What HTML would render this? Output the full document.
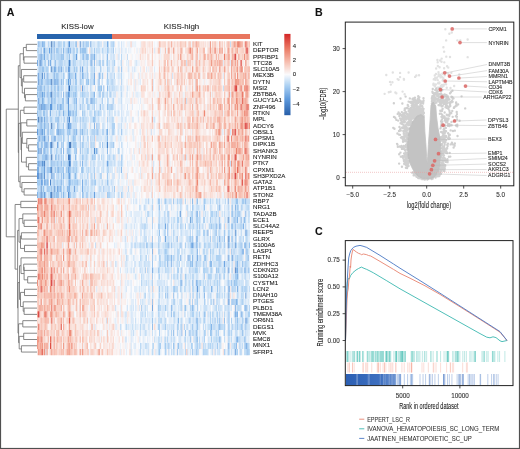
<!DOCTYPE html><html><head><meta charset="utf-8"><style>html,body{margin:0;padding:0;background:#fff;}svg{display:block;font-family:"Liberation Sans",sans-serif;filter:blur(0.35px);}text{stroke:#2a2a2a;stroke-width:0.09px;}</style></head><body>
<svg width="520" height="449" viewBox="0 0 520 449">
<rect x="0" y="0" width="520" height="449" fill="#fff"/>
<text x="6.8" y="15.6" font-size="10.6" font-weight="bold" fill="#111">A</text>
<text x="315" y="16" font-size="10.6" font-weight="bold" fill="#111">B</text>
<text x="314.9" y="235.3" font-size="10.6" font-weight="bold" fill="#111">C</text>
<text x="77.4" y="28.8" font-size="7.9" text-anchor="middle" fill="#222">KISS-low</text>
<text x="181.5" y="28.8" font-size="7.9" text-anchor="middle" fill="#222">KISS-high</text>
<rect x="37" y="34" width="75" height="5" fill="#2764ad"/>
<rect x="112" y="34" width="138" height="5" fill="#e8765f"/>
<g transform="translate(37,41.2) scale(1.18333,6.28)">
<path fill="#285ea8" d="M12 0h1v1h-1zM12 13h1v1h-1zM1 12h1v1h-1zM12 18h1v1h-1zM12 24h1v1h-1z"/>
<path fill="#2d63ad" d="M12 16h1v1h-1zM28 16h1v1h-1z"/>
<path fill="#336ab3" d="M12 8h1v1h-1zM12 20h1v1h-1zM27 7h1v1h-1z"/>
<path fill="#3970b9" d="M12 6h1v1h-1zM167 36h1v1h-1z"/>
<path fill="#3e77be" d="M2 3h1v1h-1zM6 19h1v1h-1zM12 4h1v1h-1zM26 18h1v1h-1zM161 28h1v1h-1zM161 31h1v1h-1z"/>
<path fill="#447ec4" d="M3 10h1v1h-1zM3 17h1v1h-1zM3 21h1v1h-1zM3 23h1v1h-1zM27 19h1v1h-1z"/>
<path fill="#4a84ca" d="M1 6h1v1h-1zM1 21h1v1h-1zM3 12h1v1h-1zM3 24h1v1h-1zM4 5h1v1h-1zM6 21h1v1h-1zM11 22h1v1h-1zM14 23h1v1h-1zM27 3h1v1h-1zM27 12h1v1h-1zM27 16h1v1h-1zM27 18h1v1h-1zM36 0h1v1h-1zM59 16h1v1h-1zM161 32h1v1h-1zM167 30h1v1h-1z"/>
<path fill="#508bd0" d="M4 19h1v1h-1zM26 9h1v1h-1zM26 24h1v1h-1zM48 17h1v1h-1zM121 27h1v1h-1zM129 28h1v1h-1zM161 36h1v1h-1zM167 32h1v1h-1zM176 40h1v1h-1zM176 44h1v1h-1z"/>
<path fill="#5691d6" d="M1 5h1v1h-1zM1 9h1v1h-1zM1 17h1v1h-1zM3 2h1v1h-1zM6 15h1v1h-1zM6 20h1v1h-1zM6 24h1v1h-1zM7 18h1v1h-1zM12 1h1v1h-1zM12 21h1v1h-1zM14 0h1v1h-1zM18 14h1v1h-1zM26 13h1v1h-1zM27 0h1v1h-1zM28 19h1v1h-1zM31 23h1v1h-1zM135 39h1v1h-1zM144 30h1v1h-1zM161 25h1v1h-1zM161 34h1v1h-1zM161 41h1v1h-1zM165 34h1v1h-1zM167 49h1v1h-1zM176 30h1v1h-1z"/>
<path fill="#5c98dc" d="M0 21h1v1h-1zM1 19h1v1h-1zM3 3h1v1h-1zM4 8h1v1h-1zM4 14h1v1h-1zM6 1h1v1h-1zM8 16h1v1h-1zM11 10h1v1h-1zM12 9h1v2h-1zM17 16h1v1h-1zM17 23h1v1h-1zM18 4h1v1h-1zM26 6h1v1h-1zM26 8h1v1h-1zM26 10h1v2h-1zM30 11h1v1h-1zM33 2h1v1h-1zM45 0h1v1h-1zM52 5h1v1h-1zM154 29h1v1h-1zM154 31h1v1h-1zM167 26h1v1h-1zM167 43h1v1h-1z"/>
<path fill="#669fdf" d="M0 14h1v1h-1zM3 7h1v1h-1zM3 13h1v1h-1zM6 2h1v1h-1zM6 12h1v1h-1zM6 22h1v1h-1zM8 5h1v1h-1zM8 18h1v1h-1zM14 5h1v2h-1zM14 15h1v1h-1zM20 4h1v1h-1zM26 4h1v1h-1zM27 21h1v1h-1zM28 18h1v1h-1zM36 4h1v1h-1zM46 9h1v1h-1zM48 24h1v1h-1zM50 17h1v1h-1zM134 38h1v1h-1zM161 48h1v1h-1zM167 42h1v1h-1zM172 43h1v1h-1zM176 25h1v1h-1z"/>
<path fill="#70a6e2" d="M2 8h1v1h-1zM2 19h1v1h-1zM3 14h1v1h-1zM3 22h1v1h-1zM4 9h1v1h-1zM4 22h1v1h-1zM6 5h1v1h-1zM6 10h1v1h-1zM6 14h1v1h-1zM7 16h1v1h-1zM8 11h1v2h-1zM9 3h1v1h-1zM9 15h1v1h-1zM10 1h1v1h-1zM11 16h1v1h-1zM11 20h1v1h-1zM11 24h1v1h-1zM14 1h1v1h-1zM14 24h1v1h-1zM18 18h1v1h-1zM25 12h1v1h-1zM26 20h1v1h-1zM27 4h1v1h-1zM28 6h1v1h-1zM28 13h1v1h-1zM38 4h1v1h-1zM38 7h1v1h-1zM45 9h1v1h-1zM46 3h1v1h-1zM52 6h1v1h-1zM59 19h1v1h-1zM97 42h1v1h-1zM108 29h1v1h-1zM108 31h1v1h-1zM111 32h1v1h-1zM122 38h1v1h-1zM122 46h1v1h-1zM131 32h1v1h-1zM134 46h1v1h-1zM135 34h1v1h-1zM149 41h1v1h-1zM154 26h1v1h-1zM154 45h1v1h-1zM154 47h1v1h-1zM158 35h1v1h-1zM161 40h1v1h-1zM172 28h1v1h-1zM176 27h1v1h-1zM176 32h1v1h-1zM176 42h1v1h-1zM177 33h1v1h-1z"/>
<path fill="#7baee5" d="M0 3h1v1h-1zM0 20h1v1h-1zM1 0h1v1h-1zM1 20h1v1h-1zM2 7h1v1h-1zM2 14h1v1h-1zM3 1h1v1h-1zM4 0h1v1h-1zM6 8h1v1h-1zM6 13h1v1h-1zM7 10h1v1h-1zM7 22h1v1h-1zM8 8h1v1h-1zM11 3h1v1h-1zM11 11h1v1h-1zM12 2h1v1h-1zM12 7h1v1h-1zM12 19h1v1h-1zM14 4h1v1h-1zM15 4h1v1h-1zM17 14h1v1h-1zM18 12h1v1h-1zM20 6h1v1h-1zM20 17h1v1h-1zM20 19h1v1h-1zM20 22h1v1h-1zM22 11h1v1h-1zM24 4h1v1h-1zM24 8h1v1h-1zM26 1h1v1h-1zM26 7h1v1h-1zM27 5h1v1h-1zM27 8h1v1h-1zM27 13h1v1h-1zM28 1h1v1h-1zM32 5h1v1h-1zM36 1h1v1h-1zM36 15h1v1h-1zM36 17h1v1h-1zM38 22h1v2h-1zM45 3h1v1h-1zM46 2h1v1h-1zM48 2h1v1h-1zM48 5h1v1h-1zM51 14h1v1h-1zM56 7h1v1h-1zM59 0h1v1h-1zM59 14h1v1h-1zM97 36h1v1h-1zM110 35h1v1h-1zM113 34h1v1h-1zM121 34h1v1h-1zM128 34h1v1h-1zM134 31h1v2h-1zM134 35h1v1h-1zM154 28h1v1h-1zM154 44h1v1h-1zM162 39h1v1h-1zM165 27h1v1h-1zM169 36h1v1h-1zM177 44h1v1h-1zM178 34h1v1h-1z"/>
<path fill="#85b5e8" d="M0 24h1v1h-1zM1 15h1v2h-1zM2 2h1v1h-1zM2 4h1v1h-1zM2 15h1v1h-1zM2 17h1v1h-1zM2 21h1v1h-1zM2 24h1v1h-1zM3 19h1v1h-1zM4 10h1v1h-1zM5 10h1v1h-1zM5 19h1v1h-1zM6 16h1v2h-1zM8 6h1v1h-1zM8 20h1v1h-1zM8 23h1v1h-1zM9 13h1v2h-1zM11 8h1v1h-1zM12 15h1v1h-1zM12 17h1v1h-1zM12 23h1v1h-1zM14 21h1v2h-1zM15 6h1v1h-1zM15 15h1v1h-1zM17 6h1v1h-1zM17 10h1v1h-1zM17 13h1v1h-1zM18 0h1v1h-1zM18 23h1v1h-1zM19 10h1v1h-1zM20 10h1v1h-1zM20 21h1v1h-1zM22 1h1v1h-1zM22 17h1v1h-1zM22 21h1v1h-1zM22 24h1v1h-1zM25 17h1v1h-1zM27 22h1v2h-1zM28 11h1v1h-1zM30 3h1v1h-1zM30 20h1v1h-1zM33 9h1v1h-1zM33 14h1v1h-1zM34 22h1v1h-1zM36 10h1v1h-1zM36 14h1v1h-1zM36 19h1v1h-1zM38 5h1v1h-1zM38 19h1v1h-1zM39 2h1v1h-1zM41 0h1v1h-1zM41 2h1v1h-1zM41 22h1v1h-1zM46 22h1v1h-1zM48 6h1v1h-1zM48 8h1v1h-1zM48 13h1v1h-1zM56 23h1v1h-1zM97 33h1v1h-1zM110 34h1v1h-1zM111 48h1v1h-1zM113 35h1v1h-1zM113 42h1v1h-1zM118 31h1v1h-1zM118 49h1v1h-1zM121 38h1v1h-1zM122 36h1v1h-1zM127 34h1v1h-1zM129 35h1v1h-1zM130 32h1v1h-1zM134 44h1v1h-1zM134 49h1v1h-1zM135 27h1v1h-1zM135 33h1v1h-1zM147 39h1v1h-1zM147 45h1v1h-1zM150 44h1v1h-1zM151 29h1v1h-1zM154 37h1v1h-1zM161 38h1v2h-1zM161 49h1v1h-1zM162 31h1v1h-1zM165 26h1v1h-1zM166 28h1v1h-1zM167 29h1v1h-1zM168 41h1v1h-1zM169 28h1v1h-1zM169 35h1v1h-1zM169 37h1v1h-1zM169 39h1v1h-1zM169 43h1v1h-1zM169 47h1v1h-1zM172 32h1v1h-1zM173 33h1v1h-1zM174 29h1v1h-1zM175 28h1v1h-1zM176 36h1v1h-1zM176 45h1v1h-1zM176 48h1v1h-1zM177 30h1v1h-1zM177 48h1v2h-1z"/>
<path fill="#8fbcea" d="M0 16h1v1h-1zM1 7h1v1h-1zM1 10h1v1h-1zM2 10h1v2h-1zM2 13h1v1h-1zM3 6h1v1h-1zM3 8h1v1h-1zM4 6h1v1h-1zM4 12h1v1h-1zM4 15h1v1h-1zM4 21h1v1h-1zM4 24h1v1h-1zM6 7h1v1h-1zM7 24h1v1h-1zM8 2h1v1h-1zM8 10h1v1h-1zM8 21h1v2h-1zM9 6h1v1h-1zM9 20h1v1h-1zM9 22h1v1h-1zM13 16h1v1h-1zM13 21h1v1h-1zM14 2h1v1h-1zM14 19h1v1h-1zM15 3h1v1h-1zM15 18h1v1h-1zM17 20h1v1h-1zM18 6h1v1h-1zM18 8h1v1h-1zM18 20h1v1h-1zM19 23h1v1h-1zM20 2h1v1h-1zM20 23h1v2h-1zM22 8h1v1h-1zM25 8h1v2h-1zM25 13h1v1h-1zM25 23h1v1h-1zM26 0h1v1h-1zM26 5h1v1h-1zM26 12h1v1h-1zM26 19h1v1h-1zM26 21h1v1h-1zM26 23h1v1h-1zM27 11h1v1h-1zM27 20h1v1h-1zM27 24h1v1h-1zM28 3h1v1h-1zM28 22h1v1h-1zM29 7h1v1h-1zM31 4h1v1h-1zM31 9h1v1h-1zM31 14h1v1h-1zM32 18h1v1h-1zM32 21h1v1h-1zM36 6h1v1h-1zM36 12h1v1h-1zM36 16h1v1h-1zM38 14h1v1h-1zM39 0h1v1h-1zM40 11h1v1h-1zM42 2h1v1h-1zM45 2h1v1h-1zM45 15h1v1h-1zM48 3h1v1h-1zM50 13h1v1h-1zM53 10h1v1h-1zM59 2h1v1h-1zM59 7h1v1h-1zM59 15h1v1h-1zM59 17h1v1h-1zM62 8h1v1h-1zM63 10h1v1h-1zM71 20h1v1h-1zM97 32h1v1h-1zM97 45h1v1h-1zM110 29h1v2h-1zM110 40h1v1h-1zM111 28h1v1h-1zM113 43h1v1h-1zM115 46h1v1h-1zM115 48h1v1h-1zM119 44h1v1h-1zM122 45h1v1h-1zM128 44h1v1h-1zM128 46h1v1h-1zM129 31h1v1h-1zM129 47h1v1h-1zM131 25h1v1h-1zM131 34h1v2h-1zM131 42h1v1h-1zM132 32h1v1h-1zM134 27h1v1h-1zM135 25h1v1h-1zM135 31h1v1h-1zM135 44h1v2h-1zM135 47h1v1h-1zM141 40h1v1h-1zM144 38h1v1h-1zM146 35h1v1h-1zM147 35h1v1h-1zM151 30h1v1h-1zM151 36h1v1h-1zM154 33h1v1h-1zM161 37h1v1h-1zM161 45h1v1h-1zM162 41h1v1h-1zM165 31h1v1h-1zM165 41h1v1h-1zM166 33h1v1h-1zM167 27h1v1h-1zM167 31h1v1h-1zM168 36h1v1h-1zM168 48h1v1h-1zM171 27h1v1h-1zM171 48h1v1h-1zM173 35h1v1h-1zM173 46h1v1h-1zM174 33h1v1h-1zM175 32h1v1h-1zM175 36h1v1h-1zM176 35h1v1h-1zM177 42h1v1h-1zM178 36h1v1h-1z"/>
<path fill="#9ac4ed" d="M0 8h1v1h-1zM0 11h1v1h-1zM0 19h1v1h-1zM1 2h1v1h-1zM1 14h1v1h-1zM1 18h1v1h-1zM2 0h1v1h-1zM2 6h1v1h-1zM2 9h1v1h-1zM2 12h1v1h-1zM3 5h1v1h-1zM3 11h1v1h-1zM3 15h1v2h-1zM4 4h1v1h-1zM4 16h1v1h-1zM5 0h1v1h-1zM5 4h1v1h-1zM5 9h1v1h-1zM5 11h1v1h-1zM5 15h1v1h-1zM5 23h1v1h-1zM6 0h1v1h-1zM6 11h1v1h-1zM7 6h1v1h-1zM7 13h1v1h-1zM7 15h1v1h-1zM7 17h1v1h-1zM8 14h1v1h-1zM9 7h1v4h-1zM9 23h1v1h-1zM11 6h1v1h-1zM13 9h1v1h-1zM13 14h1v1h-1zM13 19h1v1h-1zM13 24h1v1h-1zM14 8h1v1h-1zM15 20h1v1h-1zM16 6h1v1h-1zM16 24h1v1h-1zM17 5h1v1h-1zM17 7h1v1h-1zM17 12h1v1h-1zM17 19h1v1h-1zM17 24h1v1h-1zM18 1h1v2h-1zM18 7h1v1h-1zM18 10h1v1h-1zM18 13h1v1h-1zM18 15h1v1h-1zM18 21h1v1h-1zM18 24h1v1h-1zM19 3h1v1h-1zM19 14h1v1h-1zM19 20h1v1h-1zM20 1h1v1h-1zM20 8h1v1h-1zM20 14h1v1h-1zM20 16h1v1h-1zM20 18h1v1h-1zM22 2h1v1h-1zM22 9h1v1h-1zM22 20h1v1h-1zM23 12h1v1h-1zM24 18h1v1h-1zM25 1h1v1h-1zM26 3h1v1h-1zM26 17h1v1h-1zM27 2h1v1h-1zM27 14h1v1h-1zM28 20h1v2h-1zM28 24h1v1h-1zM29 5h1v1h-1zM30 1h1v2h-1zM30 6h1v1h-1zM30 12h1v1h-1zM30 14h1v2h-1zM31 15h1v1h-1zM32 8h1v1h-1zM33 0h1v1h-1zM33 10h1v2h-1zM33 17h1v1h-1zM36 5h1v1h-1zM36 13h1v1h-1zM38 1h1v1h-1zM38 20h1v1h-1zM38 24h1v1h-1zM39 1h1v1h-1zM39 5h1v1h-1zM39 15h1v1h-1zM40 1h1v1h-1zM40 13h1v1h-1zM41 1h1v1h-1zM41 9h1v1h-1zM41 18h1v2h-1zM41 24h1v1h-1zM43 6h1v1h-1zM45 6h1v2h-1zM45 16h1v1h-1zM45 24h1v1h-1zM46 4h1v1h-1zM46 14h1v1h-1zM47 9h1v1h-1zM47 12h1v1h-1zM48 12h1v1h-1zM52 3h1v1h-1zM52 8h1v1h-1zM52 13h1v1h-1zM52 18h1v1h-1zM54 7h1v1h-1zM55 5h1v1h-1zM55 16h1v1h-1zM56 3h1v1h-1zM56 8h1v1h-1zM58 14h1v1h-1zM59 10h1v1h-1zM59 22h1v1h-1zM62 10h1v1h-1zM62 16h1v1h-1zM63 6h1v1h-1zM63 14h1v1h-1zM64 1h1v1h-1zM64 16h1v1h-1zM68 17h1v1h-1zM88 42h1v1h-1zM90 32h1v1h-1zM91 36h1v1h-1zM94 25h1v1h-1zM97 35h1v1h-1zM97 41h1v1h-1zM97 44h1v1h-1zM102 36h1v1h-1zM102 42h1v1h-1zM103 26h1v1h-1zM103 30h1v1h-1zM111 27h1v1h-1zM111 34h1v1h-1zM111 49h1v1h-1zM113 32h1v1h-1zM115 25h1v1h-1zM115 40h1v1h-1zM116 41h1v1h-1zM116 43h1v1h-1zM118 25h1v1h-1zM118 37h1v1h-1zM118 45h1v2h-1zM119 48h1v1h-1zM121 29h1v1h-1zM121 32h1v1h-1zM121 39h1v1h-1zM122 33h1v1h-1zM122 40h1v1h-1zM122 42h1v1h-1zM122 44h1v1h-1zM125 42h1v1h-1zM125 46h1v1h-1zM128 38h1v1h-1zM134 28h1v1h-1zM134 47h1v1h-1zM135 38h1v1h-1zM137 29h1v1h-1zM138 34h1v1h-1zM141 26h1v1h-1zM141 43h1v1h-1zM142 34h1v1h-1zM144 41h1v1h-1zM146 46h1v1h-1zM150 49h1v1h-1zM151 27h1v1h-1zM152 32h1v1h-1zM154 25h1v1h-1zM154 34h1v2h-1zM154 38h1v1h-1zM154 43h1v1h-1zM155 32h1v1h-1zM158 31h1v1h-1zM158 44h1v1h-1zM161 26h1v1h-1zM161 43h1v2h-1zM161 46h1v1h-1zM162 32h1v1h-1zM164 29h1v1h-1zM164 38h1v1h-1zM165 29h1v1h-1zM165 32h1v1h-1zM165 39h1v1h-1zM165 45h1v1h-1zM166 38h1v1h-1zM166 41h1v1h-1zM167 28h1v1h-1zM167 38h1v1h-1zM167 44h1v1h-1zM168 25h1v1h-1zM168 43h1v1h-1zM168 47h1v1h-1zM169 25h1v1h-1zM169 44h1v1h-1zM170 27h1v1h-1zM171 31h1v1h-1zM172 26h1v1h-1zM172 29h1v2h-1zM172 36h1v1h-1zM172 49h1v1h-1zM175 47h1v1h-1zM176 29h1v1h-1zM176 39h1v1h-1zM177 31h1v1h-1zM178 43h1v1h-1zM178 49h1v1h-1zM179 32h1v1h-1z"/>
<path fill="#a4cbf0" d="M0 7h1v1h-1zM0 22h1v1h-1zM1 1h1v1h-1zM1 8h1v1h-1zM1 22h1v3h-1zM2 5h1v1h-1zM2 22h1v1h-1zM3 4h1v1h-1zM3 20h1v1h-1zM4 2h1v1h-1zM4 18h1v1h-1zM4 20h1v1h-1zM5 1h1v1h-1zM5 8h1v1h-1zM5 17h1v2h-1zM5 20h1v1h-1zM6 18h1v1h-1zM8 1h1v1h-1zM8 7h1v1h-1zM8 13h1v1h-1zM8 19h1v1h-1zM9 0h1v1h-1zM9 5h1v1h-1zM9 16h1v1h-1zM9 18h1v1h-1zM10 20h1v1h-1zM11 17h1v1h-1zM12 14h1v1h-1zM13 10h1v1h-1zM13 15h1v1h-1zM13 22h1v1h-1zM14 7h1v1h-1zM14 9h1v1h-1zM14 13h1v1h-1zM15 7h1v3h-1zM15 23h1v1h-1zM16 1h1v1h-1zM16 5h1v1h-1zM17 1h1v1h-1zM17 8h1v1h-1zM17 22h1v1h-1zM18 3h1v1h-1zM18 5h1v1h-1zM18 9h1v1h-1zM18 11h1v1h-1zM18 16h1v1h-1zM18 19h1v1h-1zM19 0h1v1h-1zM19 2h1v1h-1zM19 4h1v1h-1zM19 11h1v1h-1zM19 22h1v1h-1zM20 3h1v1h-1zM20 7h1v1h-1zM20 15h1v1h-1zM20 20h1v1h-1zM21 2h1v1h-1zM21 9h1v1h-1zM22 5h1v2h-1zM22 10h1v1h-1zM22 13h1v4h-1zM23 19h1v1h-1zM24 1h1v1h-1zM24 9h1v1h-1zM24 20h1v1h-1zM25 2h1v1h-1zM25 14h1v1h-1zM25 19h1v2h-1zM26 14h1v3h-1zM26 22h1v1h-1zM27 17h1v1h-1zM28 5h1v1h-1zM29 13h1v1h-1zM30 0h1v1h-1zM30 5h1v1h-1zM30 8h1v1h-1zM30 16h1v1h-1zM30 24h1v1h-1zM31 1h1v1h-1zM31 8h1v1h-1zM31 10h1v1h-1zM31 16h1v1h-1zM31 22h1v1h-1zM32 6h1v1h-1zM32 16h1v1h-1zM33 4h1v1h-1zM33 6h1v1h-1zM33 20h1v1h-1zM36 7h1v1h-1zM37 20h1v1h-1zM38 8h1v1h-1zM38 11h1v1h-1zM38 16h1v1h-1zM38 18h1v1h-1zM39 9h1v1h-1zM39 12h1v1h-1zM39 24h1v1h-1zM40 8h1v1h-1zM40 14h1v1h-1zM41 6h1v1h-1zM41 12h1v1h-1zM42 4h1v3h-1zM42 9h1v1h-1zM42 14h1v1h-1zM42 17h1v1h-1zM42 24h1v1h-1zM45 8h1v1h-1zM45 19h1v1h-1zM46 1h1v1h-1zM46 5h1v1h-1zM46 16h1v1h-1zM46 18h1v1h-1zM46 21h1v1h-1zM47 2h1v1h-1zM47 6h1v1h-1zM47 8h1v1h-1zM47 14h1v1h-1zM47 18h1v1h-1zM48 1h1v1h-1zM48 4h1v1h-1zM48 9h1v1h-1zM48 11h1v1h-1zM48 21h1v1h-1zM49 22h1v1h-1zM50 14h1v1h-1zM51 0h1v1h-1zM51 7h1v1h-1zM52 1h1v1h-1zM52 7h1v1h-1zM53 3h1v2h-1zM53 7h1v2h-1zM55 8h1v2h-1zM56 14h1v1h-1zM59 1h1v1h-1zM59 3h1v1h-1zM59 5h1v1h-1zM59 21h1v1h-1zM59 24h1v1h-1zM61 18h1v1h-1zM62 0h1v1h-1zM62 5h1v1h-1zM63 7h1v1h-1zM63 12h1v1h-1zM63 23h1v1h-1zM64 0h1v1h-1zM64 14h1v1h-1zM65 23h1v1h-1zM71 4h1v1h-1zM71 14h1v1h-1zM79 33h1v1h-1zM88 38h1v1h-1zM90 26h1v1h-1zM90 29h1v2h-1zM90 45h1v1h-1zM91 40h1v1h-1zM92 32h1v1h-1zM97 31h1v1h-1zM97 34h1v1h-1zM97 37h1v1h-1zM102 25h1v1h-1zM102 29h1v1h-1zM102 32h1v1h-1zM103 25h1v1h-1zM103 39h1v1h-1zM103 49h1v1h-1zM104 48h1v1h-1zM108 25h1v1h-1zM108 33h1v1h-1zM108 40h1v1h-1zM108 42h1v1h-1zM108 45h1v1h-1zM108 48h1v1h-1zM110 27h1v1h-1zM110 32h1v1h-1zM110 39h1v1h-1zM110 47h1v1h-1zM113 46h1v1h-1zM115 39h1v1h-1zM115 43h1v1h-1zM116 39h1v1h-1zM118 29h1v1h-1zM118 36h1v1h-1zM118 39h1v1h-1zM121 37h1v1h-1zM122 25h1v1h-1zM122 28h1v1h-1zM122 32h1v1h-1zM122 48h1v1h-1zM125 37h1v1h-1zM128 29h1v1h-1zM128 31h1v1h-1zM129 30h1v1h-1zM129 32h1v1h-1zM129 34h1v1h-1zM129 42h1v1h-1zM129 46h1v1h-1zM131 26h1v1h-1zM131 28h1v1h-1zM131 31h1v1h-1zM131 38h1v1h-1zM131 45h1v1h-1zM131 49h1v1h-1zM132 29h1v1h-1zM132 42h1v1h-1zM133 41h1v1h-1zM135 28h1v2h-1zM135 32h1v1h-1zM135 40h1v3h-1zM135 48h1v1h-1zM137 27h1v1h-1zM137 32h1v1h-1zM137 40h1v1h-1zM137 43h1v1h-1zM140 28h1v1h-1zM140 35h1v1h-1zM140 49h1v1h-1zM141 25h1v1h-1zM141 34h1v1h-1zM141 39h1v1h-1zM144 36h1v1h-1zM144 40h1v1h-1zM144 43h1v1h-1zM144 49h1v1h-1zM146 28h1v1h-1zM146 31h1v1h-1zM146 33h1v1h-1zM147 29h1v1h-1zM147 46h1v1h-1zM148 43h1v1h-1zM149 45h1v1h-1zM150 30h1v3h-1zM151 42h1v1h-1zM151 46h1v1h-1zM152 39h1v1h-1zM152 48h1v1h-1zM153 36h1v1h-1zM154 32h1v1h-1zM154 39h1v2h-1zM155 29h1v1h-1zM155 34h1v2h-1zM155 45h1v1h-1zM158 30h1v1h-1zM158 36h1v1h-1zM161 42h1v1h-1zM161 47h1v1h-1zM162 40h1v1h-1zM162 46h1v1h-1zM164 33h1v1h-1zM164 44h1v1h-1zM165 36h1v1h-1zM167 35h1v1h-1zM167 37h1v1h-1zM167 39h1v1h-1zM167 41h1v1h-1zM167 45h1v1h-1zM168 37h1v2h-1zM169 26h1v1h-1zM169 41h1v1h-1zM169 45h1v1h-1zM171 29h1v1h-1zM171 32h1v1h-1zM171 42h1v1h-1zM171 47h1v1h-1zM172 33h1v2h-1zM172 45h1v1h-1zM173 25h1v1h-1zM173 39h1v1h-1zM173 41h1v1h-1zM173 43h1v3h-1zM174 25h1v1h-1zM175 42h1v1h-1zM176 33h1v1h-1zM176 37h1v2h-1zM176 43h1v1h-1zM176 46h1v2h-1zM177 34h1v1h-1zM177 39h1v1h-1zM178 26h1v1h-1zM178 48h1v1h-1z"/>
<path fill="#aed2f3" d="M0 12h1v1h-1zM0 17h1v2h-1zM1 4h1v1h-1zM1 11h1v1h-1zM1 13h1v1h-1zM2 18h1v1h-1zM2 23h1v1h-1zM3 0h1v1h-1zM3 9h1v1h-1zM4 3h1v1h-1zM4 13h1v1h-1zM5 2h1v1h-1zM5 14h1v1h-1zM5 21h1v1h-1zM5 24h1v1h-1zM6 3h1v1h-1zM7 1h1v1h-1zM7 3h1v2h-1zM7 12h1v1h-1zM8 4h1v1h-1zM8 17h1v1h-1zM9 2h1v1h-1zM9 4h1v1h-1zM9 17h1v1h-1zM9 19h1v1h-1zM9 21h1v1h-1zM10 6h1v1h-1zM10 23h1v1h-1zM11 12h1v1h-1zM11 14h1v1h-1zM12 12h1v1h-1zM13 0h1v1h-1zM13 4h1v3h-1zM13 8h1v1h-1zM13 11h1v1h-1zM13 13h1v1h-1zM14 3h1v1h-1zM14 20h1v1h-1zM15 12h1v1h-1zM15 24h1v1h-1zM16 12h1v1h-1zM16 14h1v1h-1zM16 17h1v2h-1zM17 2h1v1h-1zM18 22h1v1h-1zM19 15h1v1h-1zM19 17h1v1h-1zM19 19h1v1h-1zM20 0h1v1h-1zM21 10h1v1h-1zM21 14h1v1h-1zM21 20h1v1h-1zM22 0h1v1h-1zM22 18h1v2h-1zM22 22h1v2h-1zM23 0h1v1h-1zM23 3h1v1h-1zM24 7h1v1h-1zM24 11h1v1h-1zM24 19h1v1h-1zM24 21h1v1h-1zM24 24h1v1h-1zM25 16h1v1h-1zM27 1h1v1h-1zM27 6h1v1h-1zM28 14h1v1h-1zM28 17h1v1h-1zM29 11h1v1h-1zM29 15h1v2h-1zM29 22h1v1h-1zM30 7h1v1h-1zM30 9h1v1h-1zM30 19h1v1h-1zM30 22h1v1h-1zM31 2h1v1h-1zM31 17h1v1h-1zM31 20h1v2h-1zM31 24h1v1h-1zM32 0h1v1h-1zM32 7h1v1h-1zM32 9h1v1h-1zM32 11h1v2h-1zM32 14h1v2h-1zM32 17h1v1h-1zM32 22h1v1h-1zM33 1h1v1h-1zM33 7h1v2h-1zM33 19h1v1h-1zM33 22h1v1h-1zM34 1h1v1h-1zM34 23h1v1h-1zM36 3h1v1h-1zM36 8h1v1h-1zM36 22h1v1h-1zM36 24h1v1h-1zM37 1h1v1h-1zM38 2h1v1h-1zM39 3h1v1h-1zM39 8h1v1h-1zM39 16h1v1h-1zM39 18h1v1h-1zM39 20h1v1h-1zM40 17h1v1h-1zM40 22h1v1h-1zM41 13h1v1h-1zM41 16h1v1h-1zM42 0h1v1h-1zM42 3h1v1h-1zM42 10h1v1h-1zM42 15h1v1h-1zM42 21h1v1h-1zM43 0h1v1h-1zM43 2h1v1h-1zM43 10h1v1h-1zM45 5h1v1h-1zM45 11h1v3h-1zM45 20h1v2h-1zM46 8h1v1h-1zM46 23h1v1h-1zM48 10h1v1h-1zM48 14h1v2h-1zM48 18h1v1h-1zM48 20h1v1h-1zM48 22h1v1h-1zM50 1h1v1h-1zM51 6h1v1h-1zM51 11h1v1h-1zM51 13h1v1h-1zM51 17h1v1h-1zM52 0h1v1h-1zM52 11h1v1h-1zM52 23h1v2h-1zM53 5h1v1h-1zM53 16h1v1h-1zM53 21h1v1h-1zM55 1h1v1h-1zM55 3h1v1h-1zM55 14h1v1h-1zM56 18h1v3h-1zM59 4h1v1h-1zM59 6h1v1h-1zM59 12h1v1h-1zM60 19h1v1h-1zM60 24h1v1h-1zM61 7h1v2h-1zM61 10h1v2h-1zM61 24h1v1h-1zM62 2h1v1h-1zM62 6h1v1h-1zM62 17h1v1h-1zM63 0h1v1h-1zM63 13h1v1h-1zM63 16h1v1h-1zM64 9h1v1h-1zM64 13h1v1h-1zM64 18h1v1h-1zM65 3h1v1h-1zM65 13h1v1h-1zM68 14h1v1h-1zM68 19h1v1h-1zM71 18h1v2h-1zM71 24h1v1h-1zM74 31h1v1h-1zM79 27h1v1h-1zM79 32h1v1h-1zM79 36h1v1h-1zM83 32h1v1h-1zM83 44h1v1h-1zM88 37h1v1h-1zM89 41h1v1h-1zM91 29h1v1h-1zM91 43h1v1h-1zM93 32h1v1h-1zM94 39h1v1h-1zM96 32h1v1h-1zM97 26h1v1h-1zM97 28h1v2h-1zM97 38h1v1h-1zM100 34h1v1h-1zM102 31h1v1h-1zM102 43h1v1h-1zM102 45h1v1h-1zM103 29h1v1h-1zM103 34h1v1h-1zM103 37h1v1h-1zM103 40h1v1h-1zM103 45h1v2h-1zM103 48h1v1h-1zM104 35h1v1h-1zM106 32h1v1h-1zM107 27h1v1h-1zM107 33h1v1h-1zM108 34h1v1h-1zM108 49h1v1h-1zM109 33h1v1h-1zM111 31h1v1h-1zM111 36h1v1h-1zM113 29h1v1h-1zM115 30h1v1h-1zM115 34h1v1h-1zM115 41h1v1h-1zM116 28h1v1h-1zM116 33h1v1h-1zM116 37h1v1h-1zM116 44h1v1h-1zM117 39h1v1h-1zM118 27h1v2h-1zM118 35h1v1h-1zM118 40h1v1h-1zM119 28h1v1h-1zM119 36h1v1h-1zM121 25h1v2h-1zM121 45h1v1h-1zM122 29h1v1h-1zM124 45h1v1h-1zM125 29h1v1h-1zM125 32h1v1h-1zM127 26h1v2h-1zM127 45h1v1h-1zM129 29h1v1h-1zM129 40h1v1h-1zM129 44h1v1h-1zM130 35h1v1h-1zM130 48h1v1h-1zM131 27h1v1h-1zM131 41h1v1h-1zM131 43h1v1h-1zM132 37h1v1h-1zM132 40h1v1h-1zM132 43h1v1h-1zM133 36h1v1h-1zM134 36h1v1h-1zM134 40h1v1h-1zM134 43h1v1h-1zM134 45h1v1h-1zM134 48h1v1h-1zM135 30h1v1h-1zM135 36h1v1h-1zM137 28h1v1h-1zM137 30h1v1h-1zM137 38h1v1h-1zM137 47h1v2h-1zM138 38h1v1h-1zM138 44h1v1h-1zM140 30h1v1h-1zM140 33h1v1h-1zM140 36h1v1h-1zM140 38h1v2h-1zM140 45h1v1h-1zM140 48h1v1h-1zM141 28h1v1h-1zM141 30h1v1h-1zM141 32h1v1h-1zM141 36h1v2h-1zM141 41h1v1h-1zM141 44h1v1h-1zM141 46h1v2h-1zM143 33h1v1h-1zM143 35h1v2h-1zM144 31h1v1h-1zM144 37h1v1h-1zM144 39h1v1h-1zM144 45h1v2h-1zM145 37h1v1h-1zM146 25h1v1h-1zM146 34h1v1h-1zM146 37h1v1h-1zM146 43h1v3h-1zM146 48h1v1h-1zM147 27h1v1h-1zM147 36h1v1h-1zM147 47h1v1h-1zM148 27h1v1h-1zM148 39h1v1h-1zM148 44h1v1h-1zM148 48h1v1h-1zM149 31h1v1h-1zM149 35h1v1h-1zM149 47h1v1h-1zM150 28h1v2h-1zM150 45h1v1h-1zM151 25h1v1h-1zM151 34h1v1h-1zM151 47h1v1h-1zM152 34h1v1h-1zM152 38h1v1h-1zM152 40h1v1h-1zM152 43h1v2h-1zM153 34h1v1h-1zM153 45h1v2h-1zM154 30h1v1h-1zM154 48h1v1h-1zM155 42h1v1h-1zM155 47h1v1h-1zM156 31h1v1h-1zM156 40h1v1h-1zM156 45h1v1h-1zM158 32h1v1h-1zM158 37h1v1h-1zM158 39h1v1h-1zM158 45h1v2h-1zM158 49h1v1h-1zM159 25h1v1h-1zM161 30h1v1h-1zM161 33h1v1h-1zM161 35h1v1h-1zM162 28h1v1h-1zM162 30h1v1h-1zM162 34h1v1h-1zM162 36h1v1h-1zM162 43h1v3h-1zM162 48h1v1h-1zM164 27h1v1h-1zM164 31h1v1h-1zM164 34h1v1h-1zM164 41h1v1h-1zM164 46h1v1h-1zM165 25h1v1h-1zM165 30h1v1h-1zM165 35h1v1h-1zM166 39h1v1h-1zM166 48h1v1h-1zM167 25h1v1h-1zM167 34h1v1h-1zM167 48h1v1h-1zM168 32h1v1h-1zM168 35h1v1h-1zM169 27h1v1h-1zM169 34h1v1h-1zM169 49h1v1h-1zM170 26h1v1h-1zM170 47h1v1h-1zM171 33h1v3h-1zM171 45h1v1h-1zM171 49h1v1h-1zM172 39h1v1h-1zM172 41h1v1h-1zM175 39h1v1h-1zM175 48h1v1h-1zM176 28h1v1h-1zM176 31h1v1h-1zM176 34h1v1h-1zM176 49h1v1h-1zM177 26h1v1h-1zM177 32h1v1h-1zM177 35h1v1h-1zM179 43h1v1h-1z"/>
<path fill="#bbd9f4" d="M0 1h1v1h-1zM0 10h1v1h-1zM0 13h1v1h-1zM2 1h1v1h-1zM2 20h1v1h-1zM3 18h1v1h-1zM4 7h1v1h-1zM4 23h1v1h-1zM5 7h1v1h-1zM5 13h1v1h-1zM6 4h1v1h-1zM6 6h1v1h-1zM6 9h1v1h-1zM7 7h1v1h-1zM7 11h1v1h-1zM7 19h1v1h-1zM8 9h1v1h-1zM8 15h1v1h-1zM9 24h1v1h-1zM10 8h1v3h-1zM11 1h1v2h-1zM11 18h1v2h-1zM11 23h1v1h-1zM13 1h1v2h-1zM13 7h1v1h-1zM13 12h1v1h-1zM13 18h1v1h-1zM13 20h1v1h-1zM13 23h1v1h-1zM14 10h1v1h-1zM14 14h1v1h-1zM14 17h1v1h-1zM15 5h1v1h-1zM15 10h1v1h-1zM15 19h1v1h-1zM16 2h1v1h-1zM16 4h1v1h-1zM16 11h1v1h-1zM16 19h1v1h-1zM16 22h1v1h-1zM17 15h1v1h-1zM17 17h1v1h-1zM17 21h1v1h-1zM19 1h1v1h-1zM19 7h1v1h-1zM19 9h1v1h-1zM19 13h1v1h-1zM20 5h1v1h-1zM20 12h1v1h-1zM21 3h1v1h-1zM21 16h1v1h-1zM22 4h1v1h-1zM23 5h1v1h-1zM23 11h1v1h-1zM23 14h1v2h-1zM23 23h1v2h-1zM24 2h1v2h-1zM24 6h1v1h-1zM24 10h1v1h-1zM24 22h1v1h-1zM25 6h1v1h-1zM25 21h1v1h-1zM28 4h1v1h-1zM28 7h1v2h-1zM29 8h1v1h-1zM29 10h1v1h-1zM29 20h1v1h-1zM29 23h1v1h-1zM30 4h1v1h-1zM31 3h1v1h-1zM31 7h1v1h-1zM31 11h1v2h-1zM31 19h1v1h-1zM32 2h1v2h-1zM32 19h1v2h-1zM33 5h1v1h-1zM33 16h1v1h-1zM33 21h1v1h-1zM34 4h1v1h-1zM35 22h1v1h-1zM36 2h1v1h-1zM36 18h1v1h-1zM36 21h1v1h-1zM37 6h1v1h-1zM37 14h1v1h-1zM38 9h1v2h-1zM38 12h1v1h-1zM38 17h1v1h-1zM39 11h1v1h-1zM39 14h1v1h-1zM40 0h1v1h-1zM40 2h1v2h-1zM40 10h1v1h-1zM40 12h1v1h-1zM40 19h1v1h-1zM40 21h1v1h-1zM41 8h1v1h-1zM41 17h1v1h-1zM42 18h1v1h-1zM42 23h1v1h-1zM43 17h1v1h-1zM43 20h1v1h-1zM44 10h1v1h-1zM45 1h1v1h-1zM45 4h1v1h-1zM45 14h1v1h-1zM45 22h1v2h-1zM46 6h1v1h-1zM46 11h1v2h-1zM46 24h1v1h-1zM47 5h1v1h-1zM47 16h1v1h-1zM47 22h1v1h-1zM48 16h1v1h-1zM49 11h1v2h-1zM49 17h1v2h-1zM50 3h1v1h-1zM50 9h1v1h-1zM51 1h1v1h-1zM51 15h1v1h-1zM51 19h1v2h-1zM52 16h1v1h-1zM52 22h1v1h-1zM53 11h1v1h-1zM53 23h1v1h-1zM54 18h1v1h-1zM54 21h1v1h-1zM55 22h1v1h-1zM56 10h1v2h-1zM56 13h1v1h-1zM57 0h1v1h-1zM57 15h1v1h-1zM58 3h1v1h-1zM58 16h1v1h-1zM59 8h1v2h-1zM59 18h1v1h-1zM59 20h1v1h-1zM60 0h1v2h-1zM60 6h1v1h-1zM60 10h1v1h-1zM60 20h1v1h-1zM61 3h1v1h-1zM61 12h1v1h-1zM61 23h1v1h-1zM62 15h1v1h-1zM62 24h1v1h-1zM63 3h1v1h-1zM63 11h1v1h-1zM63 20h1v1h-1zM64 12h1v1h-1zM65 5h1v1h-1zM68 11h1v1h-1zM68 22h1v1h-1zM69 17h1v1h-1zM71 2h1v2h-1zM71 5h1v2h-1zM71 8h1v1h-1zM72 18h1v1h-1zM72 24h1v1h-1zM75 34h1v1h-1zM75 45h1v1h-1zM77 23h1v1h-1zM79 29h1v1h-1zM79 42h1v1h-1zM79 46h1v1h-1zM79 48h1v2h-1zM80 45h1v1h-1zM83 37h1v1h-1zM83 45h1v1h-1zM87 32h1v1h-1zM87 34h1v1h-1zM87 45h1v1h-1zM87 48h1v2h-1zM88 44h1v1h-1zM89 32h1v1h-1zM90 40h1v1h-1zM91 42h1v1h-1zM91 46h1v1h-1zM91 48h1v1h-1zM92 34h1v1h-1zM93 27h1v1h-1zM93 36h1v1h-1zM94 27h1v1h-1zM94 34h1v2h-1zM94 38h1v1h-1zM94 45h1v1h-1zM94 49h1v1h-1zM95 32h1v1h-1zM96 14h1v1h-1zM97 25h1v1h-1zM97 27h1v1h-1zM97 39h1v1h-1zM97 43h1v1h-1zM97 49h1v1h-1zM98 48h1v1h-1zM99 47h1v1h-1zM100 44h1v1h-1zM102 33h1v1h-1zM102 41h1v1h-1zM102 44h1v1h-1zM102 47h1v3h-1zM103 27h1v2h-1zM103 33h1v1h-1zM103 35h1v2h-1zM103 42h1v1h-1zM104 34h1v1h-1zM104 42h1v1h-1zM104 44h1v1h-1zM105 25h1v1h-1zM105 44h1v1h-1zM105 47h1v1h-1zM106 42h1v1h-1zM106 45h1v1h-1zM107 25h1v1h-1zM107 30h1v1h-1zM107 34h1v2h-1zM107 38h1v1h-1zM108 30h1v1h-1zM108 32h1v1h-1zM108 35h1v2h-1zM108 44h1v1h-1zM108 47h1v1h-1zM109 32h1v1h-1zM109 34h1v1h-1zM110 33h1v1h-1zM110 36h1v1h-1zM110 43h1v1h-1zM110 48h1v1h-1zM111 37h1v1h-1zM112 34h1v1h-1zM113 37h1v1h-1zM113 47h1v1h-1zM113 49h1v1h-1zM115 31h1v1h-1zM115 37h1v1h-1zM115 45h1v1h-1zM115 49h1v1h-1zM116 32h1v1h-1zM116 34h1v1h-1zM116 48h1v1h-1zM117 31h1v1h-1zM118 32h1v3h-1zM118 48h1v1h-1zM119 33h1v2h-1zM119 45h1v1h-1zM120 35h1v1h-1zM121 28h1v1h-1zM121 41h1v2h-1zM122 31h1v1h-1zM122 35h1v1h-1zM122 37h1v1h-1zM122 39h1v1h-1zM122 41h1v1h-1zM122 49h1v1h-1zM124 39h1v1h-1zM124 42h1v1h-1zM125 25h1v1h-1zM125 38h1v1h-1zM125 47h1v1h-1zM125 49h1v1h-1zM127 43h1v1h-1zM127 47h1v1h-1zM127 49h1v1h-1zM128 36h1v1h-1zM128 41h1v1h-1zM129 25h1v1h-1zM129 36h1v2h-1zM129 41h1v1h-1zM129 43h1v1h-1zM129 49h1v1h-1zM130 27h1v2h-1zM130 33h1v1h-1zM131 33h1v1h-1zM131 37h1v1h-1zM131 39h1v1h-1zM131 46h1v1h-1zM131 48h1v1h-1zM132 26h1v1h-1zM132 38h1v2h-1zM132 44h1v1h-1zM132 46h1v1h-1zM133 47h1v2h-1zM134 25h1v2h-1zM134 29h1v2h-1zM134 33h1v2h-1zM134 37h1v1h-1zM134 39h1v1h-1zM134 41h1v1h-1zM135 35h1v1h-1zM135 46h1v1h-1zM135 49h1v1h-1zM137 34h1v1h-1zM137 39h1v1h-1zM138 32h1v1h-1zM138 42h1v1h-1zM140 44h1v1h-1zM141 33h1v1h-1zM141 49h1v1h-1zM142 25h1v1h-1zM142 32h1v1h-1zM142 36h1v1h-1zM142 43h1v1h-1zM142 46h1v1h-1zM142 49h1v1h-1zM143 30h1v1h-1zM143 34h1v1h-1zM143 42h1v1h-1zM143 49h1v1h-1zM144 27h1v1h-1zM144 32h1v2h-1zM144 44h1v1h-1zM144 48h1v1h-1zM145 29h1v1h-1zM145 32h1v1h-1zM145 35h1v1h-1zM145 45h1v1h-1zM145 48h1v1h-1zM146 29h1v1h-1zM146 32h1v1h-1zM146 36h1v1h-1zM146 38h1v1h-1zM146 40h1v1h-1zM147 37h1v1h-1zM147 41h1v1h-1zM148 29h1v1h-1zM148 31h1v1h-1zM148 33h1v2h-1zM148 49h1v1h-1zM149 29h1v2h-1zM149 32h1v2h-1zM149 38h1v1h-1zM149 43h1v1h-1zM150 35h1v1h-1zM150 37h1v2h-1zM150 42h1v1h-1zM150 47h1v1h-1zM151 37h1v1h-1zM151 40h1v1h-1zM151 43h1v1h-1zM152 31h1v1h-1zM152 36h1v1h-1zM153 35h1v1h-1zM153 42h1v1h-1zM154 36h1v1h-1zM154 49h1v1h-1zM155 37h1v1h-1zM155 48h1v1h-1zM156 27h1v1h-1zM156 36h1v1h-1zM156 43h1v1h-1zM158 29h1v1h-1zM158 40h1v1h-1zM158 43h1v1h-1zM159 42h1v1h-1zM161 29h1v1h-1zM162 29h1v1h-1zM162 35h1v1h-1zM162 38h1v1h-1zM162 47h1v1h-1zM162 49h1v1h-1zM164 26h1v1h-1zM164 47h1v1h-1zM165 28h1v1h-1zM165 48h1v1h-1zM166 43h1v1h-1zM168 28h1v1h-1zM168 30h1v1h-1zM168 49h1v1h-1zM169 38h1v1h-1zM169 40h1v1h-1zM169 42h1v1h-1zM170 32h1v1h-1zM170 34h1v1h-1zM170 37h1v1h-1zM170 42h1v1h-1zM171 36h1v1h-1zM171 44h1v1h-1zM171 46h1v1h-1zM172 31h1v1h-1zM172 38h1v1h-1zM172 40h1v1h-1zM172 42h1v1h-1zM173 26h1v1h-1zM173 29h1v1h-1zM173 32h1v1h-1zM173 36h1v1h-1zM173 40h1v1h-1zM173 48h1v1h-1zM174 31h1v1h-1zM175 25h1v1h-1zM175 49h1v1h-1zM176 26h1v1h-1zM176 41h1v1h-1zM177 38h1v1h-1zM177 45h1v1h-1zM178 27h1v2h-1zM178 33h1v1h-1zM178 35h1v1h-1zM178 44h1v1h-1zM179 42h1v1h-1zM179 49h1v1h-1z"/>
<path fill="#c7dff6" d="M0 5h1v1h-1zM0 9h1v1h-1zM0 15h1v1h-1zM0 23h1v1h-1zM1 3h1v1h-1zM2 16h1v1h-1zM5 6h1v1h-1zM5 12h1v1h-1zM6 23h1v1h-1zM7 2h1v1h-1zM7 8h1v1h-1zM7 20h1v1h-1zM9 1h1v1h-1zM9 12h1v1h-1zM10 3h1v1h-1zM10 24h1v1h-1zM11 0h1v1h-1zM11 4h1v1h-1zM11 7h1v1h-1zM11 9h1v1h-1zM11 13h1v1h-1zM12 3h1v1h-1zM12 5h1v1h-1zM12 22h1v1h-1zM14 16h1v1h-1zM15 2h1v1h-1zM15 22h1v1h-1zM16 8h1v1h-1zM16 20h1v2h-1zM16 23h1v1h-1zM17 0h1v1h-1zM17 4h1v1h-1zM17 9h1v1h-1zM17 18h1v1h-1zM18 17h1v1h-1zM19 5h1v2h-1zM19 8h1v1h-1zM19 18h1v1h-1zM20 9h1v1h-1zM20 11h1v1h-1zM21 4h1v1h-1zM21 6h1v2h-1zM21 22h1v1h-1zM22 7h1v1h-1zM22 12h1v1h-1zM23 1h1v1h-1zM23 21h1v1h-1zM24 13h1v1h-1zM25 0h1v1h-1zM25 3h1v2h-1zM25 10h1v2h-1zM25 15h1v1h-1zM25 22h1v1h-1zM26 2h1v1h-1zM27 10h1v1h-1zM28 0h1v1h-1zM28 10h1v1h-1zM28 23h1v1h-1zM29 0h1v2h-1zM29 4h1v1h-1zM29 9h1v1h-1zM29 14h1v1h-1zM29 24h1v1h-1zM30 10h1v1h-1zM30 13h1v1h-1zM30 23h1v1h-1zM31 5h1v1h-1zM31 13h1v1h-1zM32 4h1v1h-1zM32 10h1v1h-1zM32 13h1v1h-1zM32 23h1v2h-1zM33 12h1v2h-1zM33 18h1v1h-1zM33 23h1v1h-1zM34 12h1v1h-1zM34 14h1v1h-1zM34 19h1v2h-1zM35 3h1v1h-1zM36 23h1v1h-1zM37 8h1v1h-1zM38 0h1v1h-1zM38 6h1v1h-1zM38 13h1v1h-1zM38 21h1v1h-1zM39 4h1v1h-1zM39 6h1v2h-1zM39 10h1v1h-1zM39 13h1v1h-1zM39 23h1v1h-1zM40 5h1v1h-1zM40 7h1v1h-1zM40 18h1v1h-1zM40 23h1v1h-1zM41 3h1v3h-1zM41 14h1v1h-1zM41 20h1v1h-1zM41 23h1v1h-1zM42 7h1v2h-1zM42 20h1v1h-1zM43 8h1v1h-1zM43 15h1v2h-1zM43 22h1v2h-1zM44 11h1v1h-1zM45 17h1v2h-1zM46 0h1v1h-1zM46 10h1v1h-1zM46 15h1v1h-1zM46 17h1v1h-1zM47 4h1v1h-1zM47 10h1v1h-1zM47 15h1v1h-1zM47 19h1v2h-1zM47 24h1v1h-1zM48 19h1v1h-1zM48 23h1v1h-1zM49 14h1v1h-1zM49 32h1v1h-1zM50 2h1v1h-1zM50 10h1v2h-1zM50 15h1v1h-1zM51 3h1v1h-1zM51 8h1v1h-1zM51 12h1v1h-1zM51 18h1v1h-1zM51 24h1v1h-1zM52 2h1v1h-1zM52 10h1v1h-1zM52 12h1v1h-1zM52 14h1v2h-1zM52 19h1v3h-1zM55 6h1v1h-1zM55 10h1v1h-1zM55 13h1v1h-1zM56 0h1v3h-1zM56 12h1v1h-1zM56 17h1v1h-1zM56 24h1v1h-1zM57 9h1v1h-1zM57 11h1v1h-1zM58 8h1v1h-1zM58 15h1v1h-1zM58 19h1v1h-1zM58 44h1v1h-1zM59 13h1v1h-1zM60 4h1v1h-1zM60 9h1v1h-1zM60 18h1v1h-1zM60 22h1v2h-1zM61 4h1v1h-1zM61 14h1v1h-1zM61 16h1v1h-1zM61 19h1v1h-1zM62 1h1v1h-1zM62 7h1v1h-1zM62 12h1v2h-1zM62 18h1v2h-1zM62 22h1v1h-1zM63 1h1v1h-1zM63 4h1v2h-1zM63 9h1v1h-1zM63 15h1v1h-1zM63 19h1v1h-1zM63 21h1v2h-1zM63 24h1v1h-1zM64 2h1v3h-1zM64 6h1v2h-1zM64 10h1v1h-1zM65 7h1v1h-1zM65 14h1v1h-1zM65 18h1v2h-1zM65 24h1v1h-1zM66 35h1v1h-1zM66 42h1v1h-1zM68 2h1v1h-1zM68 4h1v1h-1zM68 7h1v1h-1zM68 13h1v1h-1zM68 23h1v2h-1zM69 4h1v1h-1zM69 20h1v2h-1zM69 24h1v1h-1zM70 45h1v1h-1zM71 7h1v1h-1zM71 9h1v1h-1zM71 13h1v1h-1zM71 16h1v1h-1zM72 17h1v1h-1zM72 19h1v1h-1zM72 23h1v1h-1zM74 12h1v1h-1zM74 32h1v1h-1zM74 35h1v1h-1zM75 29h1v1h-1zM76 2h1v1h-1zM79 25h1v1h-1zM79 38h1v3h-1zM79 43h1v2h-1zM79 47h1v1h-1zM80 32h1v1h-1zM81 46h1v1h-1zM82 32h1v1h-1zM83 28h1v1h-1zM83 41h1v2h-1zM84 29h1v1h-1zM85 11h1v1h-1zM86 26h1v1h-1zM86 32h1v1h-1zM86 35h1v1h-1zM87 33h1v1h-1zM87 36h1v1h-1zM87 46h1v1h-1zM88 28h1v2h-1zM88 32h1v1h-1zM88 34h1v1h-1zM88 43h1v1h-1zM89 29h1v1h-1zM89 43h1v1h-1zM89 45h1v1h-1zM90 31h1v1h-1zM90 33h1v1h-1zM90 35h1v1h-1zM90 38h1v1h-1zM91 26h1v1h-1zM91 31h1v1h-1zM91 34h1v2h-1zM92 28h1v1h-1zM92 31h1v1h-1zM92 38h1v1h-1zM92 48h1v1h-1zM93 33h1v1h-1zM94 31h1v1h-1zM94 36h1v2h-1zM94 41h1v1h-1zM95 30h1v1h-1zM95 35h1v1h-1zM97 40h1v1h-1zM97 46h1v1h-1zM97 48h1v1h-1zM99 12h1v1h-1zM100 46h1v1h-1zM100 49h1v1h-1zM101 30h1v1h-1zM102 26h1v1h-1zM102 28h1v1h-1zM102 37h1v1h-1zM103 31h1v2h-1zM103 41h1v1h-1zM103 43h1v2h-1zM103 47h1v1h-1zM104 31h1v1h-1zM105 26h1v1h-1zM105 33h1v1h-1zM105 35h1v1h-1zM105 37h1v3h-1zM106 35h1v1h-1zM106 39h1v1h-1zM107 28h1v2h-1zM107 32h1v1h-1zM107 43h1v3h-1zM107 47h1v2h-1zM108 28h1v1h-1zM108 39h1v1h-1zM109 25h1v1h-1zM109 36h1v1h-1zM110 26h1v1h-1zM110 28h1v1h-1zM110 31h1v1h-1zM110 37h1v1h-1zM110 41h1v2h-1zM110 45h1v2h-1zM111 25h1v1h-1zM111 29h1v1h-1zM111 33h1v1h-1zM111 35h1v1h-1zM111 46h1v1h-1zM112 25h1v1h-1zM113 25h1v2h-1zM113 28h1v1h-1zM113 31h1v1h-1zM113 36h1v1h-1zM113 38h1v1h-1zM113 45h1v1h-1zM113 48h1v1h-1zM114 42h1v1h-1zM115 28h1v2h-1zM115 35h1v1h-1zM115 47h1v1h-1zM116 30h1v1h-1zM116 38h1v1h-1zM116 42h1v1h-1zM116 47h1v1h-1zM116 49h1v1h-1zM117 35h1v1h-1zM118 26h1v1h-1zM118 44h1v1h-1zM119 43h1v1h-1zM120 25h1v1h-1zM120 27h1v1h-1zM120 32h1v2h-1zM121 30h1v1h-1zM121 36h1v1h-1zM121 44h1v1h-1zM122 26h1v1h-1zM122 30h1v1h-1zM122 34h1v1h-1zM122 43h1v1h-1zM123 29h1v1h-1zM124 33h1v1h-1zM124 43h1v1h-1zM124 47h1v1h-1zM125 39h1v1h-1zM125 48h1v1h-1zM126 3h1v1h-1zM126 9h1v1h-1zM126 26h1v1h-1zM126 31h1v1h-1zM126 35h1v1h-1zM126 37h1v2h-1zM126 45h1v1h-1zM127 30h1v3h-1zM127 35h1v1h-1zM127 48h1v1h-1zM128 32h1v1h-1zM128 35h1v1h-1zM128 39h1v1h-1zM129 26h1v2h-1zM129 33h1v1h-1zM129 39h1v1h-1zM130 31h1v1h-1zM130 42h1v2h-1zM131 29h1v2h-1zM131 36h1v1h-1zM131 40h1v1h-1zM132 33h1v2h-1zM132 36h1v1h-1zM132 45h1v1h-1zM132 47h1v1h-1zM133 32h1v1h-1zM133 35h1v1h-1zM133 46h1v1h-1zM135 26h1v1h-1zM135 37h1v1h-1zM135 43h1v1h-1zM136 26h1v1h-1zM136 28h1v1h-1zM136 30h1v1h-1zM136 35h1v1h-1zM136 38h1v2h-1zM136 49h1v1h-1zM137 33h1v1h-1zM137 35h1v2h-1zM137 44h1v1h-1zM138 28h1v1h-1zM138 35h1v1h-1zM138 48h1v1h-1zM139 29h1v1h-1zM140 25h1v3h-1zM140 29h1v1h-1zM140 37h1v1h-1zM140 43h1v1h-1zM141 31h1v1h-1zM141 35h1v1h-1zM141 42h1v1h-1zM142 27h1v1h-1zM142 38h1v1h-1zM142 42h1v1h-1zM142 45h1v1h-1zM142 48h1v1h-1zM143 32h1v1h-1zM144 25h1v1h-1zM145 39h1v2h-1zM146 26h1v2h-1zM146 41h1v1h-1zM148 25h1v1h-1zM148 28h1v1h-1zM148 36h1v1h-1zM148 45h1v1h-1zM149 27h1v1h-1zM149 34h1v1h-1zM149 42h1v1h-1zM149 44h1v1h-1zM149 48h1v1h-1zM150 27h1v1h-1zM150 46h1v1h-1zM151 28h1v1h-1zM151 32h1v1h-1zM151 35h1v1h-1zM151 38h1v1h-1zM151 41h1v1h-1zM152 25h1v2h-1zM152 29h1v1h-1zM152 37h1v1h-1zM152 41h1v1h-1zM152 47h1v1h-1zM153 26h1v2h-1zM153 30h1v1h-1zM153 40h1v1h-1zM153 47h1v1h-1zM154 41h1v2h-1zM155 31h1v1h-1zM155 39h1v1h-1zM156 33h1v1h-1zM157 7h1v1h-1zM157 35h1v3h-1zM157 45h1v1h-1zM158 27h1v1h-1zM158 33h1v1h-1zM158 47h1v1h-1zM159 28h1v1h-1zM159 35h1v2h-1zM160 35h1v1h-1zM160 38h1v1h-1zM160 42h1v1h-1zM160 44h1v1h-1zM161 27h1v1h-1zM162 27h1v1h-1zM162 42h1v1h-1zM163 0h1v1h-1zM163 19h1v1h-1zM164 32h1v1h-1zM164 36h1v1h-1zM164 39h1v1h-1zM164 45h1v1h-1zM164 49h1v1h-1zM165 33h1v1h-1zM165 37h1v2h-1zM165 40h1v1h-1zM166 25h1v1h-1zM166 29h1v1h-1zM166 37h1v1h-1zM167 33h1v1h-1zM167 46h1v2h-1zM168 26h1v2h-1zM168 31h1v1h-1zM168 34h1v1h-1zM168 44h1v3h-1zM169 29h1v1h-1zM170 29h1v1h-1zM170 33h1v1h-1zM170 35h1v2h-1zM170 38h1v3h-1zM170 44h1v2h-1zM171 28h1v1h-1zM171 38h1v1h-1zM171 41h1v1h-1zM172 25h1v1h-1zM172 27h1v1h-1zM172 46h1v2h-1zM173 34h1v1h-1zM173 37h1v2h-1zM174 28h1v1h-1zM174 35h1v1h-1zM174 39h1v3h-1zM174 44h1v1h-1zM174 46h1v1h-1zM175 35h1v1h-1zM175 37h1v1h-1zM175 45h1v1h-1zM177 25h1v1h-1zM177 36h1v1h-1zM177 40h1v1h-1zM177 43h1v1h-1zM178 25h1v1h-1zM178 32h1v1h-1zM178 38h1v1h-1zM178 41h1v1h-1zM178 45h1v1h-1zM179 25h1v1h-1zM179 27h1v1h-1zM179 36h1v1h-1zM179 39h1v1h-1z"/>
<path fill="#d4e6f8" d="M0 0h1v1h-1zM0 2h1v1h-1zM0 6h1v1h-1zM4 11h1v1h-1zM5 3h1v1h-1zM5 5h1v1h-1zM5 16h1v1h-1zM5 22h1v1h-1zM7 0h1v1h-1zM7 5h1v1h-1zM7 9h1v1h-1zM7 23h1v1h-1zM7 49h1v1h-1zM8 24h1v1h-1zM10 0h1v1h-1zM10 5h1v1h-1zM10 7h1v1h-1zM10 11h1v2h-1zM10 14h1v1h-1zM10 16h1v1h-1zM10 18h1v1h-1zM11 5h1v1h-1zM11 21h1v1h-1zM12 11h1v1h-1zM14 11h1v2h-1zM15 0h1v2h-1zM15 11h1v1h-1zM15 17h1v1h-1zM16 0h1v1h-1zM16 3h1v1h-1zM16 7h1v1h-1zM16 9h1v2h-1zM16 15h1v1h-1zM17 3h1v1h-1zM17 11h1v1h-1zM19 12h1v1h-1zM19 21h1v1h-1zM19 24h1v1h-1zM20 13h1v1h-1zM21 5h1v1h-1zM21 11h1v1h-1zM21 13h1v1h-1zM21 18h1v2h-1zM21 21h1v1h-1zM21 24h1v1h-1zM22 3h1v1h-1zM23 2h1v1h-1zM23 10h1v1h-1zM24 0h1v1h-1zM24 14h1v1h-1zM24 17h1v1h-1zM24 23h1v1h-1zM25 5h1v1h-1zM28 15h1v1h-1zM29 3h1v1h-1zM29 12h1v1h-1zM29 17h1v1h-1zM30 18h1v1h-1zM30 21h1v1h-1zM31 0h1v1h-1zM31 6h1v1h-1zM33 3h1v1h-1zM34 2h1v2h-1zM34 7h1v2h-1zM34 15h1v1h-1zM35 5h1v3h-1zM35 9h1v2h-1zM35 12h1v1h-1zM35 14h1v2h-1zM35 18h1v1h-1zM35 20h1v1h-1zM35 24h1v1h-1zM36 9h1v1h-1zM37 0h1v1h-1zM37 2h1v4h-1zM37 10h1v1h-1zM37 12h1v1h-1zM37 16h1v1h-1zM37 18h1v1h-1zM37 21h1v1h-1zM38 15h1v1h-1zM39 17h1v1h-1zM39 19h1v1h-1zM39 22h1v1h-1zM40 4h1v1h-1zM40 16h1v1h-1zM40 24h1v1h-1zM41 7h1v1h-1zM42 1h1v1h-1zM42 11h1v2h-1zM42 16h1v1h-1zM42 19h1v1h-1zM42 22h1v1h-1zM43 5h1v1h-1zM43 9h1v1h-1zM43 12h1v1h-1zM43 21h1v1h-1zM43 24h1v1h-1zM44 20h1v1h-1zM45 10h1v1h-1zM46 7h1v1h-1zM46 19h1v2h-1zM47 0h1v1h-1zM47 17h1v1h-1zM47 23h1v1h-1zM48 0h1v1h-1zM49 2h1v1h-1zM49 7h1v1h-1zM49 9h1v1h-1zM49 24h1v1h-1zM49 28h1v1h-1zM50 12h1v1h-1zM50 20h1v1h-1zM50 24h1v1h-1zM50 39h1v1h-1zM51 5h1v1h-1zM51 21h1v3h-1zM52 9h1v1h-1zM53 0h1v1h-1zM53 2h1v1h-1zM53 14h1v2h-1zM53 19h1v1h-1zM54 0h1v1h-1zM54 4h1v1h-1zM54 9h1v1h-1zM54 11h1v1h-1zM54 15h1v1h-1zM54 20h1v1h-1zM54 22h1v3h-1zM55 2h1v1h-1zM55 17h1v4h-1zM55 24h1v1h-1zM56 4h1v1h-1zM56 16h1v1h-1zM57 1h1v1h-1zM57 8h1v1h-1zM57 12h1v2h-1zM57 16h1v1h-1zM57 22h1v3h-1zM58 0h1v3h-1zM58 6h1v1h-1zM58 20h1v1h-1zM58 22h1v2h-1zM58 35h1v1h-1zM59 11h1v1h-1zM59 23h1v1h-1zM60 3h1v1h-1zM60 7h1v1h-1zM61 1h1v1h-1zM61 5h1v2h-1zM61 13h1v1h-1zM61 17h1v1h-1zM61 20h1v1h-1zM62 11h1v1h-1zM62 20h1v1h-1zM62 35h1v1h-1zM63 2h1v1h-1zM63 18h1v1h-1zM64 5h1v1h-1zM64 8h1v1h-1zM64 19h1v1h-1zM64 21h1v2h-1zM64 24h1v1h-1zM65 0h1v1h-1zM65 2h1v1h-1zM65 6h1v1h-1zM65 8h1v1h-1zM65 11h1v1h-1zM65 21h1v1h-1zM66 1h1v1h-1zM66 7h1v2h-1zM66 11h1v1h-1zM66 18h1v2h-1zM67 7h1v1h-1zM67 20h1v1h-1zM67 35h1v1h-1zM67 43h1v1h-1zM67 45h1v1h-1zM68 3h1v1h-1zM68 5h1v2h-1zM68 10h1v1h-1zM68 20h1v1h-1zM69 1h1v2h-1zM69 5h1v1h-1zM69 11h1v1h-1zM69 13h1v1h-1zM69 16h1v1h-1zM69 18h1v2h-1zM70 7h1v1h-1zM70 15h1v1h-1zM70 19h1v1h-1zM70 36h1v1h-1zM71 0h1v2h-1zM71 10h1v3h-1zM72 12h1v1h-1zM72 14h1v1h-1zM72 16h1v1h-1zM72 21h1v1h-1zM73 0h1v1h-1zM74 26h1v1h-1zM74 29h1v1h-1zM74 33h1v1h-1zM74 38h1v1h-1zM74 43h1v3h-1zM74 47h1v1h-1zM75 27h1v1h-1zM75 33h1v1h-1zM75 35h1v1h-1zM75 39h1v1h-1zM75 43h1v1h-1zM75 47h1v1h-1zM76 7h1v1h-1zM76 10h1v1h-1zM76 21h1v1h-1zM76 24h1v1h-1zM76 34h1v1h-1zM76 36h1v1h-1zM76 42h1v1h-1zM77 3h1v2h-1zM77 45h1v1h-1zM78 17h1v1h-1zM79 30h1v1h-1zM80 4h1v1h-1zM80 10h1v1h-1zM80 12h1v1h-1zM80 31h1v1h-1zM80 43h1v2h-1zM81 25h1v1h-1zM81 34h1v1h-1zM81 36h1v1h-1zM81 42h1v1h-1zM82 4h1v1h-1zM82 29h1v1h-1zM82 35h1v2h-1zM83 3h1v1h-1zM83 6h1v2h-1zM83 25h1v1h-1zM83 30h1v2h-1zM83 33h1v1h-1zM83 35h1v1h-1zM83 43h1v1h-1zM83 48h1v1h-1zM84 1h1v1h-1zM84 3h1v1h-1zM84 25h1v1h-1zM84 31h1v2h-1zM84 36h1v1h-1zM85 5h1v1h-1zM85 12h1v1h-1zM85 32h1v1h-1zM86 39h1v1h-1zM86 42h1v1h-1zM87 26h1v1h-1zM87 29h1v2h-1zM87 35h1v1h-1zM87 41h1v1h-1zM87 43h1v2h-1zM88 27h1v1h-1zM88 30h1v1h-1zM88 33h1v1h-1zM88 35h1v2h-1zM88 39h1v1h-1zM88 48h1v1h-1zM89 31h1v1h-1zM89 34h1v1h-1zM89 36h1v3h-1zM89 49h1v1h-1zM90 37h1v1h-1zM90 42h1v2h-1zM90 46h1v1h-1zM90 49h1v1h-1zM91 25h1v1h-1zM91 27h1v1h-1zM91 30h1v1h-1zM91 38h1v2h-1zM91 44h1v1h-1zM92 25h1v1h-1zM92 29h1v1h-1zM92 35h1v1h-1zM92 44h1v1h-1zM92 46h1v1h-1zM93 29h1v1h-1zM93 35h1v1h-1zM93 42h1v2h-1zM93 48h1v1h-1zM94 32h1v1h-1zM94 40h1v1h-1zM94 44h1v1h-1zM94 48h1v1h-1zM95 27h1v1h-1zM95 36h1v1h-1zM95 39h1v3h-1zM95 44h1v2h-1zM96 18h1v1h-1zM96 22h1v1h-1zM96 24h1v1h-1zM96 26h1v1h-1zM96 38h1v1h-1zM96 43h1v1h-1zM97 30h1v1h-1zM98 19h1v2h-1zM98 36h1v1h-1zM99 1h1v1h-1zM99 4h1v1h-1zM101 25h1v1h-1zM101 38h1v1h-1zM102 27h1v1h-1zM102 30h1v1h-1zM102 35h1v1h-1zM102 38h1v3h-1zM103 38h1v1h-1zM104 29h1v1h-1zM104 33h1v1h-1zM104 38h1v1h-1zM105 20h1v1h-1zM105 28h1v2h-1zM105 36h1v1h-1zM105 40h1v4h-1zM105 45h1v1h-1zM106 28h1v3h-1zM106 33h1v1h-1zM106 36h1v1h-1zM106 38h1v1h-1zM106 40h1v1h-1zM106 43h1v1h-1zM107 31h1v1h-1zM107 42h1v1h-1zM108 26h1v2h-1zM109 26h1v1h-1zM109 31h1v1h-1zM109 39h1v2h-1zM109 42h1v1h-1zM109 48h1v2h-1zM110 25h1v1h-1zM111 30h1v1h-1zM111 39h1v3h-1zM111 43h1v1h-1zM111 45h1v1h-1zM112 31h1v1h-1zM112 35h1v2h-1zM112 45h1v1h-1zM112 47h1v2h-1zM113 30h1v1h-1zM113 33h1v1h-1zM113 39h1v1h-1zM113 41h1v1h-1zM114 5h1v1h-1zM114 32h1v1h-1zM114 34h1v1h-1zM114 41h1v1h-1zM114 45h1v1h-1zM115 32h1v1h-1zM115 36h1v1h-1zM115 44h1v1h-1zM116 36h1v1h-1zM116 45h1v1h-1zM117 32h1v1h-1zM117 37h1v2h-1zM117 42h1v1h-1zM118 30h1v1h-1zM118 41h1v1h-1zM119 25h1v1h-1zM119 29h1v1h-1zM119 35h1v1h-1zM119 37h1v2h-1zM119 42h1v1h-1zM120 41h1v1h-1zM120 46h1v4h-1zM121 31h1v1h-1zM121 46h1v4h-1zM123 18h1v1h-1zM123 30h1v1h-1zM123 49h1v1h-1zM124 34h1v2h-1zM125 30h1v1h-1zM125 43h1v1h-1zM126 18h1v1h-1zM126 28h1v1h-1zM126 30h1v1h-1zM126 42h1v1h-1zM127 25h1v1h-1zM127 28h1v2h-1zM127 37h1v1h-1zM127 39h1v1h-1zM128 27h1v1h-1zM128 33h1v1h-1zM128 37h1v1h-1zM128 40h1v1h-1zM128 48h1v1h-1zM129 38h1v1h-1zM129 45h1v1h-1zM130 29h1v1h-1zM130 36h1v1h-1zM130 45h1v2h-1zM131 44h1v1h-1zM132 31h1v1h-1zM132 35h1v1h-1zM132 49h1v1h-1zM133 27h1v1h-1zM133 29h1v1h-1zM133 33h1v2h-1zM133 39h1v1h-1zM133 42h1v1h-1zM133 44h1v2h-1zM133 49h1v1h-1zM136 34h1v1h-1zM136 44h1v2h-1zM136 48h1v1h-1zM137 26h1v1h-1zM137 31h1v1h-1zM137 45h1v2h-1zM138 25h1v1h-1zM138 27h1v1h-1zM138 29h1v2h-1zM139 38h1v1h-1zM139 47h1v1h-1zM140 31h1v1h-1zM140 40h1v1h-1zM140 42h1v1h-1zM140 46h1v2h-1zM141 48h1v1h-1zM142 29h1v1h-1zM142 35h1v1h-1zM142 39h1v1h-1zM142 41h1v1h-1zM142 44h1v1h-1zM143 25h1v1h-1zM143 28h1v1h-1zM143 31h1v1h-1zM143 37h1v1h-1zM143 39h1v1h-1zM144 28h1v1h-1zM144 34h1v1h-1zM144 42h1v1h-1zM144 47h1v1h-1zM145 38h1v1h-1zM145 43h1v1h-1zM145 47h1v1h-1zM146 30h1v1h-1zM147 26h1v1h-1zM147 28h1v1h-1zM147 33h1v1h-1zM147 40h1v1h-1zM147 48h1v1h-1zM148 30h1v1h-1zM148 32h1v1h-1zM148 38h1v1h-1zM148 46h1v1h-1zM149 25h1v1h-1zM149 28h1v1h-1zM150 26h1v1h-1zM150 34h1v1h-1zM150 39h1v1h-1zM150 48h1v1h-1zM151 33h1v1h-1zM151 45h1v1h-1zM151 48h1v1h-1zM152 27h1v1h-1zM152 35h1v1h-1zM152 45h1v2h-1zM152 49h1v1h-1zM153 25h1v1h-1zM153 28h1v2h-1zM153 31h1v2h-1zM153 38h1v1h-1zM153 41h1v1h-1zM153 44h1v1h-1zM153 49h1v1h-1zM155 26h1v1h-1zM155 30h1v1h-1zM155 36h1v1h-1zM155 40h1v1h-1zM155 44h1v1h-1zM156 14h1v1h-1zM156 25h1v1h-1zM156 35h1v1h-1zM156 39h1v1h-1zM156 42h1v1h-1zM156 44h1v1h-1zM157 31h1v3h-1zM157 41h1v1h-1zM157 46h1v1h-1zM158 26h1v1h-1zM158 28h1v1h-1zM158 41h1v2h-1zM159 30h1v1h-1zM159 32h1v1h-1zM159 39h1v1h-1zM159 49h1v1h-1zM160 27h1v1h-1zM160 29h1v1h-1zM160 43h1v1h-1zM162 26h1v1h-1zM162 33h1v1h-1zM163 14h1v1h-1zM163 32h1v1h-1zM163 38h1v1h-1zM163 46h1v1h-1zM164 25h1v1h-1zM164 28h1v1h-1zM164 30h1v1h-1zM164 35h1v1h-1zM164 37h1v1h-1zM164 42h1v1h-1zM164 48h1v1h-1zM166 27h1v1h-1zM166 32h1v1h-1zM166 34h1v1h-1zM166 45h1v1h-1zM166 47h1v1h-1zM166 49h1v1h-1zM168 29h1v1h-1zM168 33h1v1h-1zM168 42h1v1h-1zM169 46h1v1h-1zM170 25h1v1h-1zM170 30h1v1h-1zM171 25h1v1h-1zM171 43h1v1h-1zM172 37h1v1h-1zM172 44h1v1h-1zM172 48h1v1h-1zM173 31h1v1h-1zM173 47h1v1h-1zM174 38h1v1h-1zM174 47h1v1h-1zM177 46h1v1h-1zM178 30h1v2h-1zM178 46h1v2h-1zM179 26h1v1h-1zM179 28h1v1h-1zM179 30h1v1h-1zM179 37h1v1h-1zM179 45h1v1h-1zM179 48h1v1h-1z"/>
<path fill="#e1edf9" d="M0 4h1v1h-1zM4 1h1v1h-1zM4 17h1v1h-1zM7 14h1v1h-1zM7 21h1v1h-1zM8 0h1v1h-1zM10 2h1v1h-1zM10 13h1v1h-1zM10 19h1v1h-1zM10 21h1v1h-1zM13 3h1v1h-1zM13 17h1v1h-1zM14 18h1v1h-1zM15 13h1v1h-1zM15 16h1v1h-1zM15 28h1v1h-1zM16 16h1v1h-1zM21 0h1v2h-1zM21 12h1v1h-1zM21 15h1v1h-1zM21 23h1v1h-1zM21 32h1v1h-1zM23 4h1v1h-1zM23 8h1v2h-1zM24 12h1v1h-1zM24 15h1v2h-1zM25 7h1v1h-1zM25 18h1v1h-1zM25 24h1v1h-1zM27 9h1v1h-1zM28 2h1v1h-1zM28 9h1v1h-1zM29 2h1v1h-1zM29 6h1v1h-1zM29 21h1v1h-1zM30 17h1v1h-1zM31 18h1v1h-1zM32 1h1v1h-1zM33 15h1v1h-1zM33 24h1v1h-1zM34 5h1v2h-1zM34 10h1v2h-1zM34 16h1v1h-1zM34 21h1v1h-1zM35 0h1v1h-1zM35 11h1v1h-1zM35 16h1v1h-1zM35 19h1v1h-1zM37 9h1v1h-1zM37 13h1v1h-1zM37 17h1v1h-1zM37 23h1v1h-1zM38 3h1v1h-1zM39 21h1v1h-1zM40 15h1v1h-1zM40 20h1v1h-1zM41 11h1v1h-1zM41 15h1v1h-1zM41 21h1v1h-1zM42 13h1v1h-1zM43 3h1v1h-1zM43 18h1v2h-1zM44 3h1v1h-1zM44 6h1v1h-1zM44 9h1v1h-1zM44 14h1v1h-1zM44 23h1v2h-1zM44 29h1v1h-1zM44 32h1v1h-1zM44 38h1v1h-1zM47 1h1v1h-1zM47 3h1v1h-1zM47 21h1v1h-1zM47 45h1v1h-1zM49 0h1v2h-1zM49 19h1v1h-1zM49 26h1v1h-1zM49 45h1v1h-1zM50 0h1v1h-1zM50 4h1v1h-1zM50 8h1v1h-1zM50 21h1v2h-1zM50 29h1v1h-1zM51 2h1v1h-1zM51 9h1v2h-1zM53 1h1v1h-1zM53 9h1v1h-1zM53 22h1v1h-1zM53 24h1v1h-1zM54 1h1v1h-1zM54 5h1v2h-1zM54 10h1v1h-1zM54 12h1v1h-1zM54 14h1v1h-1zM54 17h1v1h-1zM54 19h1v1h-1zM55 12h1v1h-1zM55 15h1v1h-1zM55 23h1v1h-1zM56 5h1v1h-1zM56 15h1v1h-1zM56 21h1v2h-1zM57 10h1v1h-1zM57 14h1v1h-1zM57 18h1v2h-1zM60 5h1v1h-1zM60 11h1v2h-1zM60 16h1v1h-1zM60 21h1v1h-1zM61 15h1v1h-1zM61 21h1v2h-1zM62 3h1v2h-1zM62 14h1v1h-1zM63 8h1v1h-1zM64 17h1v1h-1zM64 23h1v1h-1zM65 4h1v1h-1zM65 10h1v1h-1zM65 16h1v1h-1zM65 20h1v1h-1zM65 32h1v1h-1zM66 6h1v1h-1zM66 10h1v1h-1zM66 15h1v1h-1zM66 17h1v1h-1zM66 28h1v1h-1zM66 39h1v1h-1zM66 44h1v2h-1zM67 5h1v1h-1zM67 24h1v1h-1zM67 26h1v1h-1zM67 30h1v1h-1zM67 32h1v1h-1zM67 40h1v1h-1zM68 0h1v2h-1zM68 8h1v2h-1zM68 15h1v1h-1zM68 18h1v1h-1zM68 21h1v1h-1zM69 0h1v1h-1zM69 6h1v1h-1zM69 9h1v1h-1zM69 14h1v2h-1zM69 22h1v2h-1zM70 3h1v1h-1zM70 5h1v1h-1zM70 8h1v2h-1zM70 13h1v1h-1zM70 20h1v1h-1zM70 23h1v1h-1zM70 38h1v1h-1zM70 42h1v2h-1zM70 46h1v1h-1zM70 49h1v1h-1zM71 15h1v1h-1zM71 21h1v1h-1zM71 23h1v1h-1zM71 45h1v1h-1zM72 1h1v1h-1zM72 4h1v1h-1zM72 6h1v3h-1zM72 10h1v2h-1zM72 31h1v1h-1zM72 35h1v1h-1zM73 5h1v1h-1zM73 7h1v1h-1zM73 11h1v1h-1zM73 13h1v1h-1zM73 21h1v2h-1zM73 24h1v1h-1zM73 29h1v1h-1zM73 43h1v1h-1zM74 1h1v1h-1zM74 14h1v1h-1zM74 23h1v1h-1zM74 25h1v1h-1zM74 30h1v1h-1zM74 36h1v1h-1zM74 39h1v2h-1zM74 48h1v1h-1zM75 1h1v1h-1zM75 3h1v1h-1zM75 8h1v1h-1zM75 11h1v2h-1zM75 14h1v1h-1zM75 22h1v1h-1zM75 32h1v1h-1zM75 36h1v2h-1zM75 44h1v1h-1zM75 49h1v1h-1zM76 8h1v1h-1zM76 11h1v1h-1zM76 13h1v1h-1zM76 16h1v1h-1zM76 19h1v1h-1zM76 35h1v1h-1zM76 38h1v1h-1zM76 45h1v1h-1zM77 1h1v1h-1zM77 5h1v1h-1zM77 11h1v1h-1zM77 24h1v1h-1zM77 28h1v1h-1zM77 34h1v1h-1zM77 38h1v1h-1zM78 0h1v1h-1zM78 8h1v1h-1zM78 12h1v1h-1zM78 14h1v1h-1zM78 22h1v1h-1zM78 24h1v1h-1zM78 33h1v1h-1zM78 42h1v1h-1zM78 45h1v1h-1zM79 19h1v1h-1zM79 31h1v1h-1zM79 34h1v2h-1zM79 41h1v1h-1zM79 45h1v1h-1zM80 0h1v1h-1zM80 5h1v1h-1zM80 9h1v1h-1zM80 14h1v1h-1zM80 18h1v1h-1zM80 22h1v1h-1zM80 28h1v1h-1zM80 35h1v1h-1zM80 41h1v2h-1zM80 46h1v2h-1zM81 8h1v1h-1zM81 12h1v1h-1zM81 14h1v2h-1zM81 17h1v1h-1zM81 22h1v3h-1zM81 30h1v1h-1zM81 41h1v1h-1zM81 44h1v2h-1zM82 18h1v1h-1zM82 24h1v1h-1zM82 27h1v2h-1zM82 34h1v1h-1zM82 39h1v1h-1zM82 48h1v1h-1zM83 0h1v1h-1zM83 4h1v1h-1zM83 8h1v1h-1zM83 27h1v1h-1zM83 39h1v2h-1zM83 47h1v1h-1zM84 8h1v1h-1zM84 20h1v1h-1zM84 24h1v1h-1zM84 27h1v1h-1zM84 30h1v1h-1zM84 34h1v1h-1zM84 37h1v3h-1zM84 42h1v1h-1zM84 45h1v1h-1zM85 8h1v2h-1zM85 16h1v2h-1zM85 27h1v2h-1zM85 35h1v1h-1zM85 44h1v2h-1zM86 25h1v1h-1zM86 27h1v1h-1zM86 36h1v1h-1zM86 40h1v1h-1zM86 47h1v1h-1zM86 49h1v1h-1zM87 4h1v1h-1zM87 6h1v1h-1zM87 9h1v1h-1zM87 14h1v1h-1zM87 16h1v1h-1zM87 20h1v2h-1zM87 28h1v1h-1zM87 31h1v1h-1zM88 41h1v1h-1zM88 45h1v1h-1zM89 25h1v1h-1zM89 33h1v1h-1zM89 35h1v1h-1zM89 39h1v1h-1zM89 42h1v1h-1zM89 44h1v1h-1zM89 46h1v3h-1zM90 21h1v1h-1zM90 34h1v1h-1zM90 36h1v1h-1zM90 39h1v1h-1zM90 41h1v1h-1zM90 44h1v1h-1zM90 47h1v2h-1zM91 32h1v2h-1zM91 41h1v1h-1zM91 45h1v1h-1zM92 4h1v1h-1zM92 18h1v1h-1zM92 26h1v1h-1zM92 30h1v1h-1zM92 37h1v1h-1zM92 42h1v1h-1zM92 49h1v1h-1zM93 25h1v1h-1zM93 28h1v1h-1zM93 37h1v2h-1zM93 44h1v1h-1zM93 47h1v1h-1zM93 49h1v1h-1zM94 4h1v1h-1zM94 30h1v1h-1zM94 33h1v1h-1zM94 43h1v1h-1zM94 46h1v1h-1zM95 26h1v1h-1zM95 29h1v1h-1zM95 31h1v1h-1zM95 33h1v1h-1zM95 37h1v2h-1zM95 43h1v1h-1zM95 46h1v2h-1zM96 19h1v1h-1zM96 23h1v1h-1zM96 27h1v1h-1zM96 44h1v1h-1zM96 49h1v1h-1zM97 47h1v1h-1zM98 6h1v2h-1zM98 12h1v1h-1zM98 32h1v1h-1zM98 40h1v1h-1zM98 43h1v1h-1zM98 49h1v1h-1zM99 5h1v1h-1zM99 13h1v2h-1zM99 21h1v1h-1zM99 24h1v1h-1zM99 29h1v1h-1zM99 32h1v1h-1zM99 36h1v2h-1zM99 44h1v1h-1zM99 46h1v1h-1zM100 27h1v1h-1zM100 31h1v2h-1zM100 36h1v1h-1zM100 39h1v1h-1zM100 41h1v1h-1zM100 43h1v1h-1zM100 47h1v1h-1zM101 32h1v1h-1zM101 36h1v1h-1zM101 45h1v1h-1zM101 47h1v3h-1zM104 1h1v1h-1zM104 19h1v1h-1zM104 27h1v2h-1zM104 32h1v1h-1zM104 36h1v1h-1zM104 39h1v2h-1zM104 43h1v1h-1zM104 47h1v1h-1zM104 49h1v1h-1zM105 32h1v1h-1zM105 34h1v1h-1zM105 46h1v1h-1zM106 26h1v1h-1zM106 34h1v1h-1zM106 41h1v1h-1zM106 44h1v1h-1zM107 36h1v2h-1zM107 39h1v1h-1zM107 41h1v1h-1zM107 49h1v1h-1zM108 46h1v1h-1zM109 28h1v2h-1zM109 35h1v1h-1zM109 38h1v1h-1zM109 41h1v1h-1zM109 44h1v2h-1zM109 47h1v1h-1zM110 38h1v1h-1zM111 42h1v1h-1zM111 44h1v1h-1zM111 47h1v1h-1zM112 6h1v1h-1zM112 19h1v1h-1zM112 32h1v1h-1zM112 38h1v3h-1zM112 43h1v2h-1zM113 44h1v1h-1zM114 28h1v2h-1zM114 35h1v1h-1zM114 39h1v1h-1zM114 47h1v1h-1zM114 49h1v1h-1zM115 26h1v1h-1zM115 42h1v1h-1zM116 25h1v1h-1zM116 29h1v1h-1zM116 31h1v1h-1zM116 35h1v1h-1zM116 40h1v1h-1zM116 46h1v1h-1zM117 20h1v2h-1zM117 25h1v1h-1zM117 29h1v2h-1zM117 33h1v2h-1zM117 43h1v2h-1zM117 47h1v1h-1zM118 38h1v1h-1zM118 43h1v1h-1zM119 26h1v1h-1zM119 30h1v1h-1zM119 32h1v1h-1zM119 40h1v1h-1zM119 46h1v2h-1zM120 28h1v1h-1zM120 31h1v1h-1zM120 34h1v1h-1zM120 38h1v1h-1zM120 42h1v1h-1zM122 47h1v1h-1zM123 8h1v2h-1zM123 12h1v1h-1zM123 14h1v1h-1zM123 31h1v1h-1zM123 33h1v1h-1zM123 35h1v1h-1zM124 30h1v1h-1zM124 37h1v2h-1zM125 33h1v2h-1zM125 36h1v1h-1zM125 44h1v1h-1zM126 7h1v1h-1zM126 32h1v1h-1zM126 36h1v1h-1zM126 39h1v2h-1zM126 44h1v1h-1zM127 33h1v1h-1zM127 38h1v1h-1zM127 42h1v1h-1zM127 44h1v1h-1zM128 30h1v1h-1zM128 43h1v1h-1zM128 47h1v1h-1zM129 48h1v1h-1zM130 37h1v1h-1zM130 44h1v1h-1zM130 47h1v1h-1zM132 25h1v1h-1zM132 27h1v2h-1zM133 3h1v1h-1zM133 6h1v2h-1zM133 9h1v1h-1zM133 11h1v1h-1zM133 17h1v1h-1zM133 26h1v1h-1zM133 28h1v1h-1zM133 30h1v1h-1zM133 37h1v1h-1zM133 43h1v1h-1zM136 29h1v1h-1zM136 31h1v2h-1zM136 36h1v2h-1zM136 40h1v1h-1zM136 43h1v1h-1zM137 25h1v1h-1zM138 26h1v1h-1zM138 46h1v1h-1zM139 17h1v2h-1zM139 26h1v1h-1zM139 31h1v1h-1zM139 33h1v1h-1zM139 35h1v1h-1zM139 37h1v1h-1zM139 40h1v2h-1zM139 43h1v1h-1zM139 49h1v1h-1zM140 32h1v1h-1zM140 34h1v1h-1zM141 27h1v1h-1zM141 38h1v1h-1zM142 30h1v2h-1zM142 33h1v1h-1zM143 27h1v1h-1zM143 38h1v1h-1zM143 45h1v1h-1zM143 48h1v1h-1zM144 29h1v1h-1zM145 25h1v1h-1zM145 31h1v1h-1zM145 36h1v1h-1zM145 42h1v1h-1zM145 44h1v1h-1zM146 39h1v1h-1zM146 42h1v1h-1zM146 47h1v1h-1zM147 25h1v1h-1zM147 32h1v1h-1zM147 34h1v1h-1zM147 38h1v1h-1zM147 44h1v1h-1zM147 49h1v1h-1zM148 26h1v1h-1zM148 35h1v1h-1zM148 37h1v1h-1zM148 41h1v2h-1zM148 47h1v1h-1zM149 37h1v1h-1zM149 39h1v2h-1zM149 46h1v1h-1zM150 33h1v1h-1zM150 43h1v1h-1zM151 31h1v1h-1zM151 39h1v1h-1zM151 44h1v1h-1zM152 28h1v1h-1zM153 33h1v1h-1zM153 37h1v1h-1zM153 39h1v1h-1zM153 43h1v1h-1zM153 48h1v1h-1zM155 27h1v1h-1zM155 33h1v1h-1zM155 38h1v1h-1zM155 43h1v1h-1zM156 32h1v1h-1zM157 3h1v1h-1zM157 5h1v1h-1zM157 25h1v1h-1zM157 30h1v1h-1zM158 25h1v1h-1zM158 34h1v1h-1zM158 38h1v1h-1zM159 26h1v2h-1zM159 33h1v2h-1zM159 38h1v1h-1zM159 40h1v1h-1zM159 43h1v1h-1zM159 45h1v1h-1zM160 26h1v1h-1zM160 28h1v1h-1zM160 37h1v1h-1zM160 40h1v1h-1zM160 46h1v1h-1zM160 49h1v1h-1zM162 25h1v1h-1zM163 3h1v1h-1zM163 8h1v1h-1zM163 30h1v1h-1zM163 42h1v1h-1zM163 47h1v1h-1zM165 46h1v1h-1zM165 49h1v1h-1zM168 39h1v2h-1zM169 32h1v2h-1zM170 28h1v1h-1zM170 31h1v1h-1zM170 41h1v1h-1zM170 48h1v1h-1zM171 39h1v2h-1zM172 35h1v1h-1zM173 28h1v1h-1zM174 26h1v1h-1zM174 34h1v1h-1zM174 36h1v2h-1zM174 43h1v1h-1zM174 45h1v1h-1zM175 26h1v2h-1zM175 29h1v2h-1zM175 41h1v1h-1zM175 44h1v1h-1zM175 46h1v1h-1zM177 27h1v1h-1zM177 37h1v1h-1zM177 41h1v1h-1zM177 47h1v1h-1zM178 29h1v1h-1zM178 37h1v1h-1zM178 39h1v2h-1zM178 42h1v1h-1zM179 29h1v1h-1zM179 31h1v1h-1zM179 33h1v1h-1zM179 35h1v1h-1zM179 40h1v1h-1zM179 44h1v1h-1zM179 46h1v1h-1z"/>
<path fill="#edf3fa" d="M7 32h1v1h-1zM8 3h1v1h-1zM9 11h1v1h-1zM9 39h1v1h-1zM10 15h1v1h-1zM10 17h1v1h-1zM10 48h1v1h-1zM11 15h1v1h-1zM15 21h1v1h-1zM16 13h1v1h-1zM19 16h1v1h-1zM23 7h1v1h-1zM23 13h1v1h-1zM23 17h1v1h-1zM23 20h1v1h-1zM23 22h1v1h-1zM24 29h1v1h-1zM24 43h1v1h-1zM27 15h1v1h-1zM28 12h1v1h-1zM28 31h1v1h-1zM29 18h1v2h-1zM29 33h1v1h-1zM29 42h1v1h-1zM31 43h1v1h-1zM32 28h1v1h-1zM32 32h1v1h-1zM34 9h1v1h-1zM34 13h1v1h-1zM34 24h1v1h-1zM35 1h1v1h-1zM35 4h1v1h-1zM35 8h1v1h-1zM35 13h1v1h-1zM35 23h1v1h-1zM35 42h1v1h-1zM36 11h1v1h-1zM37 19h1v1h-1zM37 22h1v1h-1zM37 34h1v1h-1zM39 48h1v1h-1zM41 10h1v1h-1zM41 31h1v1h-1zM42 26h1v1h-1zM43 4h1v1h-1zM43 7h1v1h-1zM43 11h1v1h-1zM43 13h1v2h-1zM43 35h1v1h-1zM43 44h1v1h-1zM44 0h1v1h-1zM44 2h1v1h-1zM44 4h1v1h-1zM44 7h1v2h-1zM44 12h1v1h-1zM44 17h1v2h-1zM44 22h1v1h-1zM44 26h1v1h-1zM44 28h1v1h-1zM44 30h1v1h-1zM44 34h1v3h-1zM44 42h1v1h-1zM44 45h1v1h-1zM44 49h1v1h-1zM46 13h1v1h-1zM47 7h1v1h-1zM47 11h1v1h-1zM47 13h1v1h-1zM47 34h1v1h-1zM47 36h1v1h-1zM49 4h1v1h-1zM49 6h1v1h-1zM49 20h1v1h-1zM49 35h1v1h-1zM50 6h1v1h-1zM50 19h1v1h-1zM51 4h1v1h-1zM52 4h1v1h-1zM52 17h1v1h-1zM52 32h1v1h-1zM53 12h1v1h-1zM53 17h1v1h-1zM53 33h1v1h-1zM53 46h1v2h-1zM54 3h1v1h-1zM54 8h1v1h-1zM54 39h1v1h-1zM55 4h1v1h-1zM55 7h1v1h-1zM55 46h1v1h-1zM56 32h1v1h-1zM57 2h1v1h-1zM57 4h1v1h-1zM57 7h1v1h-1zM57 17h1v1h-1zM57 20h1v1h-1zM57 29h1v1h-1zM57 45h1v1h-1zM58 4h1v2h-1zM58 10h1v1h-1zM58 17h1v1h-1zM58 21h1v1h-1zM58 29h1v1h-1zM58 46h1v2h-1zM60 2h1v1h-1zM60 8h1v1h-1zM60 13h1v3h-1zM60 27h1v1h-1zM60 44h1v2h-1zM61 0h1v1h-1zM61 2h1v1h-1zM61 9h1v1h-1zM61 46h1v1h-1zM62 9h1v1h-1zM62 23h1v1h-1zM62 25h1v1h-1zM62 29h1v1h-1zM63 17h1v1h-1zM64 15h1v1h-1zM64 28h1v1h-1zM64 31h1v1h-1zM65 9h1v1h-1zM65 12h1v1h-1zM65 15h1v1h-1zM65 22h1v1h-1zM65 36h1v1h-1zM65 44h1v1h-1zM66 2h1v2h-1zM66 14h1v1h-1zM66 22h1v1h-1zM66 26h1v1h-1zM66 30h1v1h-1zM66 32h1v1h-1zM66 34h1v1h-1zM66 37h1v1h-1zM66 40h1v1h-1zM66 48h1v1h-1zM67 1h1v1h-1zM67 11h1v1h-1zM67 19h1v1h-1zM67 27h1v1h-1zM67 29h1v1h-1zM67 31h1v1h-1zM67 36h1v1h-1zM67 38h1v2h-1zM67 42h1v1h-1zM67 44h1v1h-1zM67 47h1v1h-1zM68 12h1v1h-1zM68 16h1v1h-1zM69 3h1v1h-1zM69 7h1v2h-1zM69 10h1v1h-1zM69 12h1v1h-1zM69 29h1v1h-1zM70 10h1v1h-1zM70 12h1v1h-1zM70 14h1v1h-1zM70 25h1v1h-1zM70 27h1v2h-1zM70 32h1v1h-1zM70 34h1v1h-1zM70 37h1v1h-1zM70 39h1v3h-1zM70 44h1v1h-1zM70 48h1v1h-1zM71 17h1v1h-1zM71 22h1v1h-1zM72 0h1v1h-1zM72 2h1v1h-1zM72 5h1v1h-1zM72 9h1v1h-1zM72 13h1v1h-1zM72 15h1v1h-1zM72 20h1v1h-1zM72 22h1v1h-1zM72 33h1v2h-1zM72 40h1v1h-1zM72 46h1v1h-1zM73 1h1v3h-1zM73 6h1v1h-1zM73 8h1v1h-1zM73 10h1v1h-1zM73 12h1v1h-1zM73 14h1v2h-1zM73 17h1v1h-1zM73 19h1v1h-1zM73 28h1v1h-1zM73 30h1v2h-1zM73 33h1v1h-1zM73 36h1v1h-1zM73 39h1v2h-1zM73 44h1v1h-1zM74 2h1v1h-1zM74 4h1v1h-1zM74 9h1v2h-1zM74 18h1v1h-1zM74 20h1v1h-1zM74 27h1v2h-1zM74 34h1v1h-1zM75 6h1v2h-1zM75 9h1v1h-1zM75 13h1v1h-1zM75 17h1v1h-1zM75 24h1v1h-1zM75 26h1v1h-1zM75 28h1v1h-1zM75 31h1v1h-1zM75 38h1v1h-1zM75 42h1v1h-1zM75 46h1v1h-1zM75 48h1v1h-1zM76 0h1v1h-1zM76 3h1v2h-1zM76 6h1v1h-1zM76 9h1v1h-1zM76 14h1v2h-1zM76 18h1v1h-1zM76 20h1v1h-1zM76 22h1v2h-1zM76 29h1v2h-1zM76 32h1v1h-1zM76 41h1v1h-1zM77 0h1v1h-1zM77 7h1v1h-1zM77 9h1v1h-1zM77 12h1v1h-1zM77 19h1v2h-1zM77 26h1v2h-1zM77 29h1v2h-1zM77 32h1v1h-1zM77 35h1v2h-1zM77 44h1v1h-1zM77 47h1v1h-1zM78 1h1v1h-1zM78 4h1v2h-1zM78 7h1v1h-1zM78 9h1v3h-1zM78 16h1v1h-1zM78 18h1v2h-1zM78 27h1v1h-1zM78 29h1v1h-1zM78 35h1v2h-1zM78 38h1v1h-1zM78 40h1v1h-1zM78 43h1v1h-1zM79 1h1v1h-1zM79 28h1v1h-1zM79 37h1v1h-1zM80 2h1v1h-1zM80 15h1v1h-1zM80 24h1v1h-1zM80 29h1v1h-1zM80 33h1v2h-1zM80 36h1v1h-1zM80 49h1v1h-1zM81 0h1v1h-1zM81 4h1v4h-1zM81 18h1v1h-1zM81 20h1v1h-1zM81 26h1v4h-1zM81 32h1v1h-1zM81 37h1v1h-1zM81 40h1v1h-1zM81 43h1v1h-1zM81 47h1v2h-1zM82 0h1v1h-1zM82 3h1v1h-1zM82 15h1v1h-1zM82 19h1v1h-1zM82 25h1v2h-1zM82 31h1v1h-1zM82 37h1v1h-1zM82 43h1v1h-1zM82 45h1v2h-1zM82 49h1v1h-1zM83 2h1v1h-1zM83 11h1v1h-1zM83 20h1v1h-1zM83 23h1v1h-1zM83 29h1v1h-1zM83 34h1v1h-1zM83 46h1v1h-1zM83 49h1v1h-1zM84 4h1v1h-1zM84 10h1v1h-1zM84 16h1v1h-1zM84 19h1v1h-1zM84 23h1v1h-1zM84 26h1v1h-1zM84 28h1v1h-1zM84 35h1v1h-1zM85 2h1v2h-1zM85 6h1v2h-1zM85 15h1v1h-1zM85 19h1v1h-1zM85 21h1v1h-1zM85 23h1v1h-1zM85 30h1v1h-1zM85 34h1v1h-1zM85 39h1v1h-1zM85 43h1v1h-1zM85 48h1v2h-1zM86 1h1v1h-1zM86 3h1v1h-1zM86 6h1v1h-1zM86 8h1v1h-1zM86 10h1v1h-1zM86 14h1v1h-1zM86 24h1v1h-1zM86 28h1v2h-1zM86 33h1v1h-1zM86 38h1v1h-1zM86 45h1v2h-1zM87 0h1v1h-1zM87 5h1v1h-1zM87 8h1v1h-1zM87 13h1v1h-1zM87 15h1v1h-1zM87 17h1v1h-1zM87 23h1v1h-1zM87 27h1v1h-1zM87 39h1v1h-1zM87 47h1v1h-1zM88 25h1v2h-1zM88 31h1v1h-1zM88 40h1v1h-1zM88 46h1v1h-1zM88 49h1v1h-1zM89 9h1v2h-1zM89 27h1v2h-1zM90 5h1v1h-1zM90 10h1v1h-1zM90 25h1v1h-1zM90 28h1v1h-1zM91 3h1v1h-1zM91 28h1v1h-1zM91 37h1v1h-1zM91 47h1v1h-1zM91 49h1v1h-1zM92 14h1v2h-1zM92 27h1v1h-1zM92 33h1v1h-1zM92 45h1v1h-1zM93 26h1v1h-1zM93 30h1v1h-1zM93 40h1v2h-1zM93 45h1v2h-1zM94 29h1v1h-1zM94 47h1v1h-1zM95 11h1v1h-1zM95 25h1v1h-1zM95 28h1v1h-1zM95 42h1v1h-1zM95 48h1v1h-1zM96 5h1v1h-1zM96 9h1v2h-1zM96 12h1v1h-1zM96 25h1v1h-1zM96 36h1v1h-1zM98 8h1v1h-1zM98 11h1v1h-1zM98 14h1v1h-1zM98 18h1v1h-1zM98 25h1v1h-1zM98 34h1v1h-1zM98 44h1v1h-1zM99 0h1v1h-1zM99 3h1v1h-1zM99 17h1v1h-1zM99 19h1v1h-1zM99 22h1v2h-1zM99 30h1v1h-1zM99 34h1v1h-1zM99 38h1v1h-1zM99 40h1v1h-1zM100 10h1v1h-1zM100 12h1v1h-1zM100 18h1v1h-1zM100 25h1v2h-1zM100 28h1v3h-1zM100 37h1v2h-1zM100 45h1v1h-1zM100 48h1v1h-1zM101 0h1v1h-1zM101 4h1v1h-1zM101 8h1v1h-1zM101 11h1v1h-1zM101 26h1v2h-1zM101 35h1v1h-1zM101 41h1v3h-1zM102 8h1v1h-1zM102 14h1v1h-1zM102 19h1v2h-1zM102 34h1v1h-1zM103 24h1v1h-1zM104 2h1v1h-1zM104 7h1v1h-1zM104 13h1v1h-1zM104 15h1v1h-1zM104 25h1v1h-1zM104 37h1v1h-1zM104 41h1v1h-1zM104 45h1v2h-1zM105 27h1v1h-1zM105 30h1v1h-1zM105 48h1v2h-1zM106 7h1v1h-1zM106 27h1v1h-1zM106 37h1v1h-1zM106 48h1v1h-1zM107 46h1v1h-1zM108 37h1v2h-1zM108 41h1v1h-1zM108 43h1v1h-1zM109 1h1v1h-1zM109 6h1v1h-1zM109 27h1v1h-1zM109 37h1v1h-1zM112 2h1v1h-1zM112 11h1v1h-1zM112 18h1v1h-1zM112 28h1v1h-1zM112 33h1v1h-1zM112 42h1v1h-1zM112 46h1v1h-1zM113 27h1v1h-1zM113 40h1v1h-1zM114 9h1v1h-1zM114 26h1v2h-1zM114 30h1v2h-1zM114 33h1v1h-1zM114 37h1v1h-1zM114 43h1v2h-1zM114 46h1v1h-1zM115 8h1v1h-1zM115 27h1v1h-1zM115 33h1v1h-1zM116 26h1v2h-1zM117 6h1v2h-1zM117 14h1v1h-1zM117 27h1v2h-1zM117 41h1v1h-1zM117 45h1v1h-1zM118 42h1v1h-1zM119 27h1v1h-1zM119 39h1v1h-1zM119 41h1v1h-1zM119 49h1v1h-1zM120 26h1v1h-1zM120 29h1v1h-1zM120 36h1v2h-1zM120 39h1v1h-1zM120 43h1v3h-1zM121 40h1v1h-1zM121 43h1v1h-1zM122 27h1v1h-1zM123 4h1v1h-1zM123 10h1v2h-1zM123 13h1v1h-1zM123 15h1v2h-1zM123 20h1v2h-1zM123 23h1v2h-1zM123 34h1v1h-1zM123 38h1v2h-1zM123 44h1v1h-1zM123 47h1v1h-1zM124 8h1v1h-1zM124 25h1v1h-1zM124 28h1v2h-1zM124 32h1v1h-1zM124 36h1v1h-1zM124 40h1v2h-1zM124 46h1v1h-1zM124 49h1v1h-1zM125 26h1v3h-1zM125 31h1v1h-1zM125 40h1v2h-1zM125 45h1v1h-1zM126 15h1v1h-1zM126 19h1v1h-1zM126 33h1v1h-1zM126 46h1v2h-1zM127 36h1v1h-1zM127 46h1v1h-1zM128 42h1v1h-1zM128 45h1v1h-1zM128 49h1v1h-1zM130 0h1v1h-1zM130 14h1v1h-1zM130 34h1v1h-1zM130 38h1v1h-1zM130 49h1v1h-1zM132 10h1v1h-1zM132 30h1v1h-1zM133 15h1v1h-1zM133 38h1v1h-1zM134 42h1v1h-1zM136 2h1v1h-1zM136 25h1v1h-1zM136 27h1v1h-1zM136 41h1v2h-1zM136 46h1v2h-1zM137 37h1v1h-1zM137 41h1v1h-1zM138 5h1v1h-1zM138 31h1v1h-1zM138 36h1v2h-1zM138 39h1v3h-1zM138 43h1v1h-1zM138 45h1v1h-1zM138 47h1v1h-1zM139 7h1v1h-1zM139 12h1v1h-1zM139 32h1v1h-1zM139 34h1v1h-1zM139 39h1v1h-1zM139 42h1v1h-1zM139 44h1v1h-1zM139 46h1v1h-1zM140 6h1v1h-1zM140 41h1v1h-1zM141 29h1v1h-1zM141 45h1v1h-1zM142 26h1v1h-1zM142 28h1v1h-1zM143 6h1v1h-1zM143 10h1v1h-1zM143 26h1v1h-1zM143 40h1v1h-1zM143 44h1v1h-1zM145 0h1v1h-1zM145 20h1v2h-1zM145 26h1v1h-1zM145 28h1v1h-1zM146 49h1v1h-1zM147 8h1v1h-1zM147 43h1v1h-1zM148 40h1v1h-1zM149 8h1v1h-1zM149 26h1v1h-1zM149 36h1v1h-1zM150 25h1v1h-1zM151 24h1v1h-1zM151 49h1v1h-1zM152 30h1v1h-1zM152 33h1v1h-1zM152 42h1v1h-1zM154 46h1v1h-1zM155 15h1v1h-1zM155 25h1v1h-1zM155 28h1v1h-1zM155 46h1v1h-1zM156 6h1v1h-1zM156 24h1v1h-1zM156 26h1v1h-1zM156 28h1v1h-1zM156 30h1v1h-1zM156 34h1v1h-1zM156 37h1v1h-1zM156 41h1v1h-1zM157 11h1v1h-1zM157 14h1v1h-1zM157 22h1v1h-1zM157 24h1v1h-1zM157 27h1v1h-1zM157 29h1v1h-1zM157 39h1v2h-1zM159 14h1v1h-1zM159 37h1v1h-1zM159 41h1v1h-1zM159 46h1v3h-1zM160 8h1v1h-1zM160 30h1v1h-1zM160 32h1v1h-1zM160 34h1v1h-1zM160 36h1v1h-1zM162 37h1v1h-1zM163 20h1v1h-1zM163 29h1v1h-1zM163 34h1v2h-1zM163 45h1v1h-1zM163 49h1v1h-1zM164 40h1v1h-1zM164 43h1v1h-1zM165 44h1v1h-1zM165 47h1v1h-1zM166 30h1v2h-1zM166 44h1v1h-1zM166 46h1v1h-1zM167 40h1v1h-1zM169 30h1v1h-1zM170 46h1v1h-1zM171 26h1v1h-1zM171 30h1v1h-1zM171 37h1v1h-1zM173 27h1v1h-1zM173 30h1v1h-1zM173 49h1v1h-1zM174 30h1v1h-1zM174 32h1v1h-1zM174 48h1v1h-1zM175 40h1v1h-1zM175 43h1v1h-1zM177 28h1v2h-1zM179 34h1v1h-1zM179 38h1v1h-1zM179 41h1v1h-1zM179 47h1v1h-1z"/>
<path fill="#fafafc" d="M10 4h1v1h-1zM10 22h1v1h-1zM10 35h1v1h-1zM15 14h1v1h-1zM15 31h1v1h-1zM18 36h1v1h-1zM21 8h1v1h-1zM21 17h1v1h-1zM21 34h1v1h-1zM21 45h1v1h-1zM23 6h1v1h-1zM23 16h1v1h-1zM23 18h1v1h-1zM23 32h1v1h-1zM23 34h1v1h-1zM23 44h1v1h-1zM24 5h1v1h-1zM24 27h1v1h-1zM24 42h1v1h-1zM27 36h1v1h-1zM31 38h1v1h-1zM32 43h1v1h-1zM33 38h1v1h-1zM34 18h1v1h-1zM34 32h1v1h-1zM34 48h1v1h-1zM35 2h1v1h-1zM35 17h1v1h-1zM35 38h1v1h-1zM35 40h1v2h-1zM36 20h1v1h-1zM36 37h1v1h-1zM37 11h1v1h-1zM37 15h1v1h-1zM37 24h1v2h-1zM37 36h1v1h-1zM37 42h1v1h-1zM37 47h1v1h-1zM40 6h1v1h-1zM40 9h1v1h-1zM43 1h1v1h-1zM43 36h1v1h-1zM43 45h1v1h-1zM43 47h1v2h-1zM44 5h1v1h-1zM44 15h1v1h-1zM44 27h1v1h-1zM44 31h1v1h-1zM44 48h1v1h-1zM46 35h1v1h-1zM47 25h1v1h-1zM47 35h1v1h-1zM48 32h1v1h-1zM49 8h1v1h-1zM49 10h1v1h-1zM49 25h1v1h-1zM49 34h1v1h-1zM49 36h1v1h-1zM49 41h1v2h-1zM49 44h1v1h-1zM50 7h1v1h-1zM50 16h1v1h-1zM50 18h1v1h-1zM50 23h1v1h-1zM50 31h1v1h-1zM50 33h1v2h-1zM51 16h1v1h-1zM51 45h1v1h-1zM51 48h1v1h-1zM53 6h1v1h-1zM53 18h1v1h-1zM53 20h1v1h-1zM53 25h1v1h-1zM53 29h1v1h-1zM53 43h1v1h-1zM53 45h1v1h-1zM54 2h1v1h-1zM54 13h1v1h-1zM54 16h1v1h-1zM54 45h1v1h-1zM55 11h1v1h-1zM55 32h1v1h-1zM55 42h1v1h-1zM55 48h1v1h-1zM56 6h1v1h-1zM56 9h1v1h-1zM57 3h1v1h-1zM57 6h1v1h-1zM57 27h1v1h-1zM57 31h1v2h-1zM57 34h1v1h-1zM57 39h1v1h-1zM57 46h1v1h-1zM58 7h1v1h-1zM58 9h1v1h-1zM58 11h1v1h-1zM58 13h1v1h-1zM58 18h1v1h-1zM58 26h1v1h-1zM58 32h1v1h-1zM58 40h1v1h-1zM58 42h1v1h-1zM60 17h1v1h-1zM60 28h1v1h-1zM60 32h1v1h-1zM60 34h1v2h-1zM60 41h1v1h-1zM61 27h1v1h-1zM61 32h1v1h-1zM61 39h1v1h-1zM61 47h1v1h-1zM62 31h1v2h-1zM62 39h1v1h-1zM63 32h1v3h-1zM63 43h1v2h-1zM64 11h1v1h-1zM64 20h1v1h-1zM64 25h1v1h-1zM64 32h1v1h-1zM64 41h1v1h-1zM65 1h1v1h-1zM65 17h1v1h-1zM65 25h1v5h-1zM65 31h1v1h-1zM65 35h1v1h-1zM65 43h1v1h-1zM65 47h1v1h-1zM66 5h1v1h-1zM66 13h1v1h-1zM66 16h1v1h-1zM66 24h1v2h-1zM66 29h1v1h-1zM66 36h1v1h-1zM66 38h1v1h-1zM66 41h1v1h-1zM66 46h1v1h-1zM67 0h1v1h-1zM67 3h1v1h-1zM67 6h1v1h-1zM67 10h1v1h-1zM67 14h1v1h-1zM67 17h1v1h-1zM67 22h1v1h-1zM67 33h1v1h-1zM67 37h1v1h-1zM67 41h1v1h-1zM68 38h1v1h-1zM68 49h1v1h-1zM69 31h1v1h-1zM69 34h1v3h-1zM69 38h1v1h-1zM69 42h1v3h-1zM69 46h1v1h-1zM70 0h1v1h-1zM70 2h1v1h-1zM70 11h1v1h-1zM70 16h1v2h-1zM70 21h1v1h-1zM70 26h1v1h-1zM70 29h1v1h-1zM70 33h1v1h-1zM70 35h1v1h-1zM70 47h1v1h-1zM71 32h1v1h-1zM71 36h1v1h-1zM71 47h1v2h-1zM72 25h1v2h-1zM72 30h1v1h-1zM72 32h1v1h-1zM72 42h1v1h-1zM72 45h1v1h-1zM72 49h1v1h-1zM73 9h1v1h-1zM73 16h1v1h-1zM73 18h1v1h-1zM73 26h1v2h-1zM73 32h1v1h-1zM73 42h1v1h-1zM73 45h1v1h-1zM74 0h1v1h-1zM74 3h1v1h-1zM74 5h1v2h-1zM74 11h1v1h-1zM74 16h1v2h-1zM74 22h1v1h-1zM74 42h1v1h-1zM74 46h1v1h-1zM74 49h1v1h-1zM75 5h1v1h-1zM75 10h1v1h-1zM75 16h1v1h-1zM75 19h1v1h-1zM75 25h1v1h-1zM75 41h1v1h-1zM76 1h1v1h-1zM76 5h1v1h-1zM76 12h1v1h-1zM76 17h1v1h-1zM76 25h1v1h-1zM76 27h1v1h-1zM76 39h1v2h-1zM76 46h1v2h-1zM76 49h1v1h-1zM77 2h1v1h-1zM77 8h1v1h-1zM77 10h1v1h-1zM77 13h1v6h-1zM77 21h1v1h-1zM77 31h1v1h-1zM77 33h1v1h-1zM77 39h1v4h-1zM77 48h1v2h-1zM78 2h1v1h-1zM78 6h1v1h-1zM78 20h1v2h-1zM78 32h1v1h-1zM78 34h1v1h-1zM78 39h1v1h-1zM79 8h1v1h-1zM79 16h1v1h-1zM79 21h1v1h-1zM79 26h1v1h-1zM80 1h1v1h-1zM80 3h1v1h-1zM80 6h1v2h-1zM80 11h1v1h-1zM80 13h1v1h-1zM80 16h1v2h-1zM80 21h1v1h-1zM80 25h1v3h-1zM80 38h1v3h-1zM80 48h1v1h-1zM81 1h1v3h-1zM81 10h1v2h-1zM81 13h1v1h-1zM81 16h1v1h-1zM81 19h1v1h-1zM81 21h1v1h-1zM81 33h1v1h-1zM81 35h1v1h-1zM81 39h1v1h-1zM81 49h1v1h-1zM82 2h1v1h-1zM82 10h1v3h-1zM82 16h1v1h-1zM82 20h1v1h-1zM82 23h1v1h-1zM82 30h1v1h-1zM82 38h1v1h-1zM82 40h1v3h-1zM82 44h1v1h-1zM82 47h1v1h-1zM83 1h1v1h-1zM83 5h1v1h-1zM83 10h1v1h-1zM83 12h1v1h-1zM83 14h1v1h-1zM83 18h1v1h-1zM83 38h1v1h-1zM84 0h1v1h-1zM84 5h1v1h-1zM84 12h1v1h-1zM84 15h1v1h-1zM84 21h1v1h-1zM84 41h1v1h-1zM84 43h1v2h-1zM84 47h1v2h-1zM85 0h1v1h-1zM85 10h1v1h-1zM85 13h1v2h-1zM85 24h1v3h-1zM85 29h1v1h-1zM85 31h1v1h-1zM85 33h1v1h-1zM85 36h1v1h-1zM85 38h1v1h-1zM85 46h1v1h-1zM86 0h1v1h-1zM86 4h1v1h-1zM86 7h1v1h-1zM86 9h1v1h-1zM86 11h1v1h-1zM86 15h1v1h-1zM86 18h1v1h-1zM86 20h1v1h-1zM86 23h1v1h-1zM86 31h1v1h-1zM86 34h1v1h-1zM86 41h1v1h-1zM86 43h1v2h-1zM86 48h1v1h-1zM87 10h1v1h-1zM87 12h1v1h-1zM87 18h1v1h-1zM87 22h1v1h-1zM87 24h1v1h-1zM87 37h1v2h-1zM88 6h1v1h-1zM88 47h1v1h-1zM89 23h1v1h-1zM89 26h1v1h-1zM89 30h1v1h-1zM90 24h1v1h-1zM91 4h1v1h-1zM91 8h1v1h-1zM91 10h1v1h-1zM91 24h1v1h-1zM92 2h1v2h-1zM92 7h1v2h-1zM92 10h1v1h-1zM92 16h1v1h-1zM92 21h1v1h-1zM92 39h1v2h-1zM92 43h1v1h-1zM92 47h1v1h-1zM93 31h1v1h-1zM93 34h1v1h-1zM93 39h1v1h-1zM94 5h1v2h-1zM94 22h1v1h-1zM94 42h1v1h-1zM95 2h1v1h-1zM95 6h1v2h-1zM95 12h1v1h-1zM95 19h1v2h-1zM95 24h1v1h-1zM96 1h1v2h-1zM96 11h1v1h-1zM96 17h1v1h-1zM96 21h1v1h-1zM96 30h1v1h-1zM96 33h1v1h-1zM96 35h1v1h-1zM96 45h1v1h-1zM96 47h1v2h-1zM98 0h1v1h-1zM98 2h1v1h-1zM98 4h1v1h-1zM98 9h1v1h-1zM98 15h1v3h-1zM98 23h1v2h-1zM98 27h1v1h-1zM98 29h1v3h-1zM98 35h1v1h-1zM98 37h1v1h-1zM98 46h1v1h-1zM99 6h1v2h-1zM99 10h1v1h-1zM99 20h1v1h-1zM99 26h1v2h-1zM99 41h1v3h-1zM100 0h1v1h-1zM100 4h1v1h-1zM100 13h1v2h-1zM100 19h1v1h-1zM100 24h1v1h-1zM100 35h1v1h-1zM100 42h1v1h-1zM101 2h1v2h-1zM101 10h1v1h-1zM101 12h1v1h-1zM101 16h1v3h-1zM101 21h1v1h-1zM101 29h1v1h-1zM101 31h1v1h-1zM101 33h1v2h-1zM101 37h1v1h-1zM101 40h1v1h-1zM101 46h1v1h-1zM102 4h1v1h-1zM102 46h1v1h-1zM104 11h1v1h-1zM104 21h1v1h-1zM104 30h1v1h-1zM105 10h1v4h-1zM105 23h1v1h-1zM105 31h1v1h-1zM106 2h1v3h-1zM106 6h1v1h-1zM106 14h1v1h-1zM106 46h1v1h-1zM106 49h1v1h-1zM107 26h1v1h-1zM107 40h1v1h-1zM108 12h1v1h-1zM109 3h1v1h-1zM109 11h1v1h-1zM109 30h1v1h-1zM109 43h1v1h-1zM109 46h1v1h-1zM110 44h1v1h-1zM111 26h1v1h-1zM111 38h1v1h-1zM112 0h1v1h-1zM112 3h1v2h-1zM112 9h1v1h-1zM112 12h1v1h-1zM112 17h1v1h-1zM112 20h1v1h-1zM112 29h1v1h-1zM112 41h1v1h-1zM112 49h1v1h-1zM113 18h1v1h-1zM114 2h1v1h-1zM114 6h1v1h-1zM114 11h1v1h-1zM114 21h1v2h-1zM114 38h1v1h-1zM114 48h1v1h-1zM115 6h1v1h-1zM115 19h1v2h-1zM116 4h1v1h-1zM116 7h1v1h-1zM117 1h1v1h-1zM117 3h1v1h-1zM117 10h1v1h-1zM117 17h1v1h-1zM117 24h1v1h-1zM117 36h1v1h-1zM117 40h1v1h-1zM117 46h1v1h-1zM118 47h1v1h-1zM119 18h1v1h-1zM120 7h1v1h-1zM120 30h1v1h-1zM120 40h1v1h-1zM121 33h1v1h-1zM121 35h1v1h-1zM122 15h1v1h-1zM123 7h1v1h-1zM123 17h1v1h-1zM123 26h1v2h-1zM123 32h1v1h-1zM123 36h1v1h-1zM123 41h1v1h-1zM123 48h1v1h-1zM124 1h1v1h-1zM124 11h1v1h-1zM124 14h1v2h-1zM124 17h1v1h-1zM124 26h1v2h-1zM124 31h1v1h-1zM124 44h1v1h-1zM125 35h1v1h-1zM126 5h1v1h-1zM126 29h1v1h-1zM126 34h1v1h-1zM126 43h1v1h-1zM126 48h1v1h-1zM127 6h1v1h-1zM128 14h1v1h-1zM128 19h1v1h-1zM128 26h1v1h-1zM128 28h1v1h-1zM130 12h1v1h-1zM130 26h1v1h-1zM130 30h1v1h-1zM132 48h1v1h-1zM133 31h1v1h-1zM136 6h1v1h-1zM136 33h1v1h-1zM137 42h1v1h-1zM138 20h1v1h-1zM138 49h1v1h-1zM139 8h1v1h-1zM139 10h1v1h-1zM139 20h1v1h-1zM139 24h1v1h-1zM139 28h1v1h-1zM139 30h1v1h-1zM139 36h1v1h-1zM139 45h1v1h-1zM141 16h1v1h-1zM142 1h1v1h-1zM142 8h1v2h-1zM142 17h1v1h-1zM142 40h1v1h-1zM142 47h1v1h-1zM143 1h1v2h-1zM143 5h1v1h-1zM143 9h1v1h-1zM143 41h1v1h-1zM143 47h1v1h-1zM144 14h1v1h-1zM145 16h1v1h-1zM145 27h1v1h-1zM145 30h1v1h-1zM145 41h1v1h-1zM145 46h1v1h-1zM145 49h1v1h-1zM147 4h1v1h-1zM147 14h1v1h-1zM147 30h1v1h-1zM147 42h1v1h-1zM149 14h1v1h-1zM150 22h1v1h-1zM150 36h1v1h-1zM151 26h1v1h-1zM155 41h1v1h-1zM155 49h1v1h-1zM156 9h1v1h-1zM156 23h1v1h-1zM156 29h1v1h-1zM156 38h1v1h-1zM156 46h1v2h-1zM156 49h1v1h-1zM157 1h1v1h-1zM157 6h1v1h-1zM157 8h1v1h-1zM157 10h1v1h-1zM157 15h1v1h-1zM157 17h1v1h-1zM157 19h1v2h-1zM157 26h1v1h-1zM157 34h1v1h-1zM157 38h1v1h-1zM157 42h1v1h-1zM157 47h1v1h-1zM158 48h1v1h-1zM159 0h1v1h-1zM159 5h1v1h-1zM159 31h1v1h-1zM159 44h1v1h-1zM160 1h1v1h-1zM160 25h1v1h-1zM160 31h1v1h-1zM160 39h1v1h-1zM160 45h1v1h-1zM160 48h1v1h-1zM163 9h1v1h-1zM163 36h1v1h-1zM163 44h1v1h-1zM165 42h1v2h-1zM166 26h1v1h-1zM169 31h1v1h-1zM170 43h1v1h-1zM170 49h1v1h-1zM173 42h1v1h-1zM174 4h1v1h-1zM174 42h1v1h-1zM174 49h1v1h-1zM175 31h1v1h-1zM175 38h1v1h-1zM179 9h1v1h-1z"/>
<path fill="#faf2f1" d="M2 41h1v1h-1zM4 41h1v1h-1zM9 45h1v1h-1zM9 49h1v1h-1zM10 45h1v1h-1zM10 47h1v1h-1zM13 29h1v1h-1zM13 34h1v1h-1zM13 42h1v1h-1zM15 44h1v1h-1zM15 46h1v1h-1zM21 36h1v1h-1zM21 42h1v1h-1zM21 48h1v1h-1zM24 28h1v1h-1zM24 30h1v1h-1zM24 34h1v1h-1zM24 36h1v1h-1zM24 39h1v1h-1zM25 45h1v1h-1zM28 25h1v1h-1zM28 32h1v1h-1zM29 34h1v1h-1zM29 41h1v1h-1zM30 46h1v1h-1zM31 42h1v1h-1zM34 17h1v1h-1zM34 28h1v1h-1zM34 39h1v1h-1zM35 21h1v1h-1zM35 29h1v1h-1zM35 34h1v1h-1zM35 36h1v1h-1zM35 39h1v1h-1zM35 47h1v1h-1zM35 49h1v1h-1zM37 27h1v4h-1zM37 32h1v1h-1zM37 44h1v1h-1zM37 46h1v1h-1zM37 48h1v1h-1zM38 44h1v1h-1zM39 34h1v1h-1zM39 36h1v1h-1zM40 35h1v1h-1zM40 45h1v1h-1zM41 36h1v1h-1zM41 44h1v1h-1zM42 32h1v1h-1zM42 35h1v1h-1zM43 31h1v1h-1zM43 34h1v1h-1zM43 42h1v2h-1zM44 16h1v1h-1zM44 19h1v1h-1zM44 21h1v1h-1zM44 33h1v1h-1zM44 39h1v1h-1zM44 41h1v1h-1zM44 44h1v1h-1zM46 31h1v1h-1zM46 34h1v1h-1zM46 36h1v1h-1zM46 48h1v1h-1zM47 29h1v1h-1zM47 33h1v1h-1zM47 40h1v1h-1zM48 7h1v1h-1zM49 3h1v1h-1zM49 5h1v1h-1zM49 13h1v1h-1zM49 23h1v1h-1zM49 27h1v1h-1zM49 29h1v1h-1zM49 39h1v2h-1zM49 43h1v1h-1zM49 47h1v1h-1zM50 5h1v1h-1zM50 25h1v2h-1zM50 35h1v1h-1zM50 41h1v2h-1zM50 46h1v1h-1zM50 48h1v1h-1zM51 33h1v1h-1zM52 27h1v1h-1zM52 36h1v1h-1zM52 44h1v2h-1zM52 48h1v1h-1zM53 13h1v1h-1zM53 30h1v1h-1zM53 34h1v2h-1zM53 38h1v1h-1zM53 42h1v1h-1zM53 49h1v1h-1zM54 26h1v1h-1zM54 28h1v1h-1zM54 30h1v2h-1zM54 34h1v1h-1zM54 37h1v1h-1zM54 44h1v1h-1zM54 48h1v1h-1zM55 0h1v1h-1zM55 21h1v1h-1zM55 27h1v1h-1zM55 29h1v1h-1zM55 45h1v1h-1zM55 47h1v1h-1zM56 28h1v1h-1zM56 46h1v1h-1zM56 49h1v1h-1zM57 21h1v1h-1zM57 33h1v1h-1zM57 35h1v1h-1zM57 44h1v1h-1zM58 12h1v1h-1zM58 25h1v1h-1zM58 31h1v1h-1zM58 33h1v2h-1zM58 36h1v1h-1zM58 39h1v1h-1zM59 30h1v2h-1zM60 26h1v1h-1zM60 29h1v3h-1zM60 33h1v1h-1zM60 37h1v1h-1zM60 39h1v1h-1zM60 46h1v1h-1zM60 48h1v1h-1zM61 25h1v2h-1zM61 35h1v1h-1zM61 43h1v1h-1zM62 21h1v1h-1zM62 28h1v1h-1zM62 36h1v1h-1zM62 42h1v1h-1zM62 45h1v1h-1zM62 48h1v1h-1zM63 29h1v1h-1zM63 36h1v1h-1zM63 47h1v1h-1zM64 30h1v1h-1zM64 37h1v1h-1zM64 40h1v1h-1zM64 43h1v2h-1zM64 46h1v1h-1zM64 49h1v1h-1zM65 34h1v1h-1zM65 37h1v2h-1zM65 48h1v2h-1zM66 0h1v1h-1zM66 4h1v1h-1zM66 9h1v1h-1zM66 12h1v1h-1zM66 21h1v1h-1zM66 23h1v1h-1zM66 27h1v1h-1zM66 31h1v1h-1zM66 33h1v1h-1zM66 43h1v1h-1zM66 47h1v1h-1zM66 49h1v1h-1zM67 4h1v1h-1zM67 9h1v1h-1zM67 13h1v1h-1zM67 16h1v1h-1zM67 21h1v1h-1zM67 34h1v1h-1zM67 46h1v1h-1zM67 48h1v1h-1zM68 26h1v1h-1zM68 29h1v1h-1zM68 31h1v1h-1zM68 34h1v1h-1zM68 42h1v1h-1zM68 45h1v1h-1zM68 47h1v2h-1zM69 30h1v1h-1zM69 32h1v1h-1zM69 37h1v1h-1zM69 45h1v1h-1zM69 48h1v1h-1zM70 1h1v1h-1zM70 4h1v1h-1zM70 6h1v1h-1zM70 18h1v1h-1zM70 22h1v1h-1zM70 24h1v1h-1zM71 44h1v1h-1zM72 36h1v2h-1zM72 39h1v1h-1zM72 41h1v1h-1zM72 48h1v1h-1zM73 4h1v1h-1zM73 37h1v2h-1zM73 41h1v1h-1zM73 46h1v3h-1zM74 7h1v2h-1zM74 15h1v1h-1zM74 19h1v1h-1zM75 0h1v1h-1zM75 2h1v1h-1zM75 4h1v1h-1zM75 18h1v1h-1zM75 20h1v1h-1zM75 40h1v1h-1zM76 33h1v1h-1zM76 37h1v1h-1zM76 48h1v1h-1zM77 46h1v1h-1zM78 15h1v1h-1zM78 23h1v1h-1zM78 25h1v2h-1zM78 28h1v1h-1zM78 31h1v1h-1zM78 37h1v1h-1zM78 41h1v1h-1zM78 44h1v1h-1zM78 46h1v2h-1zM79 2h1v1h-1zM79 4h1v1h-1zM79 7h1v1h-1zM79 10h1v1h-1zM79 13h1v2h-1zM79 20h1v1h-1zM80 19h1v1h-1zM80 37h1v1h-1zM81 9h1v1h-1zM81 31h1v1h-1zM81 38h1v1h-1zM82 1h1v1h-1zM82 5h1v1h-1zM82 8h1v1h-1zM82 14h1v1h-1zM82 21h1v1h-1zM82 33h1v1h-1zM83 9h1v1h-1zM83 17h1v1h-1zM83 19h1v1h-1zM83 21h1v1h-1zM83 26h1v1h-1zM83 36h1v1h-1zM84 2h1v1h-1zM84 7h1v1h-1zM84 9h1v1h-1zM84 11h1v1h-1zM84 13h1v1h-1zM84 17h1v1h-1zM84 22h1v1h-1zM84 33h1v1h-1zM84 49h1v1h-1zM85 1h1v1h-1zM85 4h1v1h-1zM85 18h1v1h-1zM85 20h1v1h-1zM85 22h1v1h-1zM85 37h1v1h-1zM86 2h1v1h-1zM86 12h1v2h-1zM86 16h1v1h-1zM86 22h1v1h-1zM86 30h1v1h-1zM87 3h1v1h-1zM87 7h1v1h-1zM87 11h1v1h-1zM87 19h1v1h-1zM87 25h1v1h-1zM87 42h1v1h-1zM88 2h1v1h-1zM88 4h1v1h-1zM88 9h1v1h-1zM88 12h1v1h-1zM88 14h1v1h-1zM88 22h1v1h-1zM89 3h1v1h-1zM89 11h1v1h-1zM89 16h1v1h-1zM89 22h1v1h-1zM89 24h1v1h-1zM89 40h1v1h-1zM90 2h1v1h-1zM90 27h1v1h-1zM91 12h1v3h-1zM91 19h1v1h-1zM91 21h1v1h-1zM92 0h1v2h-1zM92 6h1v1h-1zM92 17h1v1h-1zM92 36h1v1h-1zM92 41h1v1h-1zM93 4h1v2h-1zM93 8h1v1h-1zM93 10h1v1h-1zM93 20h1v1h-1zM94 1h1v1h-1zM94 7h1v1h-1zM94 9h1v1h-1zM94 11h1v1h-1zM94 13h1v2h-1zM94 16h1v1h-1zM94 26h1v1h-1zM94 28h1v1h-1zM95 9h1v1h-1zM95 21h1v1h-1zM95 34h1v1h-1zM95 49h1v1h-1zM96 3h1v1h-1zM96 7h1v2h-1zM96 15h1v2h-1zM96 28h1v2h-1zM96 34h1v1h-1zM96 40h1v1h-1zM96 42h1v1h-1zM96 46h1v1h-1zM97 14h1v1h-1zM97 16h1v1h-1zM98 1h1v1h-1zM98 3h1v1h-1zM98 5h1v1h-1zM98 22h1v1h-1zM98 38h1v1h-1zM98 42h1v1h-1zM98 45h1v1h-1zM98 47h1v1h-1zM99 2h1v1h-1zM99 9h1v1h-1zM99 11h1v1h-1zM99 16h1v1h-1zM99 18h1v1h-1zM99 25h1v1h-1zM99 28h1v1h-1zM99 31h1v1h-1zM99 33h1v1h-1zM99 35h1v1h-1zM99 39h1v1h-1zM99 48h1v1h-1zM100 2h1v2h-1zM100 6h1v4h-1zM100 15h1v1h-1zM100 20h1v1h-1zM100 33h1v1h-1zM100 40h1v1h-1zM101 1h1v1h-1zM101 5h1v3h-1zM101 14h1v1h-1zM101 19h1v2h-1zM101 24h1v1h-1zM101 28h1v1h-1zM101 39h1v1h-1zM101 44h1v1h-1zM102 2h1v2h-1zM102 5h1v1h-1zM104 3h1v2h-1zM104 12h1v1h-1zM104 22h1v1h-1zM104 24h1v1h-1zM104 26h1v1h-1zM105 1h1v1h-1zM105 5h1v1h-1zM105 8h1v1h-1zM105 18h1v2h-1zM105 24h1v1h-1zM106 9h1v2h-1zM106 18h1v3h-1zM106 24h1v2h-1zM106 31h1v1h-1zM106 47h1v1h-1zM107 1h1v1h-1zM107 14h1v1h-1zM108 17h1v1h-1zM109 0h1v1h-1zM109 5h1v1h-1zM109 10h1v1h-1zM109 14h1v1h-1zM109 20h1v1h-1zM110 14h1v1h-1zM110 49h1v1h-1zM112 1h1v1h-1zM112 5h1v1h-1zM112 24h1v1h-1zM112 26h1v2h-1zM112 30h1v1h-1zM112 37h1v1h-1zM113 19h1v1h-1zM113 21h1v1h-1zM114 8h1v1h-1zM114 10h1v1h-1zM114 16h1v1h-1zM114 24h1v2h-1zM114 36h1v1h-1zM114 40h1v1h-1zM115 17h1v1h-1zM116 13h1v2h-1zM116 20h1v1h-1zM117 0h1v1h-1zM117 2h1v1h-1zM117 4h1v1h-1zM117 11h1v2h-1zM117 19h1v1h-1zM117 26h1v1h-1zM117 48h1v2h-1zM119 8h1v1h-1zM119 15h1v1h-1zM119 31h1v1h-1zM120 3h1v2h-1zM120 14h1v1h-1zM120 21h1v1h-1zM120 23h1v1h-1zM121 12h1v1h-1zM121 23h1v1h-1zM123 1h1v1h-1zM123 6h1v1h-1zM123 19h1v1h-1zM123 28h1v1h-1zM123 40h1v1h-1zM123 42h1v2h-1zM123 46h1v1h-1zM124 7h1v1h-1zM124 23h1v1h-1zM125 2h1v1h-1zM125 6h1v1h-1zM125 19h1v1h-1zM126 13h1v1h-1zM126 24h1v2h-1zM126 41h1v1h-1zM127 0h1v1h-1zM127 40h1v2h-1zM128 8h1v1h-1zM128 25h1v1h-1zM130 4h1v1h-1zM130 7h1v1h-1zM130 10h1v1h-1zM130 19h1v1h-1zM130 21h1v1h-1zM130 25h1v1h-1zM130 39h1v3h-1zM131 47h1v1h-1zM132 1h1v1h-1zM132 6h1v2h-1zM132 19h1v1h-1zM132 41h1v1h-1zM133 2h1v1h-1zM133 4h1v1h-1zM133 20h1v1h-1zM133 22h1v2h-1zM133 40h1v1h-1zM136 1h1v1h-1zM137 10h1v1h-1zM137 20h1v1h-1zM137 23h1v1h-1zM137 49h1v1h-1zM138 33h1v1h-1zM139 2h1v1h-1zM139 4h1v3h-1zM139 14h1v1h-1zM139 23h1v1h-1zM139 25h1v1h-1zM141 13h1v1h-1zM141 20h1v1h-1zM142 6h1v1h-1zM142 13h1v1h-1zM142 16h1v1h-1zM142 21h1v1h-1zM142 23h1v1h-1zM142 37h1v1h-1zM143 0h1v1h-1zM143 4h1v1h-1zM143 8h1v1h-1zM143 14h1v1h-1zM143 22h1v2h-1zM143 29h1v1h-1zM143 43h1v1h-1zM143 46h1v1h-1zM144 6h1v1h-1zM144 17h1v1h-1zM144 26h1v1h-1zM144 35h1v1h-1zM145 8h1v1h-1zM145 11h1v1h-1zM145 33h1v2h-1zM147 0h1v1h-1zM147 7h1v1h-1zM147 9h1v1h-1zM147 15h1v1h-1zM147 31h1v1h-1zM150 2h1v1h-1zM150 40h1v2h-1zM151 5h1v1h-1zM152 10h1v1h-1zM152 16h1v1h-1zM152 19h1v1h-1zM152 21h1v1h-1zM153 0h1v1h-1zM153 17h1v1h-1zM153 20h1v1h-1zM153 22h1v1h-1zM155 20h1v1h-1zM155 22h1v1h-1zM156 13h1v1h-1zM156 48h1v1h-1zM157 0h1v1h-1zM157 28h1v1h-1zM157 43h1v1h-1zM157 48h1v1h-1zM159 6h1v1h-1zM159 9h1v1h-1zM159 15h1v2h-1zM159 23h1v1h-1zM160 4h1v1h-1zM160 12h1v1h-1zM160 19h1v1h-1zM160 33h1v1h-1zM160 41h1v1h-1zM160 47h1v1h-1zM162 4h1v1h-1zM163 4h1v2h-1zM163 10h1v3h-1zM163 15h1v1h-1zM163 18h1v1h-1zM163 22h1v1h-1zM163 26h1v3h-1zM163 31h1v1h-1zM163 41h1v1h-1zM163 43h1v1h-1zM166 1h1v1h-1zM166 12h1v1h-1zM166 36h1v1h-1zM166 42h1v1h-1zM168 5h1v1h-1zM169 48h1v1h-1zM171 22h1v1h-1zM172 16h1v1h-1zM174 27h1v1h-1zM175 3h1v1h-1zM175 6h1v1h-1zM175 8h1v1h-1zM175 33h1v2h-1zM178 20h1v1h-1zM179 3h1v1h-1zM179 16h1v1h-1z"/>
<path fill="#f9e9e6" d="M0 36h1v1h-1zM1 38h1v1h-1zM2 28h1v1h-1zM2 30h1v1h-1zM4 30h1v1h-1zM7 29h1v1h-1zM7 33h1v1h-1zM7 46h1v1h-1zM8 47h1v1h-1zM10 28h1v1h-1zM10 32h1v1h-1zM10 38h1v1h-1zM10 44h1v1h-1zM10 49h1v1h-1zM11 29h1v1h-1zM11 45h1v1h-1zM13 30h1v1h-1zM13 36h1v1h-1zM13 38h1v1h-1zM14 34h1v1h-1zM15 32h1v1h-1zM15 34h1v1h-1zM16 31h1v1h-1zM16 44h1v1h-1zM17 28h1v1h-1zM19 26h1v1h-1zM19 46h1v1h-1zM21 27h1v1h-1zM21 37h1v1h-1zM21 47h1v1h-1zM22 35h1v1h-1zM23 33h1v1h-1zM23 36h1v1h-1zM23 48h1v2h-1zM24 33h1v1h-1zM24 40h1v1h-1zM24 46h1v1h-1zM25 32h1v1h-1zM25 43h1v1h-1zM27 37h1v1h-1zM28 26h1v1h-1zM28 37h1v1h-1zM29 29h1v2h-1zM29 32h1v1h-1zM30 32h1v1h-1zM32 41h1v1h-1zM32 44h1v1h-1zM33 44h1v1h-1zM34 29h1v1h-1zM34 33h1v1h-1zM34 35h1v1h-1zM34 38h1v1h-1zM34 41h1v2h-1zM34 44h1v2h-1zM34 49h1v1h-1zM35 26h1v1h-1zM35 30h1v4h-1zM35 43h1v3h-1zM35 48h1v1h-1zM36 34h1v1h-1zM36 48h1v1h-1zM37 35h1v1h-1zM37 37h1v5h-1zM37 43h1v1h-1zM38 34h1v1h-1zM38 36h1v1h-1zM39 28h1v1h-1zM39 30h1v1h-1zM39 32h1v1h-1zM40 27h1v1h-1zM40 29h1v2h-1zM40 34h1v1h-1zM40 38h1v1h-1zM40 46h1v2h-1zM41 28h1v1h-1zM41 39h1v1h-1zM41 45h1v1h-1zM42 36h1v1h-1zM42 43h1v1h-1zM42 47h1v1h-1zM43 28h1v2h-1zM43 32h1v1h-1zM43 38h1v1h-1zM43 46h1v1h-1zM44 13h1v1h-1zM44 25h1v1h-1zM44 37h1v1h-1zM44 43h1v1h-1zM44 46h1v1h-1zM45 32h1v1h-1zM45 43h1v1h-1zM45 45h1v1h-1zM47 27h1v1h-1zM47 31h1v1h-1zM47 43h1v2h-1zM47 48h1v1h-1zM48 27h1v1h-1zM48 34h1v1h-1zM48 44h1v1h-1zM49 16h1v1h-1zM49 21h1v1h-1zM49 31h1v1h-1zM49 46h1v1h-1zM49 49h1v1h-1zM50 36h1v1h-1zM50 43h1v1h-1zM50 45h1v1h-1zM50 47h1v1h-1zM51 27h1v1h-1zM51 32h1v1h-1zM51 36h1v1h-1zM51 39h1v1h-1zM51 44h1v1h-1zM51 47h1v1h-1zM52 38h1v1h-1zM52 41h1v1h-1zM52 43h1v1h-1zM53 31h1v1h-1zM53 37h1v1h-1zM53 39h1v1h-1zM53 44h1v1h-1zM54 25h1v1h-1zM54 29h1v1h-1zM54 32h1v2h-1zM54 36h1v1h-1zM54 43h1v1h-1zM54 46h1v1h-1zM55 26h1v1h-1zM55 28h1v1h-1zM55 30h1v1h-1zM55 39h1v1h-1zM55 41h1v1h-1zM55 43h1v1h-1zM56 27h1v1h-1zM56 31h1v1h-1zM56 40h1v1h-1zM56 42h1v1h-1zM56 44h1v1h-1zM57 5h1v1h-1zM57 25h1v2h-1zM57 28h1v1h-1zM57 41h1v1h-1zM57 47h1v1h-1zM57 49h1v1h-1zM58 24h1v1h-1zM58 38h1v1h-1zM58 45h1v1h-1zM58 48h1v2h-1zM59 25h1v1h-1zM59 37h1v1h-1zM59 45h1v1h-1zM59 48h1v1h-1zM60 25h1v1h-1zM60 36h1v1h-1zM60 38h1v1h-1zM60 43h1v1h-1zM61 28h1v1h-1zM61 34h1v1h-1zM61 37h1v1h-1zM61 41h1v2h-1zM61 44h1v1h-1zM62 26h1v2h-1zM62 41h1v1h-1zM62 43h1v2h-1zM63 28h1v1h-1zM63 38h1v1h-1zM64 34h1v1h-1zM64 39h1v1h-1zM65 30h1v1h-1zM65 33h1v1h-1zM65 42h1v1h-1zM65 45h1v2h-1zM66 20h1v1h-1zM67 2h1v1h-1zM67 8h1v1h-1zM67 12h1v1h-1zM67 18h1v1h-1zM67 23h1v1h-1zM67 25h1v1h-1zM67 28h1v1h-1zM67 49h1v1h-1zM68 32h1v2h-1zM68 35h1v1h-1zM68 39h1v1h-1zM69 26h1v2h-1zM69 39h1v3h-1zM69 49h1v1h-1zM70 30h1v2h-1zM71 29h1v1h-1zM71 31h1v1h-1zM71 33h1v1h-1zM71 39h1v1h-1zM71 41h1v1h-1zM71 46h1v1h-1zM71 49h1v1h-1zM72 3h1v1h-1zM72 27h1v3h-1zM72 38h1v1h-1zM72 44h1v1h-1zM73 20h1v1h-1zM73 23h1v1h-1zM73 35h1v1h-1zM74 13h1v1h-1zM74 21h1v1h-1zM74 24h1v1h-1zM74 37h1v1h-1zM74 41h1v1h-1zM75 15h1v1h-1zM75 23h1v1h-1zM75 30h1v1h-1zM76 28h1v1h-1zM76 43h1v2h-1zM77 6h1v1h-1zM77 22h1v1h-1zM77 25h1v1h-1zM77 37h1v1h-1zM77 43h1v1h-1zM78 3h1v1h-1zM78 30h1v1h-1zM78 48h1v1h-1zM79 12h1v1h-1zM79 15h1v1h-1zM79 17h1v2h-1zM79 22h1v3h-1zM80 8h1v1h-1zM80 23h1v1h-1zM80 30h1v1h-1zM82 6h1v2h-1zM82 9h1v1h-1zM82 13h1v1h-1zM82 17h1v1h-1zM82 22h1v1h-1zM83 15h1v2h-1zM83 22h1v1h-1zM83 24h1v1h-1zM84 6h1v1h-1zM84 14h1v1h-1zM84 18h1v1h-1zM84 40h1v1h-1zM84 46h1v1h-1zM85 40h1v1h-1zM85 42h1v1h-1zM85 47h1v1h-1zM86 5h1v1h-1zM86 21h1v1h-1zM86 37h1v1h-1zM87 1h1v1h-1zM87 40h1v1h-1zM88 3h1v1h-1zM88 5h1v1h-1zM88 10h1v1h-1zM88 16h1v2h-1zM88 19h1v2h-1zM88 24h1v1h-1zM89 4h1v2h-1zM89 12h1v1h-1zM89 15h1v1h-1zM89 17h1v2h-1zM89 20h1v2h-1zM90 1h1v1h-1zM90 3h1v1h-1zM90 9h1v1h-1zM90 18h1v1h-1zM90 22h1v1h-1zM91 2h1v1h-1zM91 5h1v2h-1zM91 9h1v1h-1zM91 15h1v1h-1zM91 17h1v1h-1zM91 20h1v1h-1zM91 22h1v1h-1zM92 5h1v1h-1zM92 9h1v1h-1zM92 11h1v3h-1zM92 19h1v2h-1zM92 22h1v3h-1zM93 0h1v2h-1zM93 3h1v1h-1zM93 7h1v1h-1zM93 12h1v1h-1zM93 23h1v2h-1zM94 8h1v1h-1zM94 10h1v1h-1zM94 19h1v2h-1zM94 24h1v1h-1zM95 3h1v2h-1zM95 14h1v2h-1zM95 17h1v2h-1zM96 0h1v1h-1zM96 4h1v1h-1zM96 6h1v1h-1zM96 20h1v1h-1zM96 31h1v1h-1zM96 37h1v1h-1zM96 39h1v1h-1zM96 41h1v1h-1zM97 4h1v1h-1zM97 8h1v1h-1zM97 22h1v1h-1zM98 10h1v1h-1zM98 13h1v1h-1zM98 21h1v1h-1zM98 26h1v1h-1zM98 28h1v1h-1zM98 33h1v1h-1zM98 41h1v1h-1zM99 8h1v1h-1zM99 15h1v1h-1zM99 49h1v1h-1zM100 1h1v1h-1zM100 5h1v1h-1zM100 11h1v1h-1zM100 16h1v2h-1zM100 23h1v1h-1zM101 15h1v1h-1zM101 23h1v1h-1zM102 0h1v1h-1zM102 11h1v2h-1zM102 23h1v2h-1zM103 2h1v1h-1zM103 7h1v1h-1zM104 9h1v1h-1zM105 2h1v2h-1zM105 9h1v1h-1zM105 21h1v1h-1zM106 1h1v1h-1zM106 5h1v1h-1zM106 11h1v3h-1zM106 22h1v2h-1zM107 8h1v1h-1zM107 12h1v1h-1zM108 14h1v1h-1zM108 18h1v2h-1zM109 12h1v1h-1zM109 15h1v1h-1zM109 23h1v2h-1zM110 24h1v1h-1zM111 5h1v1h-1zM112 7h1v1h-1zM112 10h1v1h-1zM112 13h1v1h-1zM112 15h1v1h-1zM113 2h1v1h-1zM113 7h1v1h-1zM113 13h1v1h-1zM113 17h1v1h-1zM113 24h1v1h-1zM114 1h1v1h-1zM114 3h1v1h-1zM114 13h1v3h-1zM114 18h1v3h-1zM114 23h1v1h-1zM115 0h1v1h-1zM115 3h1v1h-1zM115 5h1v1h-1zM115 9h1v1h-1zM115 12h1v1h-1zM115 14h1v3h-1zM115 38h1v1h-1zM117 5h1v1h-1zM117 8h1v1h-1zM117 18h1v1h-1zM117 22h1v2h-1zM118 8h1v1h-1zM118 16h1v1h-1zM118 24h1v1h-1zM119 3h1v1h-1zM119 9h1v1h-1zM119 11h1v2h-1zM119 14h1v1h-1zM119 20h1v2h-1zM119 24h1v1h-1zM120 1h1v2h-1zM120 10h1v1h-1zM120 12h1v1h-1zM120 19h1v2h-1zM121 8h1v1h-1zM122 22h1v1h-1zM123 2h1v1h-1zM123 5h1v1h-1zM123 22h1v1h-1zM123 37h1v1h-1zM123 45h1v1h-1zM124 2h1v1h-1zM124 4h1v1h-1zM124 12h1v1h-1zM124 19h1v1h-1zM124 24h1v1h-1zM124 48h1v1h-1zM125 12h1v1h-1zM125 22h1v1h-1zM126 0h1v1h-1zM126 2h1v1h-1zM126 10h1v3h-1zM126 14h1v1h-1zM126 21h1v1h-1zM126 27h1v1h-1zM127 4h1v1h-1zM127 7h1v1h-1zM127 19h1v1h-1zM128 2h1v1h-1zM128 4h1v1h-1zM128 24h1v1h-1zM130 3h1v1h-1zM130 6h1v1h-1zM130 18h1v1h-1zM130 20h1v1h-1zM131 17h1v1h-1zM132 2h1v2h-1zM132 18h1v1h-1zM133 1h1v1h-1zM133 10h1v1h-1zM133 12h1v1h-1zM133 14h1v1h-1zM133 18h1v2h-1zM134 17h1v1h-1zM135 5h1v1h-1zM136 7h1v1h-1zM136 9h1v1h-1zM136 19h1v1h-1zM137 11h1v1h-1zM137 22h1v1h-1zM138 3h1v2h-1zM138 6h1v1h-1zM138 11h1v1h-1zM138 14h1v2h-1zM138 23h1v1h-1zM139 3h1v1h-1zM139 9h1v1h-1zM139 13h1v1h-1zM139 16h1v1h-1zM139 27h1v1h-1zM140 10h1v1h-1zM140 14h1v1h-1zM140 22h1v2h-1zM141 0h1v1h-1zM141 6h1v1h-1zM141 12h1v1h-1zM141 14h1v1h-1zM141 21h1v1h-1zM142 3h1v1h-1zM142 5h1v1h-1zM142 10h1v1h-1zM142 14h1v1h-1zM142 20h1v1h-1zM143 3h1v1h-1zM143 11h1v2h-1zM143 20h1v2h-1zM144 3h1v1h-1zM144 16h1v1h-1zM144 23h1v2h-1zM145 6h1v1h-1zM145 9h1v2h-1zM145 12h1v3h-1zM145 24h1v1h-1zM146 14h1v1h-1zM147 17h1v2h-1zM148 6h1v1h-1zM148 12h1v1h-1zM148 17h1v1h-1zM148 19h1v1h-1zM149 20h1v1h-1zM149 24h1v1h-1zM149 49h1v1h-1zM150 10h1v1h-1zM150 18h1v1h-1zM150 20h1v1h-1zM150 23h1v2h-1zM151 13h1v1h-1zM152 0h1v1h-1zM152 2h1v1h-1zM152 4h1v1h-1zM153 1h1v1h-1zM153 4h1v1h-1zM153 19h1v1h-1zM153 24h1v1h-1zM154 18h1v1h-1zM155 0h1v1h-1zM155 19h1v1h-1zM156 5h1v1h-1zM156 7h1v2h-1zM156 22h1v1h-1zM157 2h1v1h-1zM157 16h1v1h-1zM157 21h1v1h-1zM157 44h1v1h-1zM159 8h1v1h-1zM159 20h1v1h-1zM160 5h1v2h-1zM160 13h1v1h-1zM160 18h1v1h-1zM160 20h1v2h-1zM160 23h1v1h-1zM163 1h1v2h-1zM163 6h1v2h-1zM163 21h1v1h-1zM163 23h1v1h-1zM163 25h1v1h-1zM163 33h1v1h-1zM163 37h1v1h-1zM163 39h1v1h-1zM163 48h1v1h-1zM164 14h1v1h-1zM165 15h1v1h-1zM166 24h1v1h-1zM166 35h1v1h-1zM168 11h1v1h-1zM168 19h1v1h-1zM169 2h1v1h-1zM169 18h1v1h-1zM170 1h1v1h-1zM170 3h1v2h-1zM170 11h1v1h-1zM170 21h1v1h-1zM174 0h1v1h-1zM174 3h1v1h-1zM174 17h1v1h-1zM174 21h1v1h-1zM175 14h1v1h-1zM175 21h1v1h-1zM177 5h1v1h-1zM178 14h1v1h-1zM179 2h1v1h-1zM179 8h1v1h-1zM179 10h1v1h-1zM179 17h1v1h-1zM179 20h1v1h-1zM179 23h1v1h-1z"/>
<path fill="#f9e1db" d="M0 29h1v1h-1zM0 49h1v1h-1zM1 44h1v1h-1zM4 34h1v1h-1zM4 43h1v1h-1zM5 25h1v2h-1zM5 28h1v2h-1zM5 34h1v1h-1zM7 47h1v1h-1zM9 29h1v1h-1zM9 32h1v1h-1zM10 27h1v1h-1zM10 29h1v1h-1zM10 36h1v2h-1zM10 39h1v1h-1zM10 43h1v1h-1zM10 46h1v1h-1zM11 28h1v1h-1zM12 32h1v1h-1zM12 35h1v1h-1zM13 44h1v1h-1zM13 47h1v2h-1zM15 25h1v1h-1zM15 27h1v1h-1zM15 35h1v2h-1zM15 38h1v2h-1zM15 41h1v1h-1zM15 47h1v2h-1zM16 25h1v1h-1zM16 32h1v1h-1zM16 35h1v1h-1zM16 38h1v1h-1zM16 45h1v1h-1zM17 37h1v1h-1zM17 45h1v1h-1zM18 48h1v1h-1zM19 33h1v1h-1zM19 40h1v1h-1zM21 28h1v1h-1zM21 33h1v1h-1zM21 39h1v1h-1zM21 43h1v2h-1zM22 32h1v1h-1zM23 26h1v1h-1zM23 28h1v1h-1zM23 38h1v1h-1zM23 42h1v1h-1zM23 45h1v1h-1zM24 32h1v1h-1zM24 35h1v1h-1zM24 44h1v1h-1zM24 48h1v1h-1zM25 28h1v2h-1zM26 45h1v1h-1zM27 32h1v1h-1zM28 36h1v1h-1zM28 45h1v1h-1zM29 25h1v1h-1zM29 44h1v2h-1zM30 25h1v1h-1zM30 38h1v1h-1zM30 42h1v1h-1zM30 48h1v1h-1zM31 31h1v1h-1zM31 34h1v1h-1zM31 41h1v1h-1zM31 45h1v3h-1zM32 30h1v1h-1zM32 35h1v1h-1zM32 39h1v1h-1zM32 42h1v1h-1zM33 33h1v1h-1zM33 35h1v3h-1zM33 39h1v1h-1zM33 43h1v1h-1zM33 45h1v1h-1zM34 0h1v1h-1zM34 26h1v1h-1zM34 43h1v1h-1zM34 47h1v1h-1zM35 27h1v1h-1zM35 35h1v1h-1zM35 37h1v1h-1zM35 46h1v1h-1zM36 35h1v2h-1zM36 40h1v1h-1zM37 7h1v1h-1zM37 45h1v1h-1zM37 49h1v1h-1zM38 37h1v1h-1zM39 25h1v1h-1zM39 33h1v1h-1zM39 40h1v1h-1zM39 45h1v1h-1zM40 32h1v1h-1zM40 39h1v1h-1zM40 42h1v1h-1zM41 25h1v1h-1zM41 29h1v1h-1zM41 32h1v1h-1zM41 34h1v1h-1zM42 31h1v1h-1zM42 34h1v1h-1zM42 38h1v1h-1zM42 42h1v1h-1zM42 45h1v1h-1zM43 25h1v1h-1zM43 30h1v1h-1zM43 40h1v1h-1zM44 1h1v1h-1zM45 29h1v1h-1zM45 36h1v1h-1zM46 26h1v2h-1zM46 39h1v1h-1zM46 44h1v1h-1zM47 28h1v1h-1zM47 30h1v1h-1zM47 32h1v1h-1zM47 38h1v1h-1zM47 42h1v1h-1zM47 46h1v2h-1zM48 31h1v1h-1zM48 40h1v1h-1zM48 45h1v1h-1zM48 49h1v1h-1zM49 15h1v1h-1zM49 30h1v1h-1zM49 33h1v1h-1zM50 27h1v2h-1zM50 32h1v1h-1zM50 40h1v1h-1zM50 49h1v1h-1zM51 30h1v2h-1zM51 34h1v2h-1zM51 38h1v1h-1zM51 42h1v1h-1zM52 25h1v1h-1zM52 29h1v1h-1zM52 39h1v1h-1zM52 46h1v1h-1zM53 36h1v1h-1zM53 41h1v1h-1zM54 35h1v1h-1zM54 41h1v2h-1zM55 33h1v4h-1zM55 38h1v1h-1zM56 34h1v1h-1zM56 38h1v2h-1zM56 43h1v1h-1zM57 36h1v3h-1zM57 48h1v1h-1zM58 27h1v2h-1zM58 30h1v1h-1zM58 37h1v1h-1zM58 41h1v1h-1zM59 28h1v1h-1zM59 32h1v3h-1zM59 39h1v3h-1zM59 43h1v1h-1zM60 42h1v1h-1zM60 47h1v1h-1zM60 49h1v1h-1zM61 29h1v1h-1zM61 33h1v1h-1zM61 36h1v1h-1zM61 38h1v1h-1zM61 40h1v1h-1zM61 45h1v1h-1zM62 33h1v2h-1zM62 37h1v2h-1zM62 46h1v1h-1zM62 49h1v1h-1zM63 25h1v2h-1zM63 30h1v1h-1zM63 40h1v3h-1zM63 46h1v1h-1zM64 33h1v1h-1zM64 35h1v2h-1zM64 42h1v1h-1zM65 40h1v2h-1zM67 15h1v1h-1zM68 30h1v1h-1zM68 36h1v2h-1zM68 40h1v2h-1zM68 44h1v1h-1zM68 46h1v1h-1zM69 28h1v1h-1zM69 47h1v1h-1zM71 25h1v1h-1zM71 28h1v1h-1zM71 34h1v2h-1zM71 37h1v2h-1zM71 42h1v2h-1zM72 43h1v1h-1zM73 25h1v1h-1zM73 34h1v1h-1zM73 49h1v1h-1zM75 21h1v1h-1zM76 26h1v1h-1zM76 31h1v1h-1zM78 13h1v1h-1zM79 3h1v1h-1zM79 5h1v1h-1zM79 11h1v1h-1zM80 20h1v1h-1zM83 13h1v1h-1zM85 41h1v1h-1zM86 19h1v1h-1zM88 0h1v2h-1zM88 8h1v1h-1zM88 15h1v1h-1zM88 23h1v1h-1zM89 2h1v1h-1zM89 6h1v1h-1zM89 13h1v1h-1zM90 6h1v1h-1zM90 8h1v1h-1zM90 13h1v2h-1zM90 20h1v1h-1zM91 0h1v1h-1zM91 11h1v1h-1zM93 2h1v1h-1zM93 6h1v1h-1zM93 9h1v1h-1zM93 11h1v1h-1zM93 13h1v2h-1zM94 0h1v1h-1zM94 3h1v1h-1zM94 12h1v1h-1zM94 15h1v1h-1zM94 17h1v1h-1zM94 23h1v1h-1zM95 0h1v2h-1zM95 5h1v1h-1zM95 8h1v1h-1zM95 13h1v1h-1zM95 16h1v1h-1zM95 23h1v1h-1zM96 13h1v1h-1zM97 5h1v1h-1zM97 19h1v1h-1zM98 39h1v1h-1zM100 22h1v1h-1zM101 9h1v1h-1zM101 13h1v1h-1zM101 22h1v1h-1zM102 6h1v1h-1zM104 8h1v1h-1zM104 10h1v1h-1zM104 17h1v2h-1zM104 23h1v1h-1zM105 0h1v1h-1zM105 7h1v1h-1zM105 16h1v2h-1zM105 22h1v1h-1zM106 16h1v1h-1zM107 10h1v2h-1zM107 15h1v1h-1zM107 18h1v3h-1zM107 22h1v1h-1zM107 24h1v1h-1zM108 11h1v1h-1zM108 13h1v1h-1zM108 24h1v1h-1zM109 4h1v1h-1zM109 7h1v3h-1zM109 16h1v1h-1zM109 18h1v2h-1zM109 21h1v2h-1zM110 0h1v1h-1zM111 17h1v1h-1zM111 24h1v1h-1zM112 8h1v1h-1zM112 14h1v1h-1zM112 16h1v1h-1zM112 21h1v1h-1zM113 1h1v1h-1zM113 4h1v1h-1zM113 8h1v1h-1zM113 12h1v1h-1zM113 14h1v1h-1zM114 0h1v1h-1zM114 12h1v1h-1zM115 7h1v1h-1zM115 13h1v1h-1zM115 23h1v1h-1zM116 1h1v2h-1zM116 10h1v1h-1zM116 15h1v2h-1zM116 23h1v1h-1zM117 9h1v1h-1zM117 13h1v1h-1zM117 15h1v1h-1zM118 1h1v2h-1zM118 4h1v1h-1zM118 14h1v1h-1zM118 17h1v1h-1zM118 19h1v1h-1zM119 0h1v2h-1zM119 7h1v1h-1zM119 17h1v1h-1zM119 19h1v1h-1zM119 23h1v1h-1zM120 0h1v1h-1zM120 5h1v1h-1zM120 13h1v1h-1zM120 15h1v3h-1zM120 24h1v1h-1zM121 3h1v1h-1zM121 6h1v1h-1zM121 9h1v1h-1zM121 11h1v1h-1zM121 18h1v1h-1zM122 11h1v1h-1zM122 21h1v1h-1zM123 3h1v1h-1zM123 25h1v1h-1zM124 22h1v1h-1zM125 1h1v1h-1zM125 4h1v2h-1zM125 7h1v1h-1zM125 14h1v1h-1zM125 20h1v1h-1zM125 23h1v1h-1zM126 1h1v1h-1zM126 6h1v1h-1zM126 8h1v1h-1zM126 16h1v2h-1zM126 22h1v2h-1zM127 10h1v2h-1zM127 14h1v1h-1zM127 18h1v1h-1zM127 22h1v1h-1zM128 7h1v1h-1zM129 7h1v1h-1zM129 14h1v1h-1zM129 21h1v1h-1zM130 8h1v1h-1zM130 15h1v1h-1zM130 23h1v2h-1zM131 9h1v1h-1zM132 4h1v2h-1zM132 14h1v1h-1zM132 22h1v1h-1zM132 24h1v1h-1zM133 0h1v1h-1zM133 21h1v1h-1zM133 24h1v2h-1zM136 3h1v1h-1zM136 10h1v1h-1zM136 16h1v2h-1zM136 22h1v2h-1zM137 6h1v1h-1zM137 12h1v1h-1zM137 14h1v1h-1zM138 0h1v1h-1zM138 7h1v1h-1zM138 13h1v1h-1zM138 17h1v1h-1zM138 21h1v2h-1zM139 0h1v2h-1zM139 11h1v1h-1zM139 48h1v1h-1zM140 9h1v1h-1zM140 20h1v1h-1zM140 24h1v1h-1zM141 4h1v1h-1zM141 17h1v1h-1zM142 0h1v1h-1zM142 4h1v1h-1zM142 11h1v2h-1zM142 18h1v1h-1zM142 22h1v1h-1zM142 24h1v1h-1zM143 7h1v1h-1zM143 24h1v1h-1zM144 4h1v1h-1zM144 8h1v2h-1zM144 15h1v1h-1zM144 18h1v1h-1zM144 22h1v1h-1zM145 7h1v1h-1zM145 23h1v1h-1zM146 11h1v1h-1zM146 21h1v1h-1zM146 23h1v1h-1zM147 6h1v1h-1zM147 10h1v2h-1zM147 22h1v1h-1zM147 24h1v1h-1zM148 9h1v3h-1zM148 14h1v3h-1zM148 22h1v1h-1zM148 24h1v1h-1zM149 11h1v1h-1zM150 13h1v1h-1zM150 21h1v1h-1zM151 0h1v1h-1zM151 9h1v1h-1zM151 12h1v1h-1zM152 7h1v1h-1zM152 18h1v1h-1zM152 24h1v1h-1zM153 16h1v1h-1zM154 2h1v1h-1zM154 22h1v1h-1zM154 27h1v1h-1zM155 4h1v1h-1zM155 6h1v1h-1zM155 23h1v1h-1zM156 2h1v1h-1zM156 15h1v1h-1zM157 4h1v1h-1zM157 9h1v1h-1zM157 12h1v1h-1zM157 18h1v1h-1zM157 23h1v1h-1zM157 49h1v1h-1zM158 23h1v1h-1zM159 1h1v1h-1zM159 18h1v2h-1zM159 24h1v1h-1zM159 29h1v1h-1zM160 3h1v1h-1zM160 22h1v1h-1zM160 24h1v1h-1zM163 16h1v2h-1zM163 40h1v1h-1zM165 4h1v2h-1zM165 19h1v1h-1zM165 22h1v1h-1zM166 3h1v1h-1zM166 6h1v1h-1zM166 10h1v1h-1zM166 13h1v1h-1zM166 23h1v1h-1zM166 40h1v1h-1zM168 23h1v1h-1zM169 24h1v1h-1zM170 5h1v1h-1zM170 18h1v1h-1zM171 3h1v1h-1zM172 9h1v1h-1zM172 19h1v2h-1zM173 3h1v1h-1zM174 7h1v1h-1zM174 16h1v1h-1zM175 1h1v1h-1zM176 2h1v1h-1zM177 3h1v1h-1zM177 23h1v1h-1zM178 9h1v1h-1zM179 1h1v1h-1zM179 6h1v1h-1zM179 11h1v1h-1zM179 15h1v1h-1zM179 19h1v1h-1zM179 22h1v1h-1z"/>
<path fill="#f9d9d0" d="M0 25h1v1h-1zM0 35h1v1h-1zM0 42h1v1h-1zM0 44h1v2h-1zM2 27h1v1h-1zM2 31h1v1h-1zM2 44h1v2h-1zM3 28h1v1h-1zM4 29h1v1h-1zM5 33h1v1h-1zM5 36h1v1h-1zM5 41h1v1h-1zM5 45h1v4h-1zM6 29h1v1h-1zM7 31h1v1h-1zM8 41h1v1h-1zM9 33h1v1h-1zM9 37h1v1h-1zM9 43h1v1h-1zM10 26h1v1h-1zM10 33h1v2h-1zM11 26h1v1h-1zM11 31h1v1h-1zM11 42h1v1h-1zM11 44h1v1h-1zM11 46h1v1h-1zM13 32h1v1h-1zM13 39h1v1h-1zM13 45h1v2h-1zM14 25h1v1h-1zM15 29h1v2h-1zM16 26h1v1h-1zM16 28h1v2h-1zM16 37h1v1h-1zM16 39h1v3h-1zM17 49h1v1h-1zM18 29h1v1h-1zM18 39h1v1h-1zM19 27h1v1h-1zM19 36h1v1h-1zM19 45h1v1h-1zM20 28h1v1h-1zM20 33h1v1h-1zM20 43h1v1h-1zM20 46h1v1h-1zM21 25h1v2h-1zM21 29h1v1h-1zM21 35h1v1h-1zM22 30h1v1h-1zM22 37h1v1h-1zM22 39h1v1h-1zM23 25h1v1h-1zM23 27h1v1h-1zM23 37h1v1h-1zM23 39h1v3h-1zM23 46h1v2h-1zM24 25h1v1h-1zM24 31h1v1h-1zM24 38h1v1h-1zM24 41h1v1h-1zM24 45h1v1h-1zM24 47h1v1h-1zM25 25h1v2h-1zM25 37h1v2h-1zM25 42h1v1h-1zM26 46h1v1h-1zM28 28h1v1h-1zM28 34h1v1h-1zM28 38h1v2h-1zM28 44h1v1h-1zM29 27h1v2h-1zM29 36h1v1h-1zM29 43h1v1h-1zM30 40h1v1h-1zM30 45h1v1h-1zM30 49h1v1h-1zM31 26h1v2h-1zM31 33h1v1h-1zM32 25h1v1h-1zM32 34h1v1h-1zM32 48h1v1h-1zM33 46h1v1h-1zM34 30h1v2h-1zM34 34h1v1h-1zM34 36h1v2h-1zM34 40h1v1h-1zM35 25h1v1h-1zM35 28h1v1h-1zM36 31h1v1h-1zM36 33h1v1h-1zM36 45h1v2h-1zM37 31h1v1h-1zM37 33h1v1h-1zM38 29h1v1h-1zM38 33h1v1h-1zM38 39h1v1h-1zM38 43h1v1h-1zM38 45h1v1h-1zM39 27h1v1h-1zM39 31h1v1h-1zM39 35h1v1h-1zM39 38h1v1h-1zM39 46h1v1h-1zM40 25h1v2h-1zM40 33h1v1h-1zM40 37h1v1h-1zM40 48h1v2h-1zM41 33h1v1h-1zM41 42h1v2h-1zM41 49h1v1h-1zM42 28h1v1h-1zM42 37h1v1h-1zM42 41h1v1h-1zM42 46h1v1h-1zM43 37h1v1h-1zM43 39h1v1h-1zM43 41h1v1h-1zM44 40h1v1h-1zM45 28h1v1h-1zM45 47h1v2h-1zM46 28h1v1h-1zM46 33h1v1h-1zM46 41h1v1h-1zM46 46h1v2h-1zM47 26h1v1h-1zM47 39h1v1h-1zM48 28h1v1h-1zM48 33h1v1h-1zM48 36h1v2h-1zM48 47h1v2h-1zM49 37h1v2h-1zM50 37h1v2h-1zM51 25h1v2h-1zM51 40h1v1h-1zM52 28h1v1h-1zM52 31h1v1h-1zM52 33h1v2h-1zM52 40h1v1h-1zM52 42h1v1h-1zM52 47h1v1h-1zM53 26h1v1h-1zM53 40h1v1h-1zM54 27h1v1h-1zM54 38h1v1h-1zM54 47h1v1h-1zM54 49h1v1h-1zM55 25h1v1h-1zM55 31h1v1h-1zM55 40h1v1h-1zM55 44h1v1h-1zM56 26h1v1h-1zM56 29h1v1h-1zM56 36h1v1h-1zM56 41h1v1h-1zM56 45h1v1h-1zM56 48h1v1h-1zM57 40h1v1h-1zM57 42h1v2h-1zM58 43h1v1h-1zM59 26h1v2h-1zM59 35h1v1h-1zM59 38h1v1h-1zM60 40h1v1h-1zM61 30h1v1h-1zM61 48h1v2h-1zM62 30h1v1h-1zM62 40h1v1h-1zM62 47h1v1h-1zM63 31h1v1h-1zM63 35h1v1h-1zM63 39h1v1h-1zM63 45h1v1h-1zM63 48h1v1h-1zM64 26h1v2h-1zM64 29h1v1h-1zM64 38h1v1h-1zM64 47h1v2h-1zM65 39h1v1h-1zM68 25h1v1h-1zM68 27h1v2h-1zM68 43h1v1h-1zM69 25h1v1h-1zM72 47h1v1h-1zM78 49h1v1h-1zM79 6h1v1h-1zM79 9h1v1h-1zM86 17h1v1h-1zM87 2h1v1h-1zM88 11h1v1h-1zM88 13h1v1h-1zM88 21h1v1h-1zM89 0h1v1h-1zM89 7h1v2h-1zM89 19h1v1h-1zM90 4h1v1h-1zM90 7h1v1h-1zM90 12h1v1h-1zM90 17h1v1h-1zM90 19h1v1h-1zM90 23h1v1h-1zM91 7h1v1h-1zM91 23h1v1h-1zM93 15h1v1h-1zM93 17h1v3h-1zM93 21h1v2h-1zM94 2h1v1h-1zM94 21h1v1h-1zM95 10h1v1h-1zM95 22h1v1h-1zM97 0h1v1h-1zM97 17h1v1h-1zM97 23h1v1h-1zM99 45h1v1h-1zM102 7h1v1h-1zM102 13h1v1h-1zM102 17h1v1h-1zM103 3h1v1h-1zM103 6h1v1h-1zM103 11h1v2h-1zM103 14h1v1h-1zM103 17h1v1h-1zM104 5h1v1h-1zM104 14h1v1h-1zM104 20h1v1h-1zM105 4h1v1h-1zM105 6h1v1h-1zM105 14h1v2h-1zM106 8h1v1h-1zM106 15h1v1h-1zM107 0h1v1h-1zM107 6h1v2h-1zM107 9h1v1h-1zM107 16h1v2h-1zM107 21h1v1h-1zM107 23h1v1h-1zM108 0h1v1h-1zM108 2h1v1h-1zM108 5h1v1h-1zM108 8h1v1h-1zM108 20h1v2h-1zM109 2h1v1h-1zM109 17h1v1h-1zM110 1h1v1h-1zM110 12h1v1h-1zM110 15h1v1h-1zM111 3h1v1h-1zM111 9h1v1h-1zM111 12h1v1h-1zM111 16h1v1h-1zM111 18h1v2h-1zM111 23h1v1h-1zM113 5h1v2h-1zM113 10h1v1h-1zM113 15h1v1h-1zM113 23h1v1h-1zM114 7h1v1h-1zM114 17h1v1h-1zM115 2h1v1h-1zM115 4h1v1h-1zM115 21h1v2h-1zM115 24h1v1h-1zM116 3h1v1h-1zM116 6h1v1h-1zM116 8h1v2h-1zM116 17h1v3h-1zM116 21h1v1h-1zM117 16h1v1h-1zM118 10h1v2h-1zM118 20h1v2h-1zM119 6h1v1h-1zM119 10h1v1h-1zM119 16h1v1h-1zM120 6h1v1h-1zM120 9h1v1h-1zM120 18h1v1h-1zM120 22h1v1h-1zM121 5h1v1h-1zM121 17h1v1h-1zM121 21h1v1h-1zM122 2h1v1h-1zM122 7h1v2h-1zM123 0h1v1h-1zM124 0h1v1h-1zM124 5h1v1h-1zM124 9h1v1h-1zM124 16h1v1h-1zM124 20h1v1h-1zM125 8h1v1h-1zM125 11h1v1h-1zM125 13h1v1h-1zM125 17h1v1h-1zM125 24h1v1h-1zM127 5h1v1h-1zM127 8h1v2h-1zM127 17h1v1h-1zM127 24h1v1h-1zM128 10h1v2h-1zM128 18h1v1h-1zM128 23h1v1h-1zM129 4h1v1h-1zM129 20h1v1h-1zM130 11h1v1h-1zM130 13h1v1h-1zM130 17h1v1h-1zM130 22h1v1h-1zM131 3h1v1h-1zM131 5h1v1h-1zM131 14h1v1h-1zM131 16h1v1h-1zM131 22h1v1h-1zM131 24h1v1h-1zM132 9h1v1h-1zM132 15h1v1h-1zM132 21h1v1h-1zM133 8h1v1h-1zM134 11h1v1h-1zM136 4h1v1h-1zM136 12h1v3h-1zM136 21h1v1h-1zM137 0h1v3h-1zM137 4h1v1h-1zM137 13h1v1h-1zM137 19h1v1h-1zM138 2h1v1h-1zM138 8h1v1h-1zM138 10h1v1h-1zM139 15h1v1h-1zM139 19h1v1h-1zM139 21h1v1h-1zM140 0h1v1h-1zM140 11h1v1h-1zM140 13h1v1h-1zM140 16h1v2h-1zM141 5h1v1h-1zM141 7h1v4h-1zM141 15h1v1h-1zM141 23h1v1h-1zM142 15h1v1h-1zM144 0h1v2h-1zM144 11h1v1h-1zM145 1h1v1h-1zM145 17h1v1h-1zM145 22h1v1h-1zM146 6h1v2h-1zM146 15h1v2h-1zM146 24h1v1h-1zM147 1h1v1h-1zM148 8h1v1h-1zM148 18h1v1h-1zM148 20h1v2h-1zM148 23h1v1h-1zM149 0h1v3h-1zM149 5h1v1h-1zM149 15h1v1h-1zM149 21h1v1h-1zM150 6h1v1h-1zM150 19h1v1h-1zM151 1h1v1h-1zM151 6h1v1h-1zM152 1h1v1h-1zM152 5h1v2h-1zM152 8h1v1h-1zM152 11h1v1h-1zM152 13h1v1h-1zM152 17h1v1h-1zM152 20h1v1h-1zM152 23h1v1h-1zM153 8h1v1h-1zM153 11h1v1h-1zM154 24h1v1h-1zM155 8h1v1h-1zM155 24h1v1h-1zM156 4h1v1h-1zM157 13h1v1h-1zM158 0h1v2h-1zM158 17h1v1h-1zM158 24h1v1h-1zM159 2h1v2h-1zM159 10h1v1h-1zM159 17h1v1h-1zM160 9h1v2h-1zM160 14h1v1h-1zM161 8h1v1h-1zM161 13h1v1h-1zM162 12h1v1h-1zM164 0h1v1h-1zM164 2h1v1h-1zM164 12h1v2h-1zM164 20h1v1h-1zM164 24h1v1h-1zM165 10h1v1h-1zM165 17h1v1h-1zM165 23h1v1h-1zM166 11h1v1h-1zM166 18h1v1h-1zM166 21h1v1h-1zM167 9h1v1h-1zM168 3h1v1h-1zM168 13h1v1h-1zM168 20h1v1h-1zM169 14h1v1h-1zM170 7h1v1h-1zM170 10h1v1h-1zM170 12h1v2h-1zM171 11h1v1h-1zM172 2h1v1h-1zM174 2h1v1h-1zM174 19h1v2h-1zM174 22h1v3h-1zM175 18h1v1h-1zM175 20h1v1h-1zM178 3h1v1h-1zM178 16h1v1h-1zM179 14h1v1h-1zM179 18h1v1h-1zM179 24h1v1h-1z"/>
<path fill="#f8d0c5" d="M0 31h1v1h-1zM0 33h1v1h-1zM0 37h1v1h-1zM0 39h1v1h-1zM0 41h1v1h-1zM0 46h1v1h-1zM1 31h1v1h-1zM2 39h1v1h-1zM2 43h1v1h-1zM3 30h1v2h-1zM3 43h1v1h-1zM4 40h1v1h-1zM4 44h1v2h-1zM5 40h1v1h-1zM5 42h1v3h-1zM6 47h1v1h-1zM7 35h1v1h-1zM8 45h1v1h-1zM9 25h1v1h-1zM9 30h1v2h-1zM9 34h1v3h-1zM9 38h1v1h-1zM9 41h1v1h-1zM9 48h1v1h-1zM11 25h1v1h-1zM11 49h1v1h-1zM12 31h1v1h-1zM12 48h1v1h-1zM13 26h1v1h-1zM13 28h1v1h-1zM13 40h1v2h-1zM13 49h1v1h-1zM14 30h1v1h-1zM14 35h1v1h-1zM14 37h1v1h-1zM14 43h1v1h-1zM14 45h1v1h-1zM16 30h1v1h-1zM16 36h1v1h-1zM16 42h1v1h-1zM16 47h1v1h-1zM17 27h1v1h-1zM17 29h1v2h-1zM17 35h1v1h-1zM17 42h1v1h-1zM17 44h1v1h-1zM17 48h1v1h-1zM18 27h1v1h-1zM18 32h1v1h-1zM18 34h1v1h-1zM18 42h1v1h-1zM18 49h1v1h-1zM19 35h1v1h-1zM19 42h1v2h-1zM19 49h1v1h-1zM20 25h1v1h-1zM20 31h1v2h-1zM20 41h1v1h-1zM21 31h1v1h-1zM21 38h1v1h-1zM22 27h1v1h-1zM22 29h1v1h-1zM22 31h1v1h-1zM22 41h1v1h-1zM22 46h1v1h-1zM23 29h1v1h-1zM23 31h1v1h-1zM23 35h1v1h-1zM24 26h1v1h-1zM25 41h1v1h-1zM25 47h1v1h-1zM26 26h1v1h-1zM26 30h1v1h-1zM26 36h1v1h-1zM26 40h1v1h-1zM26 44h1v1h-1zM28 29h1v1h-1zM28 35h1v1h-1zM28 42h1v1h-1zM28 48h1v1h-1zM29 35h1v1h-1zM29 47h1v1h-1zM30 27h1v2h-1zM30 31h1v1h-1zM30 33h1v1h-1zM30 37h1v1h-1zM30 47h1v1h-1zM31 25h1v1h-1zM31 28h1v2h-1zM31 37h1v1h-1zM31 39h1v1h-1zM31 44h1v1h-1zM32 27h1v1h-1zM32 29h1v1h-1zM32 36h1v1h-1zM32 47h1v1h-1zM33 27h1v3h-1zM33 34h1v1h-1zM33 48h1v1h-1zM34 25h1v1h-1zM34 46h1v1h-1zM36 28h1v1h-1zM36 38h1v1h-1zM36 44h1v1h-1zM37 26h1v1h-1zM38 25h1v1h-1zM38 27h1v2h-1zM38 41h1v1h-1zM38 46h1v1h-1zM39 29h1v1h-1zM39 41h1v1h-1zM39 44h1v1h-1zM39 49h1v1h-1zM40 28h1v1h-1zM40 31h1v1h-1zM40 41h1v1h-1zM40 44h1v1h-1zM41 38h1v1h-1zM41 40h1v1h-1zM41 46h1v1h-1zM42 27h1v1h-1zM42 40h1v1h-1zM42 49h1v1h-1zM43 27h1v1h-1zM43 49h1v1h-1zM44 47h1v1h-1zM45 25h1v3h-1zM45 31h1v1h-1zM45 33h1v1h-1zM45 35h1v1h-1zM45 41h1v2h-1zM45 44h1v1h-1zM45 49h1v1h-1zM46 43h1v1h-1zM46 49h1v1h-1zM47 49h1v1h-1zM48 26h1v1h-1zM48 35h1v1h-1zM48 38h1v2h-1zM48 41h1v1h-1zM48 46h1v1h-1zM49 48h1v1h-1zM50 44h1v1h-1zM51 37h1v1h-1zM52 26h1v1h-1zM52 35h1v1h-1zM53 32h1v1h-1zM53 48h1v1h-1zM55 37h1v1h-1zM56 25h1v1h-1zM56 33h1v1h-1zM56 47h1v1h-1zM57 30h1v1h-1zM59 36h1v1h-1zM61 31h1v1h-1zM63 37h1v1h-1zM64 45h1v1h-1zM69 33h1v1h-1zM71 30h1v1h-1zM71 40h1v1h-1zM79 0h1v1h-1zM88 18h1v1h-1zM89 14h1v1h-1zM90 0h1v1h-1zM90 16h1v1h-1zM91 1h1v1h-1zM91 16h1v1h-1zM91 18h1v1h-1zM93 16h1v1h-1zM94 18h1v1h-1zM97 2h1v1h-1zM97 9h1v1h-1zM97 11h1v1h-1zM97 13h1v1h-1zM97 24h1v1h-1zM100 21h1v1h-1zM102 16h1v1h-1zM102 21h1v2h-1zM103 8h1v1h-1zM103 10h1v1h-1zM104 0h1v1h-1zM104 16h1v1h-1zM106 0h1v1h-1zM106 17h1v1h-1zM107 2h1v1h-1zM108 4h1v1h-1zM108 7h1v1h-1zM108 15h1v1h-1zM108 22h1v2h-1zM109 13h1v1h-1zM110 2h1v1h-1zM110 5h1v1h-1zM110 8h1v1h-1zM110 10h1v2h-1zM110 13h1v1h-1zM110 16h1v2h-1zM110 20h1v1h-1zM110 23h1v1h-1zM111 10h1v1h-1zM111 15h1v1h-1zM111 21h1v1h-1zM112 22h1v2h-1zM114 4h1v1h-1zM116 0h1v1h-1zM116 5h1v1h-1zM116 12h1v1h-1zM116 24h1v1h-1zM118 0h1v1h-1zM118 3h1v1h-1zM118 5h1v1h-1zM118 7h1v1h-1zM118 12h1v1h-1zM119 5h1v1h-1zM120 11h1v1h-1zM121 10h1v1h-1zM121 15h1v2h-1zM121 20h1v1h-1zM121 22h1v1h-1zM122 12h1v1h-1zM122 24h1v1h-1zM124 10h1v1h-1zM124 13h1v1h-1zM124 18h1v1h-1zM125 10h1v1h-1zM126 4h1v1h-1zM126 20h1v1h-1zM126 49h1v1h-1zM127 1h1v1h-1zM127 16h1v1h-1zM127 20h1v2h-1zM127 23h1v1h-1zM128 6h1v1h-1zM128 9h1v1h-1zM128 17h1v1h-1zM129 2h1v1h-1zM129 6h1v1h-1zM129 8h1v1h-1zM129 11h1v1h-1zM129 13h1v1h-1zM129 17h1v1h-1zM130 9h1v1h-1zM131 0h1v1h-1zM131 6h1v1h-1zM131 15h1v1h-1zM131 23h1v1h-1zM132 11h1v1h-1zM132 13h1v1h-1zM132 20h1v1h-1zM132 23h1v1h-1zM133 13h1v1h-1zM134 16h1v1h-1zM135 3h1v1h-1zM135 8h1v2h-1zM135 14h1v1h-1zM136 18h1v1h-1zM137 9h1v1h-1zM137 18h1v1h-1zM138 1h1v1h-1zM138 16h1v1h-1zM139 22h1v1h-1zM140 3h1v1h-1zM140 5h1v1h-1zM140 8h1v1h-1zM140 18h1v1h-1zM140 21h1v1h-1zM141 3h1v1h-1zM141 18h1v2h-1zM141 22h1v1h-1zM141 24h1v1h-1zM143 15h1v1h-1zM143 19h1v1h-1zM145 2h1v1h-1zM145 4h1v1h-1zM145 15h1v1h-1zM145 18h1v2h-1zM146 3h1v1h-1zM146 5h1v1h-1zM147 12h1v2h-1zM147 20h1v1h-1zM148 2h1v2h-1zM149 6h1v2h-1zM149 19h1v1h-1zM149 22h1v2h-1zM150 8h1v1h-1zM150 14h1v1h-1zM151 3h1v1h-1zM151 7h1v1h-1zM151 11h1v1h-1zM151 15h1v1h-1zM151 17h1v1h-1zM151 20h1v1h-1zM152 14h1v1h-1zM153 6h1v1h-1zM153 9h1v1h-1zM153 13h1v1h-1zM153 15h1v1h-1zM153 23h1v1h-1zM154 9h1v1h-1zM155 2h1v1h-1zM155 12h1v1h-1zM155 14h1v1h-1zM156 12h1v1h-1zM156 17h1v1h-1zM156 21h1v1h-1zM158 3h1v1h-1zM158 7h1v1h-1zM158 11h1v1h-1zM158 21h1v1h-1zM159 4h1v1h-1zM159 7h1v1h-1zM159 11h1v1h-1zM160 0h1v1h-1zM160 16h1v1h-1zM162 3h1v1h-1zM162 15h1v1h-1zM162 22h1v1h-1zM162 24h1v1h-1zM163 13h1v1h-1zM164 6h1v1h-1zM164 17h1v1h-1zM164 22h1v2h-1zM165 12h1v1h-1zM165 20h1v1h-1zM166 8h1v1h-1zM166 22h1v1h-1zM167 17h1v1h-1zM168 2h1v1h-1zM168 14h1v1h-1zM169 12h1v1h-1zM169 22h1v1h-1zM170 15h1v1h-1zM171 1h1v1h-1zM173 1h1v1h-1zM173 7h1v1h-1zM174 1h1v1h-1zM174 14h1v1h-1zM175 0h1v1h-1zM175 19h1v1h-1zM177 14h1v1h-1zM177 21h1v1h-1zM178 0h1v1h-1zM179 7h1v1h-1zM179 12h1v1h-1z"/>
<path fill="#f8c8ba" d="M0 40h1v1h-1zM2 40h1v1h-1zM4 38h1v1h-1zM5 31h1v1h-1zM5 37h1v3h-1zM5 49h1v1h-1zM6 28h1v1h-1zM6 45h1v1h-1zM7 27h1v1h-1zM7 37h1v1h-1zM7 39h1v1h-1zM8 25h1v1h-1zM8 38h1v1h-1zM10 25h1v1h-1zM10 30h1v2h-1zM11 27h1v1h-1zM11 34h1v3h-1zM12 34h1v1h-1zM12 46h1v1h-1zM13 27h1v1h-1zM13 31h1v1h-1zM15 33h1v1h-1zM15 37h1v1h-1zM15 40h1v1h-1zM15 45h1v1h-1zM15 49h1v1h-1zM16 33h1v1h-1zM16 46h1v1h-1zM16 48h1v2h-1zM17 26h1v1h-1zM17 31h1v2h-1zM17 34h1v1h-1zM17 38h1v2h-1zM17 43h1v1h-1zM18 26h1v1h-1zM18 43h1v1h-1zM18 47h1v1h-1zM19 25h1v1h-1zM19 30h1v3h-1zM19 34h1v1h-1zM19 44h1v1h-1zM19 48h1v1h-1zM20 26h1v1h-1zM20 30h1v1h-1zM20 39h1v1h-1zM21 46h1v1h-1zM21 49h1v1h-1zM22 25h1v1h-1zM22 40h1v1h-1zM22 42h1v1h-1zM22 47h1v1h-1zM24 49h1v1h-1zM25 27h1v1h-1zM25 34h1v3h-1zM25 44h1v1h-1zM25 46h1v1h-1zM26 28h1v2h-1zM26 34h1v1h-1zM26 39h1v1h-1zM27 40h1v1h-1zM27 47h1v1h-1zM28 40h1v2h-1zM29 26h1v1h-1zM29 39h1v1h-1zM29 46h1v1h-1zM30 43h1v1h-1zM32 26h1v1h-1zM32 38h1v1h-1zM32 45h1v2h-1zM33 26h1v1h-1zM33 30h1v1h-1zM33 40h1v1h-1zM33 47h1v1h-1zM33 49h1v1h-1zM36 26h1v1h-1zM36 29h1v2h-1zM38 26h1v1h-1zM38 31h1v1h-1zM38 35h1v1h-1zM38 48h1v1h-1zM39 26h1v1h-1zM39 43h1v1h-1zM39 47h1v1h-1zM41 27h1v1h-1zM41 41h1v1h-1zM41 47h1v2h-1zM42 30h1v1h-1zM42 39h1v1h-1zM43 33h1v1h-1zM45 34h1v1h-1zM45 40h1v1h-1zM45 46h1v1h-1zM46 32h1v1h-1zM46 42h1v1h-1zM47 37h1v1h-1zM47 41h1v1h-1zM48 25h1v1h-1zM48 43h1v1h-1zM51 28h1v1h-1zM51 41h1v1h-1zM51 43h1v1h-1zM51 49h1v1h-1zM52 30h1v1h-1zM52 37h1v1h-1zM53 28h1v1h-1zM56 37h1v1h-1zM59 42h1v1h-1zM59 44h1v1h-1zM59 46h1v2h-1zM59 49h1v1h-1zM63 27h1v1h-1zM63 49h1v1h-1zM71 26h1v2h-1zM88 7h1v1h-1zM89 1h1v1h-1zM97 1h1v1h-1zM97 3h1v1h-1zM97 10h1v1h-1zM102 1h1v1h-1zM103 1h1v1h-1zM103 4h1v2h-1zM103 16h1v1h-1zM103 23h1v1h-1zM104 6h1v1h-1zM107 13h1v1h-1zM108 3h1v1h-1zM108 6h1v1h-1zM110 4h1v1h-1zM110 9h1v1h-1zM110 21h1v1h-1zM111 2h1v1h-1zM111 4h1v1h-1zM111 6h1v1h-1zM111 11h1v1h-1zM111 13h1v1h-1zM113 9h1v1h-1zM113 16h1v1h-1zM115 11h1v1h-1zM115 18h1v1h-1zM116 11h1v1h-1zM116 22h1v1h-1zM118 13h1v1h-1zM119 2h1v1h-1zM119 22h1v1h-1zM120 8h1v1h-1zM122 0h1v1h-1zM122 9h1v1h-1zM122 13h1v2h-1zM122 18h1v1h-1zM122 23h1v1h-1zM124 6h1v1h-1zM125 0h1v1h-1zM125 3h1v1h-1zM125 15h1v1h-1zM127 2h1v2h-1zM127 13h1v1h-1zM127 15h1v1h-1zM128 3h1v1h-1zM128 15h1v2h-1zM128 20h1v1h-1zM129 0h1v1h-1zM129 9h1v2h-1zM129 12h1v1h-1zM129 16h1v1h-1zM129 23h1v1h-1zM130 1h1v2h-1zM130 16h1v1h-1zM131 7h1v1h-1zM131 11h1v1h-1zM131 13h1v1h-1zM131 20h1v2h-1zM132 8h1v1h-1zM132 16h1v2h-1zM134 1h1v1h-1zM134 5h1v1h-1zM134 8h1v1h-1zM134 10h1v1h-1zM134 12h1v1h-1zM135 0h1v1h-1zM135 11h1v1h-1zM135 24h1v1h-1zM136 0h1v1h-1zM136 8h1v1h-1zM136 15h1v1h-1zM137 17h1v1h-1zM137 21h1v1h-1zM138 9h1v1h-1zM140 2h1v1h-1zM140 7h1v1h-1zM140 15h1v1h-1zM140 19h1v1h-1zM142 7h1v1h-1zM143 16h1v1h-1zM143 18h1v1h-1zM144 10h1v1h-1zM144 13h1v1h-1zM145 3h1v1h-1zM146 2h1v1h-1zM146 4h1v1h-1zM146 9h1v1h-1zM146 12h1v2h-1zM146 19h1v1h-1zM147 21h1v1h-1zM147 23h1v1h-1zM148 0h1v2h-1zM148 5h1v1h-1zM148 7h1v1h-1zM148 13h1v1h-1zM149 3h1v1h-1zM150 4h1v1h-1zM150 9h1v1h-1zM150 15h1v2h-1zM151 8h1v1h-1zM151 10h1v1h-1zM151 16h1v1h-1zM151 18h1v2h-1zM151 22h1v1h-1zM152 22h1v1h-1zM153 3h1v1h-1zM153 7h1v1h-1zM153 18h1v1h-1zM153 21h1v1h-1zM154 5h1v1h-1zM154 8h1v1h-1zM154 20h1v1h-1zM155 5h1v1h-1zM155 7h1v1h-1zM155 11h1v1h-1zM155 17h1v1h-1zM156 0h1v1h-1zM158 5h1v2h-1zM158 8h1v1h-1zM158 14h1v1h-1zM159 12h1v1h-1zM159 22h1v1h-1zM160 11h1v1h-1zM161 10h1v1h-1zM161 12h1v1h-1zM162 0h1v1h-1zM162 5h1v1h-1zM162 19h1v1h-1zM163 24h1v1h-1zM164 1h1v1h-1zM164 7h1v1h-1zM164 18h1v1h-1zM167 4h1v1h-1zM167 8h1v1h-1zM167 11h1v1h-1zM168 0h1v1h-1zM168 12h1v1h-1zM168 16h1v1h-1zM169 7h1v1h-1zM169 23h1v1h-1zM170 9h1v1h-1zM170 22h1v1h-1zM170 24h1v1h-1zM171 2h1v1h-1zM171 5h1v1h-1zM171 13h1v1h-1zM171 18h1v1h-1zM172 1h1v1h-1zM172 5h1v1h-1zM173 2h1v1h-1zM173 5h1v1h-1zM173 18h1v1h-1zM173 20h1v1h-1zM173 24h1v1h-1zM174 11h1v2h-1zM174 15h1v1h-1zM175 4h1v1h-1zM175 15h1v1h-1zM175 23h1v1h-1zM176 24h1v1h-1zM177 20h1v1h-1zM178 6h1v1h-1zM178 22h1v1h-1zM178 24h1v1h-1zM179 0h1v1h-1zM179 5h1v1h-1zM179 21h1v1h-1z"/>
<path fill="#f6bfb0" d="M0 27h1v1h-1zM0 30h1v1h-1zM0 32h1v1h-1zM1 32h1v4h-1zM1 41h1v1h-1zM2 32h1v1h-1zM2 46h1v2h-1zM4 31h1v1h-1zM4 33h1v1h-1zM4 35h1v1h-1zM4 46h1v1h-1zM5 27h1v1h-1zM5 30h1v1h-1zM5 35h1v1h-1zM6 38h1v1h-1zM6 41h1v1h-1zM6 44h1v1h-1zM7 28h1v1h-1zM7 30h1v1h-1zM7 36h1v1h-1zM7 42h1v1h-1zM9 26h1v2h-1zM9 40h1v1h-1zM9 46h1v1h-1zM10 40h1v1h-1zM10 42h1v1h-1zM11 30h1v1h-1zM11 32h1v2h-1zM11 41h1v1h-1zM12 29h1v1h-1zM12 47h1v1h-1zM13 33h1v1h-1zM13 37h1v1h-1zM13 43h1v1h-1zM14 32h1v1h-1zM14 41h1v1h-1zM14 44h1v1h-1zM14 46h1v1h-1zM15 26h1v1h-1zM15 43h1v1h-1zM16 27h1v1h-1zM16 34h1v1h-1zM17 46h1v1h-1zM18 25h1v1h-1zM18 28h1v1h-1zM18 31h1v1h-1zM18 33h1v1h-1zM18 41h1v1h-1zM18 44h1v3h-1zM19 41h1v1h-1zM19 47h1v1h-1zM20 34h1v1h-1zM20 37h1v1h-1zM20 48h1v1h-1zM21 40h1v1h-1zM22 38h1v1h-1zM22 44h1v1h-1zM22 49h1v1h-1zM23 30h1v1h-1zM24 37h1v1h-1zM25 40h1v1h-1zM25 48h1v1h-1zM26 27h1v1h-1zM26 33h1v1h-1zM26 42h1v2h-1zM27 38h1v1h-1zM27 41h1v1h-1zM28 49h1v1h-1zM29 40h1v1h-1zM30 26h1v1h-1zM30 30h1v1h-1zM30 34h1v1h-1zM30 39h1v1h-1zM31 32h1v1h-1zM31 35h1v1h-1zM31 48h1v2h-1zM32 31h1v1h-1zM32 49h1v1h-1zM33 25h1v1h-1zM33 32h1v1h-1zM33 41h1v2h-1zM34 27h1v1h-1zM36 25h1v1h-1zM36 32h1v1h-1zM36 39h1v1h-1zM38 32h1v1h-1zM38 47h1v1h-1zM39 37h1v1h-1zM40 36h1v1h-1zM40 40h1v1h-1zM40 43h1v1h-1zM42 25h1v1h-1zM42 29h1v1h-1zM42 33h1v1h-1zM42 44h1v1h-1zM43 26h1v1h-1zM46 29h1v1h-1zM48 30h1v1h-1zM48 42h1v1h-1zM51 29h1v1h-1zM53 27h1v1h-1zM54 40h1v1h-1zM55 49h1v1h-1zM56 30h1v1h-1zM90 11h1v1h-1zM90 15h1v1h-1zM97 6h1v1h-1zM97 15h1v1h-1zM97 20h1v1h-1zM102 9h1v2h-1zM102 18h1v1h-1zM103 0h1v1h-1zM103 9h1v1h-1zM103 13h1v1h-1zM103 15h1v1h-1zM103 18h1v2h-1zM103 21h1v2h-1zM106 21h1v1h-1zM107 3h1v1h-1zM108 1h1v1h-1zM108 10h1v1h-1zM108 16h1v1h-1zM110 6h1v2h-1zM111 0h1v1h-1zM111 7h1v1h-1zM111 14h1v1h-1zM111 20h1v1h-1zM113 11h1v1h-1zM118 15h1v1h-1zM119 4h1v1h-1zM119 13h1v1h-1zM121 0h1v1h-1zM121 13h1v2h-1zM122 4h1v1h-1zM122 16h1v1h-1zM122 19h1v1h-1zM124 3h1v1h-1zM124 21h1v1h-1zM127 12h1v1h-1zM128 0h1v1h-1zM128 22h1v1h-1zM129 3h1v1h-1zM129 5h1v1h-1zM129 15h1v1h-1zM129 19h1v1h-1zM129 22h1v1h-1zM129 24h1v1h-1zM130 5h1v1h-1zM131 19h1v1h-1zM132 0h1v1h-1zM132 12h1v1h-1zM134 14h1v1h-1zM134 18h1v1h-1zM135 2h1v1h-1zM135 15h1v2h-1zM136 5h1v1h-1zM136 11h1v1h-1zM136 20h1v1h-1zM136 24h1v1h-1zM137 5h1v1h-1zM137 16h1v1h-1zM138 19h1v1h-1zM140 1h1v1h-1zM140 4h1v1h-1zM141 1h1v1h-1zM142 2h1v1h-1zM143 17h1v1h-1zM144 20h1v1h-1zM145 5h1v1h-1zM146 8h1v1h-1zM146 10h1v1h-1zM146 17h1v2h-1zM147 19h1v1h-1zM148 4h1v1h-1zM149 4h1v1h-1zM149 10h1v1h-1zM149 12h1v1h-1zM149 17h1v1h-1zM151 4h1v1h-1zM151 21h1v1h-1zM152 9h1v1h-1zM152 15h1v1h-1zM153 2h1v1h-1zM153 5h1v1h-1zM153 10h1v1h-1zM154 7h1v1h-1zM154 11h1v1h-1zM154 15h1v1h-1zM154 19h1v1h-1zM155 1h1v1h-1zM155 21h1v1h-1zM156 3h1v1h-1zM156 16h1v1h-1zM158 10h1v1h-1zM158 15h1v1h-1zM158 19h1v1h-1zM159 21h1v1h-1zM160 2h1v1h-1zM160 7h1v1h-1zM160 15h1v1h-1zM161 4h1v2h-1zM161 17h1v1h-1zM161 20h1v1h-1zM162 1h1v1h-1zM164 8h1v1h-1zM164 10h1v2h-1zM164 21h1v1h-1zM165 0h1v1h-1zM165 7h1v1h-1zM165 13h1v1h-1zM165 18h1v1h-1zM166 5h1v1h-1zM166 9h1v1h-1zM168 1h1v1h-1zM168 4h1v1h-1zM168 10h1v1h-1zM168 22h1v1h-1zM169 21h1v1h-1zM170 8h1v1h-1zM170 16h1v1h-1zM171 6h1v1h-1zM171 10h1v1h-1zM171 12h1v1h-1zM171 15h1v1h-1zM172 6h1v1h-1zM172 8h1v1h-1zM172 14h1v2h-1zM172 18h1v1h-1zM172 21h1v2h-1zM173 16h1v2h-1zM173 23h1v1h-1zM174 6h1v1h-1zM174 10h1v1h-1zM174 13h1v1h-1zM175 5h1v1h-1zM177 4h1v1h-1zM178 1h1v1h-1zM178 8h1v1h-1zM178 11h1v1h-1zM178 17h1v1h-1zM179 4h1v1h-1z"/>
<path fill="#f5b6a6" d="M0 34h1v1h-1zM1 30h1v1h-1zM1 36h1v1h-1zM1 40h1v1h-1zM1 42h1v1h-1zM2 26h1v1h-1zM2 29h1v1h-1zM2 34h1v1h-1zM2 36h1v1h-1zM3 40h1v1h-1zM3 45h1v1h-1zM4 25h1v1h-1zM4 42h1v1h-1zM6 31h1v2h-1zM7 40h1v2h-1zM8 28h1v1h-1zM8 42h1v2h-1zM9 28h1v1h-1zM9 42h1v1h-1zM9 44h1v1h-1zM9 47h1v1h-1zM10 41h1v1h-1zM11 40h1v1h-1zM12 30h1v1h-1zM12 45h1v1h-1zM13 35h1v1h-1zM14 33h1v1h-1zM16 43h1v1h-1zM17 25h1v1h-1zM18 38h1v1h-1zM19 28h1v2h-1zM19 37h1v1h-1zM19 39h1v1h-1zM20 35h1v1h-1zM20 47h1v1h-1zM20 49h1v1h-1zM21 30h1v1h-1zM21 41h1v1h-1zM22 28h1v1h-1zM23 43h1v1h-1zM25 39h1v1h-1zM27 42h1v1h-1zM28 43h1v1h-1zM29 37h1v2h-1zM29 49h1v1h-1zM30 29h1v1h-1zM30 35h1v2h-1zM30 41h1v1h-1zM31 30h1v1h-1zM31 36h1v1h-1zM31 40h1v1h-1zM32 33h1v1h-1zM32 40h1v1h-1zM33 31h1v1h-1zM36 27h1v1h-1zM36 43h1v1h-1zM36 47h1v1h-1zM38 30h1v1h-1zM39 39h1v1h-1zM41 26h1v1h-1zM42 48h1v1h-1zM45 38h1v2h-1zM50 30h1v1h-1zM51 46h1v1h-1zM56 35h1v1h-1zM59 29h1v1h-1zM97 7h1v1h-1zM102 15h1v1h-1zM103 20h1v1h-1zM110 3h1v1h-1zM111 22h1v1h-1zM113 3h1v1h-1zM113 22h1v1h-1zM118 9h1v1h-1zM118 18h1v1h-1zM118 23h1v1h-1zM121 1h1v1h-1zM121 4h1v1h-1zM121 7h1v1h-1zM121 24h1v1h-1zM122 1h1v1h-1zM122 5h1v2h-1zM122 20h1v1h-1zM125 9h1v1h-1zM125 18h1v1h-1zM128 12h1v1h-1zM131 1h1v2h-1zM131 10h1v1h-1zM131 12h1v1h-1zM133 16h1v1h-1zM134 2h1v1h-1zM134 4h1v1h-1zM134 13h1v1h-1zM134 19h1v2h-1zM134 22h1v1h-1zM135 4h1v1h-1zM135 6h1v1h-1zM135 10h1v1h-1zM135 12h1v1h-1zM135 17h1v1h-1zM135 19h1v1h-1zM135 23h1v1h-1zM137 3h1v1h-1zM137 15h1v1h-1zM138 12h1v1h-1zM140 12h1v1h-1zM142 19h1v1h-1zM144 12h1v1h-1zM144 19h1v1h-1zM146 20h1v1h-1zM146 22h1v1h-1zM147 2h1v1h-1zM150 0h1v1h-1zM150 7h1v1h-1zM150 11h1v2h-1zM151 23h1v1h-1zM152 3h1v1h-1zM152 12h1v1h-1zM153 12h1v1h-1zM154 6h1v1h-1zM154 21h1v1h-1zM154 23h1v1h-1zM155 9h1v1h-1zM155 16h1v1h-1zM156 10h1v2h-1zM158 9h1v1h-1zM158 12h1v2h-1zM159 13h1v1h-1zM160 17h1v1h-1zM161 3h1v1h-1zM161 7h1v1h-1zM161 16h1v1h-1zM162 6h1v1h-1zM162 11h1v1h-1zM162 14h1v1h-1zM162 17h1v1h-1zM164 9h1v1h-1zM165 11h1v1h-1zM166 2h1v1h-1zM166 7h1v1h-1zM166 15h1v1h-1zM166 17h1v1h-1zM167 1h1v1h-1zM168 15h1v1h-1zM169 8h1v1h-1zM169 17h1v1h-1zM171 8h1v1h-1zM171 14h1v1h-1zM171 16h1v1h-1zM172 0h1v1h-1zM172 11h1v1h-1zM172 24h1v1h-1zM173 0h1v1h-1zM173 6h1v1h-1zM174 5h1v1h-1zM174 8h1v1h-1zM175 9h1v2h-1zM176 4h1v1h-1zM176 19h1v1h-1zM177 6h1v1h-1zM177 12h1v1h-1zM177 15h1v1h-1zM178 2h1v1h-1zM178 4h1v1h-1zM178 12h1v2h-1zM178 19h1v1h-1z"/>
<path fill="#f4ad9c" d="M0 28h1v1h-1zM1 26h1v2h-1zM1 46h1v1h-1zM1 48h1v1h-1zM2 38h1v1h-1zM3 35h1v1h-1zM3 37h1v1h-1zM3 44h1v1h-1zM4 26h1v2h-1zM4 47h1v1h-1zM5 32h1v1h-1zM6 26h1v1h-1zM6 40h1v1h-1zM7 26h1v1h-1zM7 34h1v1h-1zM7 45h1v1h-1zM7 48h1v1h-1zM8 30h1v1h-1zM8 36h1v1h-1zM8 40h1v1h-1zM8 44h1v1h-1zM8 46h1v1h-1zM12 39h1v1h-1zM13 25h1v1h-1zM14 26h1v1h-1zM14 29h1v1h-1zM14 49h1v1h-1zM17 33h1v1h-1zM17 36h1v1h-1zM17 40h1v1h-1zM17 47h1v1h-1zM18 30h1v1h-1zM18 35h1v1h-1zM18 37h1v1h-1zM20 29h1v1h-1zM20 36h1v1h-1zM22 26h1v1h-1zM22 36h1v1h-1zM22 43h1v1h-1zM22 45h1v1h-1zM25 30h1v2h-1zM25 33h1v1h-1zM25 49h1v1h-1zM26 25h1v1h-1zM26 38h1v1h-1zM26 41h1v1h-1zM26 48h1v2h-1zM27 26h1v1h-1zM27 34h1v2h-1zM28 30h1v1h-1zM28 47h1v1h-1zM29 31h1v1h-1zM30 44h1v1h-1zM32 37h1v1h-1zM36 41h1v2h-1zM38 38h1v1h-1zM38 42h1v1h-1zM41 37h1v1h-1zM45 30h1v1h-1zM46 25h1v1h-1zM46 30h1v1h-1zM46 37h1v1h-1zM46 45h1v1h-1zM97 12h1v1h-1zM107 5h1v1h-1zM110 22h1v1h-1zM113 0h1v1h-1zM115 10h1v1h-1zM118 6h1v1h-1zM118 22h1v1h-1zM121 19h1v1h-1zM125 16h1v1h-1zM128 1h1v1h-1zM129 18h1v1h-1zM133 5h1v1h-1zM134 3h1v1h-1zM135 13h1v1h-1zM137 7h1v1h-1zM138 18h1v1h-1zM141 2h1v1h-1zM143 13h1v1h-1zM144 21h1v1h-1zM150 5h1v1h-1zM151 2h1v1h-1zM151 14h1v1h-1zM155 13h1v1h-1zM155 18h1v1h-1zM156 20h1v1h-1zM158 18h1v1h-1zM158 22h1v1h-1zM161 0h1v1h-1zM161 2h1v1h-1zM161 6h1v1h-1zM161 24h1v1h-1zM162 2h1v1h-1zM162 7h1v1h-1zM162 9h1v1h-1zM162 13h1v1h-1zM162 16h1v1h-1zM162 23h1v1h-1zM164 16h1v1h-1zM165 6h1v1h-1zM165 9h1v1h-1zM165 16h1v1h-1zM165 21h1v1h-1zM166 4h1v1h-1zM166 14h1v1h-1zM166 19h1v2h-1zM167 15h1v1h-1zM168 21h1v1h-1zM169 1h1v1h-1zM169 13h1v1h-1zM169 15h1v1h-1zM170 2h1v1h-1zM171 4h1v1h-1zM171 7h1v1h-1zM171 19h1v2h-1zM171 23h1v1h-1zM172 17h1v1h-1zM173 10h1v2h-1zM174 9h1v1h-1zM175 12h1v1h-1zM175 16h1v1h-1zM175 22h1v1h-1zM175 24h1v1h-1zM176 12h1v1h-1zM176 18h1v1h-1zM177 9h1v1h-1zM177 16h1v1h-1zM177 18h1v2h-1zM178 5h1v1h-1zM178 7h1v1h-1zM178 23h1v1h-1z"/>
<path fill="#f2a492" d="M0 43h1v1h-1zM1 39h1v1h-1zM2 48h1v2h-1zM3 42h1v1h-1zM3 48h1v1h-1zM4 39h1v1h-1zM6 34h1v1h-1zM6 37h1v1h-1zM6 39h1v1h-1zM6 42h1v1h-1zM6 46h1v1h-1zM6 48h1v1h-1zM7 44h1v1h-1zM8 27h1v1h-1zM8 39h1v1h-1zM11 37h1v2h-1zM11 43h1v1h-1zM12 28h1v1h-1zM12 40h1v1h-1zM14 31h1v1h-1zM14 48h1v1h-1zM15 42h1v1h-1zM18 40h1v1h-1zM20 42h1v1h-1zM22 33h1v1h-1zM26 31h1v1h-1zM26 35h1v1h-1zM26 37h1v1h-1zM26 47h1v1h-1zM27 31h1v1h-1zM27 45h1v1h-1zM27 48h1v2h-1zM38 40h1v1h-1zM39 42h1v1h-1zM41 35h1v1h-1zM45 37h1v1h-1zM46 38h1v1h-1zM48 29h1v1h-1zM97 18h1v1h-1zM97 21h1v1h-1zM107 4h1v1h-1zM108 9h1v1h-1zM110 18h1v2h-1zM113 20h1v1h-1zM115 1h1v1h-1zM122 3h1v1h-1zM122 10h1v1h-1zM122 17h1v1h-1zM128 21h1v1h-1zM131 4h1v1h-1zM131 8h1v1h-1zM131 18h1v1h-1zM134 6h1v2h-1zM134 9h1v1h-1zM134 24h1v1h-1zM135 1h1v1h-1zM137 8h1v1h-1zM137 24h1v1h-1zM138 24h1v1h-1zM144 2h1v1h-1zM144 5h1v1h-1zM147 5h1v1h-1zM147 16h1v1h-1zM149 9h1v1h-1zM149 16h1v1h-1zM149 18h1v1h-1zM150 3h1v1h-1zM150 17h1v1h-1zM153 14h1v1h-1zM154 0h1v1h-1zM154 10h1v1h-1zM154 17h1v1h-1zM155 3h1v1h-1zM155 10h1v1h-1zM156 18h1v1h-1zM158 4h1v1h-1zM158 16h1v1h-1zM164 3h1v3h-1zM165 1h1v1h-1zM166 0h1v1h-1zM167 0h1v1h-1zM167 16h1v1h-1zM167 24h1v1h-1zM168 8h1v1h-1zM169 3h1v1h-1zM169 6h1v1h-1zM169 9h1v1h-1zM169 11h1v1h-1zM169 16h1v1h-1zM169 19h1v1h-1zM170 20h1v1h-1zM171 9h1v1h-1zM171 24h1v1h-1zM172 23h1v1h-1zM173 15h1v1h-1zM174 18h1v1h-1zM175 17h1v1h-1zM176 8h1v1h-1zM176 14h1v1h-1zM177 0h1v1h-1z"/>
<path fill="#f09b88" d="M0 47h1v2h-1zM2 33h1v1h-1zM3 26h1v2h-1zM3 32h1v1h-1zM3 46h1v1h-1zM4 32h1v1h-1zM8 34h1v2h-1zM8 49h1v1h-1zM12 25h1v1h-1zM12 49h1v1h-1zM14 28h1v1h-1zM14 40h1v1h-1zM14 47h1v1h-1zM17 41h1v1h-1zM19 38h1v1h-1zM20 40h1v1h-1zM20 44h1v1h-1zM22 48h1v1h-1zM26 32h1v1h-1zM28 33h1v1h-1zM38 49h1v1h-1zM41 30h1v1h-1zM46 40h1v1h-1zM125 21h1v1h-1zM128 5h1v1h-1zM128 13h1v1h-1zM134 0h1v1h-1zM134 21h1v1h-1zM135 7h1v1h-1zM135 20h1v1h-1zM144 7h1v1h-1zM146 0h1v2h-1zM147 3h1v1h-1zM154 3h1v1h-1zM154 12h1v2h-1zM156 1h1v1h-1zM156 19h1v1h-1zM158 20h1v1h-1zM161 14h1v1h-1zM162 8h1v1h-1zM165 2h1v2h-1zM165 24h1v1h-1zM167 5h1v2h-1zM167 13h1v1h-1zM167 22h1v1h-1zM168 6h1v1h-1zM169 4h1v1h-1zM170 14h1v1h-1zM170 17h1v1h-1zM170 23h1v1h-1zM172 12h1v1h-1zM173 4h1v1h-1zM173 14h1v1h-1zM175 13h1v1h-1zM176 1h1v1h-1zM176 10h1v1h-1zM176 16h1v1h-1zM177 17h1v1h-1z"/>
<path fill="#ef927e" d="M0 38h1v1h-1zM1 29h1v1h-1zM2 25h1v1h-1zM2 35h1v1h-1zM2 42h1v1h-1zM3 36h1v1h-1zM4 28h1v1h-1zM4 48h1v1h-1zM6 25h1v1h-1zM6 35h1v2h-1zM8 29h1v1h-1zM8 48h1v1h-1zM14 39h1v1h-1zM20 38h1v1h-1zM22 34h1v1h-1zM27 25h1v1h-1zM27 33h1v1h-1zM27 39h1v1h-1zM27 43h1v1h-1zM27 46h1v1h-1zM28 27h1v1h-1zM36 49h1v1h-1zM111 1h1v1h-1zM111 8h1v1h-1zM121 2h1v1h-1zM134 15h1v1h-1zM135 18h1v1h-1zM135 21h1v1h-1zM149 13h1v1h-1zM154 1h1v1h-1zM154 4h1v1h-1zM161 11h1v1h-1zM161 18h1v1h-1zM161 21h1v2h-1zM162 10h1v1h-1zM162 18h1v1h-1zM164 19h1v1h-1zM166 16h1v1h-1zM167 3h1v1h-1zM167 12h1v1h-1zM167 19h1v2h-1zM168 18h1v1h-1zM169 0h1v1h-1zM169 5h1v1h-1zM169 10h1v1h-1zM170 6h1v1h-1zM171 21h1v1h-1zM173 12h1v2h-1zM175 7h1v1h-1zM176 3h1v1h-1zM176 5h1v2h-1zM176 9h1v1h-1zM176 11h1v1h-1zM177 2h1v1h-1zM178 18h1v1h-1zM179 13h1v1h-1z"/>
<path fill="#ee8974" d="M1 47h1v1h-1zM1 49h1v1h-1zM3 41h1v1h-1zM3 49h1v1h-1zM4 36h1v1h-1zM6 30h1v1h-1zM6 43h1v1h-1zM6 49h1v1h-1zM8 26h1v1h-1zM8 37h1v1h-1zM11 39h1v1h-1zM12 27h1v1h-1zM12 33h1v1h-1zM12 41h1v1h-1zM14 36h1v1h-1zM14 42h1v1h-1zM20 27h1v1h-1zM27 28h1v1h-1zM52 49h1v1h-1zM141 11h1v1h-1zM154 16h1v1h-1zM161 1h1v1h-1zM162 20h1v2h-1zM164 15h1v1h-1zM165 8h1v1h-1zM167 10h1v1h-1zM168 9h1v1h-1zM168 24h1v1h-1zM175 2h1v1h-1zM175 11h1v1h-1zM177 22h1v1h-1zM178 15h1v1h-1z"/>
<path fill="#ec806a" d="M2 37h1v1h-1zM3 34h1v1h-1zM3 38h1v1h-1zM4 37h1v1h-1zM7 38h1v1h-1zM12 43h1v1h-1zM27 30h1v1h-1zM28 46h1v1h-1zM29 48h1v1h-1zM134 23h1v1h-1zM135 22h1v1h-1zM154 14h1v1h-1zM158 2h1v1h-1zM161 9h1v1h-1zM161 19h1v1h-1zM168 17h1v1h-1zM170 19h1v1h-1zM171 0h1v1h-1zM171 17h1v1h-1zM173 21h1v1h-1zM176 7h1v1h-1zM176 23h1v1h-1zM177 8h1v1h-1zM178 21h1v1h-1z"/>
<path fill="#e97662" d="M0 26h1v1h-1zM3 47h1v1h-1zM6 27h1v1h-1zM12 42h1v1h-1zM129 1h1v1h-1zM150 1h1v1h-1zM167 23h1v1h-1zM170 0h1v1h-1zM172 4h1v1h-1zM172 7h1v1h-1zM172 13h1v1h-1zM177 11h1v1h-1zM178 10h1v1h-1z"/>
<path fill="#e76c5b" d="M1 25h1v1h-1zM1 45h1v1h-1zM3 29h1v1h-1zM7 25h1v1h-1zM11 47h1v1h-1zM12 26h1v1h-1zM12 36h1v1h-1zM12 44h1v1h-1zM14 27h1v1h-1zM14 38h1v1h-1zM27 27h1v1h-1zM27 29h1v1h-1zM169 20h1v1h-1zM173 8h1v1h-1zM173 19h1v1h-1zM176 20h1v1h-1zM176 22h1v1h-1z"/>
<path fill="#e46153" d="M1 28h1v1h-1zM1 37h1v1h-1zM3 25h1v1h-1zM4 49h1v1h-1zM6 33h1v1h-1zM7 43h1v1h-1zM8 31h1v1h-1zM8 33h1v1h-1zM20 45h1v1h-1zM27 44h1v1h-1zM165 14h1v1h-1zM172 10h1v1h-1zM173 9h1v1h-1zM176 0h1v1h-1zM176 15h1v1h-1zM177 7h1v1h-1zM177 24h1v1h-1z"/>
<path fill="#e1574b" d="M3 33h1v1h-1zM176 17h1v1h-1zM176 21h1v1h-1zM177 10h1v1h-1zM177 13h1v1h-1z"/>
<path fill="#de4d43" d="M3 39h1v1h-1zM11 48h1v1h-1zM12 37h1v1h-1zM161 15h1v1h-1zM173 22h1v1h-1z"/>
<path fill="#dc433c" d="M161 23h1v1h-1zM168 7h1v1h-1zM172 3h1v1h-1z"/>
<path fill="#d93834" d="M167 7h1v1h-1zM167 14h1v1h-1zM167 18h1v1h-1z"/>
<path fill="#d42626" d="M1 43h1v1h-1zM8 32h1v1h-1zM177 1h1v1h-1zM176 13h1v1h-1zM167 2h1v1h-1zM12 38h1v1h-1zM167 21h1v1h-1z"/>
</g>
<text x="253" y="45.94" font-size="6.2" fill="#111">KIT</text>
<text x="253" y="52.22" font-size="6.2" fill="#111">DEPTOR</text>
<text x="253" y="58.5" font-size="6.2" fill="#111">PPFIBP1</text>
<text x="253" y="64.78" font-size="6.2" fill="#111">TTC28</text>
<text x="253" y="71.06" font-size="6.2" fill="#111">SLC10A5</text>
<text x="253" y="77.34" font-size="6.2" fill="#111">MEX3B</text>
<text x="253" y="83.62" font-size="6.2" fill="#111">DYTN</text>
<text x="253" y="89.9" font-size="6.2" fill="#111">MSI2</text>
<text x="253" y="96.18" font-size="6.2" fill="#111">ZBTB8A</text>
<text x="253" y="102.46" font-size="6.2" fill="#111">GUCY1A1</text>
<text x="253" y="108.74" font-size="6.2" fill="#111">ZNF496</text>
<text x="253" y="115.02" font-size="6.2" fill="#111">RTKN</text>
<text x="253" y="121.3" font-size="6.2" fill="#111">MPL</text>
<text x="253" y="127.58" font-size="6.2" fill="#111">ADCY6</text>
<text x="253" y="133.86" font-size="6.2" fill="#111">OBSL1</text>
<text x="253" y="140.14" font-size="6.2" fill="#111">GPSM1</text>
<text x="253" y="146.42" font-size="6.2" fill="#111">DIPK1B</text>
<text x="253" y="152.7" font-size="6.2" fill="#111">SHANK3</text>
<text x="253" y="158.98" font-size="6.2" fill="#111">NYNRIN</text>
<text x="253" y="165.26" font-size="6.2" fill="#111">PTK7</text>
<text x="253" y="171.54" font-size="6.2" fill="#111">CPXM1</text>
<text x="253" y="177.82" font-size="6.2" fill="#111">SH3PXD2A</text>
<text x="253" y="184.1" font-size="6.2" fill="#111">GATA2</text>
<text x="253" y="190.38" font-size="6.2" fill="#111">ATP1B1</text>
<text x="253" y="196.66" font-size="6.2" fill="#111">STON2</text>
<text x="253" y="202.94" font-size="6.2" fill="#111">RBP7</text>
<text x="253" y="209.22" font-size="6.2" fill="#111">NRG1</text>
<text x="253" y="215.5" font-size="6.2" fill="#111">TADA2B</text>
<text x="253" y="221.78" font-size="6.2" fill="#111">ECE1</text>
<text x="253" y="228.06" font-size="6.2" fill="#111">SLC44A2</text>
<text x="253" y="234.34" font-size="6.2" fill="#111">REEP5</text>
<text x="253" y="240.62" font-size="6.2" fill="#111">GLRX</text>
<text x="253" y="246.9" font-size="6.2" fill="#111">S100A6</text>
<text x="253" y="253.18" font-size="6.2" fill="#111">LASP1</text>
<text x="253" y="259.46" font-size="6.2" fill="#111">RETN</text>
<text x="253" y="265.74" font-size="6.2" fill="#111">ZDHHC3</text>
<text x="253" y="272.02" font-size="6.2" fill="#111">CDKN2D</text>
<text x="253" y="278.3" font-size="6.2" fill="#111">S100A12</text>
<text x="253" y="284.58" font-size="6.2" fill="#111">CYSTM1</text>
<text x="253" y="290.86" font-size="6.2" fill="#111">LCN2</text>
<text x="253" y="297.14" font-size="6.2" fill="#111">DNAH10</text>
<text x="253" y="303.42" font-size="6.2" fill="#111">PTGES</text>
<text x="253" y="309.7" font-size="6.2" fill="#111">PLBD1</text>
<text x="253" y="315.98" font-size="6.2" fill="#111">TMEM38A</text>
<text x="253" y="322.26" font-size="6.2" fill="#111">OR6N1</text>
<text x="253" y="328.54" font-size="6.2" fill="#111">DEGS1</text>
<text x="253" y="334.82" font-size="6.2" fill="#111">MVK</text>
<text x="253" y="341.1" font-size="6.2" fill="#111">EMC8</text>
<text x="253" y="347.38" font-size="6.2" fill="#111">MNX1</text>
<text x="253" y="353.66" font-size="6.2" fill="#111">SFRP1</text>
<defs><linearGradient id="cb" x1="0" y1="1" x2="0" y2="0">
<stop offset="0" stop-color="#285ea8"/>
<stop offset="0.05" stop-color="#356db5"/>
<stop offset="0.1" stop-color="#437cc3"/>
<stop offset="0.15" stop-color="#508bd0"/>
<stop offset="0.2" stop-color="#5f9add"/>
<stop offset="0.25" stop-color="#77abe3"/>
<stop offset="0.3" stop-color="#8ebbea"/>
<stop offset="0.35" stop-color="#a5ccf1"/>
<stop offset="0.4" stop-color="#c0dcf5"/>
<stop offset="0.45" stop-color="#ddebf9"/>
<stop offset="0.5" stop-color="#fafafc"/>
<stop offset="0.55" stop-color="#f9e7e3"/>
<stop offset="0.6" stop-color="#f8d4ca"/>
<stop offset="0.65" stop-color="#f7c0b2"/>
<stop offset="0.7" stop-color="#f3ac9b"/>
<stop offset="0.75" stop-color="#f09784"/>
<stop offset="0.8" stop-color="#ec836d"/>
<stop offset="0.85" stop-color="#e76c5b"/>
<stop offset="0.9" stop-color="#e05549"/>
<stop offset="0.95" stop-color="#da3d38"/>
<stop offset="1" stop-color="#d42626"/>
</linearGradient></defs>
<rect x="284.3" y="33.9" width="6.2" height="81.3" fill="url(#cb)"/>
<text x="292.8" y="48.3" font-size="6" fill="#222">4</text>
<text x="292.8" y="62.3" font-size="6" fill="#222">2</text>
<text x="292.8" y="76" font-size="6" fill="#222">0</text>
<text x="292.8" y="91" font-size="6" fill="#222">−2</text>
<text x="292.8" y="105.5" font-size="6" fill="#222">−4</text>
<path d="M26.3 44.34L37 44.34M26.3 50.62L37 50.62M26.3 44.34L26.3 50.62M24 56.9L37 56.9M24 63.18L37 63.18M24 56.9L24 63.18M23.4 47.48L26.3 47.48M23.4 60.04L24 60.04M23.4 47.48L23.4 60.04M23.7 75.74L37 75.74M23.7 82.02L37 82.02M23.7 75.74L23.7 82.02M25.4 94.58L37 94.58M25.4 100.86L37 100.86M25.4 94.58L25.4 100.86M24.5 88.3L37 88.3M24.5 97.72L25.4 97.72M24.5 88.3L24.5 97.72M22.3 78.88L23.7 78.88M22.3 93.01L24.5 93.01M22.3 78.88L22.3 93.01M21.4 69.46L37 69.46M21.4 85.95L22.3 85.95M21.4 69.46L21.4 85.95M20 53.76L23.4 53.76M20 77.7L21.4 77.7M20 53.76L20 77.7M24 107.14L37 107.14M24 113.42L37 113.42M24 107.14L24 113.42M26.8 119.7L37 119.7M26.8 125.98L37 125.98M26.8 119.7L26.8 125.98M28.6 144.82L37 144.82M28.6 151.1L37 151.1M28.6 144.82L28.6 151.1M26.8 138.54L37 138.54M26.8 147.96L28.6 147.96M26.8 138.54L26.8 147.96M22.3 132.26L37 132.26M22.3 143.25L26.8 143.25M22.3 132.26L22.3 143.25M28.6 163.66L37 163.66M28.6 169.94L37 169.94M28.6 163.66L28.6 169.94M26.3 157.38L37 157.38M26.3 166.8L28.6 166.8M26.3 157.38L26.3 166.8M21.5 137.75L22.3 137.75M21.5 162.09L26.3 162.09M21.5 137.75L21.5 162.09M21 122.84L26.8 122.84M21 149.92L21.5 149.92M21 122.84L21 149.92M20.4 110.28L24 110.28M20.4 136.38L21 136.38M20.4 110.28L20.4 136.38M24.1 188.78L37 188.78M24.1 195.06L37 195.06M24.1 188.78L24.1 195.06M21.9 182.5L37 182.5M21.9 191.92L24.1 191.92M21.9 182.5L21.9 191.92M20.1 176.22L37 176.22M20.1 187.21L21.9 187.21M20.1 176.22L20.1 187.21M18.7 123.33L20.4 123.33M18.7 181.72L20.1 181.72M18.7 123.33L18.7 181.72M18.3 65.73L20 65.73M18.3 152.52L18.7 152.52M18.3 65.73L18.3 152.52M20.8 201.34L37 201.34M20.8 207.62L37 207.62M20.8 201.34L20.8 207.62M24.1 220.18L37 220.18M24.1 226.46L37 226.46M24.1 220.18L24.1 226.46M22.8 213.9L37 213.9M22.8 223.32L24.1 223.32M22.8 213.9L22.8 223.32M21.4 232.74L37 232.74M21.4 239.02L37 239.02M21.4 232.74L21.4 239.02M24.5 245.3L37 245.3M24.5 251.58L37 251.58M24.5 245.3L24.5 251.58M20.5 235.88L21.4 235.88M20.5 248.44L24.5 248.44M20.5 235.88L20.5 248.44M19 218.61L22.8 218.61M19 242.16L20.5 242.16M19 218.61L19 242.16M23.7 264.14L37 264.14M23.7 270.42L37 270.42M23.7 264.14L23.7 270.42M27.7 276.7L37 276.7M27.7 282.98L37 282.98M27.7 276.7L27.7 282.98M24.1 267.28L23.7 267.28M24.1 279.84L27.7 279.84M24.1 267.28L24.1 279.84M21 257.86L37 257.86M21 273.56L24.1 273.56M21 257.86L21 273.56M24.5 289.26L37 289.26M24.5 295.54L37 295.54M24.5 289.26L24.5 295.54M24.1 308.1L37 308.1M24.1 314.38L37 314.38M24.1 308.1L24.1 314.38M23.2 301.82L37 301.82M23.2 311.24L24.1 311.24M23.2 301.82L23.2 311.24M20.5 292.4L24.5 292.4M20.5 306.53L23.2 306.53M20.5 292.4L20.5 306.53M19.5 265.71L21 265.71M19.5 299.46L20.5 299.46M19.5 265.71L19.5 299.46M22.8 320.66L37 320.66M22.8 326.94L37 326.94M22.8 320.66L22.8 326.94M23.7 333.22L37 333.22M23.7 339.5L37 339.5M23.7 333.22L23.7 339.5M21.4 345.78L37 345.78M21.4 352.06L37 352.06M21.4 345.78L21.4 352.06M19.2 336.36L23.7 336.36M19.2 348.92L21.4 348.92M19.2 336.36L19.2 348.92M18.6 323.8L22.8 323.8M18.6 342.64L19.2 342.64M18.6 323.8L18.6 342.64M18 282.59L19.5 282.59M18 333.22L18.6 333.22M18 282.59L18 333.22M17.6 230.39L19 230.39M17.6 307.9L18 307.9M17.6 230.39L17.6 307.9M15.1 204.48L20.8 204.48M15.1 269.14L17.6 269.14M15.1 204.48L15.1 269.14M6.25 109.13L18.3 109.13M6.25 236.81L15.1 236.81M6.25 109.13L6.25 236.81" stroke="#6a6a6a" stroke-width="0.8" fill="none"/>
<defs><filter id="bl" x="-20%%" y="-20%%" width="140%%" height="140%%"><feGaussianBlur stdDeviation="0.7"/></filter></defs>
<path d="M424.2 117L421 114.5L417 116L413 121L410 127L408.3 135L407.6 145L408 156.5L409.5 162L411.5 166.8L414.4 172.2L417.8 176L422 178.3L427 179L431.8 178.5L435.5 176L437.9 172.4L439.7 166.3L440.8 156.5L440.8 144.3L439.6 136L438 128L436.5 116L435.8 106L433.2 102L431 105L430.1 120L429.3 132L428.4 144.3L427.7 156.5L427.2 163.5L426.6 156.5L425.9 144.3L424.9 132 Z" fill="#c3c3c3" stroke="#c3c3c3" stroke-width="0.8" stroke-linejoin="round" filter="url(#bl)"/>
<path d="M402.93 157.77h0M409.17 120.2h0M407.01 164.78h0M406.77 136.34h0M403.3 139.87h0M411.18 121.77h0M398.55 112.56h0M402.32 138.17h0M402.35 103.51h0M406.16 129.29h0M401.97 148.9h0M404.65 146.14h0M406.67 124.16h0M408.69 161.13h0M404.2 163.64h0M413.84 114.83h0M404.79 118.02h0M406.03 165.04h0M405.05 127.73h0M413.53 110.91h0M400.85 156.67h0M402.17 116.85h0M414.72 114.73h0M406.18 157.35h0M406.76 158.27h0M407.2 114.67h0M412.43 110.47h0M408.47 122.68h0M408.92 128.54h0M407.31 142.29h0M411.83 103.37h0M396.29 119.8h0M394.44 128.71h0M402.43 156.47h0M410.53 110.84h0M403.86 140.11h0M415.12 111.71h0M413.55 100.48h0M403.88 133.53h0M403.67 122.17h0M400.45 152.61h0M406.26 129.11h0M406.9 161.31h0M405.5 147.08h0M406.18 147.25h0M412.19 122.25h0M401.48 145.84h0M404.63 126.79h0M407.13 155.93h0M401.96 166.78h0M403.82 146.04h0M404.21 128.23h0M399.58 146.45h0M404.06 113.31h0M399.03 131.06h0M405.93 130.63h0M400.76 130.47h0M397.81 146.85h0M408.03 129.37h0M418.65 102.75h0M407.22 122.72h0M405.78 125.08h0M412.71 113.11h0M406.06 144.78h0M402.87 128.13h0M408.32 134.76h0M407.7 123.62h0M408.3 163.83h0M407.43 130.08h0M401.86 127.66h0M411.05 115.85h0M415.94 103.35h0M402.28 121.83h0M418.84 102.12h0M406.79 159.88h0M404.68 155.35h0M411.73 111.99h0M409.91 109.49h0M402.9 139.56h0M408.3 122.31h0M408.52 165.99h0M405.93 167.74h0M404.86 121.61h0M402.38 148.83h0M408.58 111.14h0M410.32 119.68h0M407.38 145.04h0M413.73 115.53h0M411.65 102.59h0M405.24 156.81h0M404.71 122.26h0M408.12 158.02h0M405.1 141.23h0M405.07 119.16h0M407.68 154.74h0M412.32 113.27h0M415.33 100.2h0M412.8 103.11h0M412.5 99.07h0M402.19 124.01h0M402.62 156.93h0M404.15 131.57h0M397.43 133.51h0M406.53 136.91h0M409.64 121.25h0M405.26 153.34h0M405.49 164.23h0M407.91 162.23h0M400.99 146.97h0M407.21 138.57h0M397.47 144.61h0M415.97 103.58h0M407.5 138.9h0M414.87 109.3h0M409.24 109h0M397.05 143.83h0M405.17 162.43h0M404.05 149.04h0M406.2 126.86h0M403.6 118.36h0M407.51 149.81h0M403.5 122.38h0M399.13 163.6h0M405.34 158.91h0M404.14 153.55h0M408.26 163.11h0M417.28 107.1h0M414.91 110.01h0M411.73 105.79h0M404.88 161.04h0M407.45 133.55h0M407.05 167.98h0M404.02 136.16h0M402 137.01h0M411.45 119.49h0M417.87 98.7h0M399.97 134.86h0M404.93 162.4h0M408.53 116.53h0M404.31 138.03h0M405.97 154.3h0M408.69 123.24h0M405.28 135.56h0M407.2 117.89h0M407.03 137.91h0M414.2 114.72h0M415.87 109.07h0M412.09 114.91h0M406.91 139.08h0M414.03 105.99h0M408.96 121.83h0M406.74 163.73h0M409.83 98.41h0M416 112.29h0M410.05 124.08h0M405.26 130.53h0M418.63 101.73h0M399.2 154.32h0M403.58 120.06h0M409.1 119.79h0M407.8 114.22h0M415.26 104.39h0M393.24 127.85h0M401.88 112.23h0M413.5 98.48h0M416.59 101.04h0M403.32 130.92h0M408.85 123.77h0M404.26 131.03h0M406.7 153.54h0M406.04 112.2h0M407.42 165.33h0M404.64 156.63h0M406.35 140.78h0M404.97 149.9h0M406.68 135.14h0M407.4 147.01h0M409.71 124.84h0M411.25 103.06h0M406.82 116.29h0M406.23 162.95h0M403.78 133.81h0M402.73 156.24h0M408.04 124.28h0M403.08 147.86h0M419.8 100.33h0M401 120.56h0M405.83 135.09h0M406.66 128.54h0M403.04 141.81h0M405.21 117.94h0M402.7 147.31h0M407.64 166.32h0M407.43 115.68h0M405.05 146.59h0M406.56 159.51h0M405.31 150.61h0M400.18 129.09h0M417.21 107.29h0M402.46 156.2h0M410.6 102.2h0M408.15 125.31h0M405.1 162.55h0M410.52 123.37h0M407.21 162.79h0M407.11 167.54h0M407.46 147.48h0M403.95 161.05h0M411.52 117.62h0M403.14 116.37h0M407.17 128.51h0M406.12 154.38h0M412.9 118.42h0M405.55 149.84h0M410.2 115.94h0M407.69 134.58h0M402.04 137.39h0M406.32 119.45h0M399.45 126.91h0M414.89 113.27h0M418.64 98.02h0M405.71 152.82h0M415.32 112.9h0M401.02 119.99h0M412.57 107h0M415.43 101.98h0M408.67 119.2h0M406.84 127.85h0M410.7 122.12h0M408.62 122.13h0M406.47 161.02h0M404.03 118.13h0M415.5 106.1h0M402.48 146.59h0M407.51 148.88h0M417.88 99.49h0M409.34 121.24h0M403.61 125.09h0M398.14 120.59h0M410.83 108.74h0M414.3 107.43h0M418.85 99.13h0M412.45 110.8h0M407.05 135.24h0M399.22 134.64h0M405.69 153.3h0M406.19 133.36h0M408.75 110.93h0M405.24 156.89h0M402.1 121.49h0M400.56 123.31h0M406.21 131.95h0M407.09 144.01h0M413.32 115.1h0M405.56 129.06h0M411.11 119.01h0M407.67 114.53h0M413.52 99.61h0M407.88 124.82h0M407.12 132.39h0M409.06 118.09h0M404.52 164.14h0M414.65 102h0M404.73 162.28h0M412.66 117.15h0M406.84 152.59h0M415.89 109.61h0M403.78 159.65h0M404.4 128.44h0M401 146.66h0M402.77 127.13h0M406.95 160.39h0M404.15 137.35h0M403.86 132.36h0M407.76 104.99h0M413.99 111.93h0M400.91 137.62h0M413.14 103.35h0M406.48 145.68h0M406.67 140.79h0M406.28 159.1h0M405.98 139.8h0M405.2 135.83h0M414.12 99.08h0M402 148.46h0M414.7 113.69h0M416.83 114h0M399.96 114.04h0M423.28 101.89h0M418.96 113.66h0M421.46 114.49h0M421.51 101.56h0M417.85 106.43h0M418.01 101.7h0M409.65 112.8h0M419.28 97.17h0M410.68 102.53h0M404.78 110.41h0M403.56 115.52h0M419.34 113.28h0M417.15 115.06h0M422.4 114.03h0M408.5 114.57h0M413.76 112.13h0M419.37 101.95h0M417.03 111.33h0M422.82 112.53h0M418.4 114.85h0M411.98 114.32h0M416.3 102.17h0M414.94 115.08h0M412.88 115.73h0M423.57 112.37h0M416.77 104.16h0M416.13 116.57h0M413.41 104.4h0M417.49 110.18h0M422.53 107.19h0M410.31 113.83h0M400.55 98.52h0M409.07 111.12h0M403.23 115.92h0M422.08 112.6h0M419.12 111.25h0M417.14 112.72h0M417.42 112.18h0M400.14 118.38h0M417.55 106.08h0M418.61 107.5h0M416.31 112.98h0M421.27 111.74h0M418.34 114.85h0M410.6 110.35h0M402.37 114.94h0M423.77 116.24h0M422.72 115.07h0M416.91 103.64h0M416.98 114.19h0M405.27 117.45h0M412.59 116.78h0M419.56 111.86h0M416.03 115.71h0M411.17 111.82h0M419.62 114.19h0M421.17 109.32h0M423.5 98.27h0M411.81 111.7h0M408.9 115.63h0M421.9 111.21h0M413.73 116.96h0M404.47 112.88h0M404.98 108.64h0M418.3 108.49h0M411.19 102.22h0M404.82 108.58h0M393.97 116.88h0M421.84 110.79h0M415.9 116.56h0M420.65 106.27h0M422.78 115.15h0M421.96 102.85h0M402.23 118.91h0M407.71 114.55h0M411.53 115.23h0M404.92 115.72h0M421 106.24h0M418.4 111.43h0M407.22 108.29h0M421.06 103.51h0M415.42 111.7h0M423.35 112.39h0M420.62 105.82h0M406.51 107.91h0M417.3 115.68h0M417.13 113.76h0M419.42 114.81h0M413.08 101.71h0M420.16 111.65h0M410.9 107.95h0M418.24 96.3h0M412.27 118h0M420.16 108.73h0M414.65 118.15h0M410.17 102.15h0M418.06 109.9h0M422.01 114.32h0M419.26 107.26h0M415.8 109.78h0M415.84 104.15h0M393.86 103.18h0M412.79 113.51h0M418.18 115.53h0M407.83 114.37h0M420.1 112.88h0M423.83 112.71h0M413.28 109.48h0M413.82 100.58h0M423.1 110.62h0M423.55 108.84h0M422.32 112.54h0M423.58 100.79h0M414.85 118.52h0M395.17 117.74h0M423.69 116.3h0M413.58 113.97h0M423.11 103.49h0M423.15 115.11h0M421.96 112.64h0M408.63 101.58h0M415.81 116.86h0M399.39 116.06h0M406.96 113.93h0M419.83 112.74h0M413.75 113.98h0M409.5 117.9h0M410.08 118.01h0M397.74 113.92h0M400.41 114.98h0M411.22 101.71h0M419.46 109.4h0M415.4 106.41h0M422.13 106.09h0M412.92 111.65h0M419.4 109.32h0M418.05 107.91h0M404.57 115.26h0M414.96 118.08h0M420.27 104.95h0M423.36 115.35h0M416.58 111.02h0M419.15 115.03h0M405.62 96.61h0M408.25 116.56h0M421.01 111.92h0M416.16 110.23h0M415.48 117.85h0M410.4 114.73h0M411.51 108.79h0M414.78 108.74h0M422.23 106.3h0M415.51 115.27h0M419.13 114.22h0M403.21 114.28h0M419.73 106.73h0M418.95 111.84h0M419.1 109.05h0M421.93 112.69h0M413.36 115.29h0M414.94 97.76h0M415.11 109.35h0M408.32 106.33h0M423.24 109.53h0M404.59 110.3h0M419.91 101.5h0M406.27 113.26h0M423.88 113.03h0M453.49 98.34h0M442.2 154.01h0M440.49 96.55h0M443.49 165.51h0M440.83 104.21h0M449.75 135.03h0M451.93 142.76h0M447.98 119.44h0M456.94 114.11h0M447.27 144.63h0M442.1 151.26h0M442.56 168.81h0M449.8 138.39h0M442.04 124.73h0M441.22 99.08h0M440.89 170.21h0M451.92 100.99h0M441.16 131.97h0M441.76 168.96h0M449.57 114.53h0M442.66 98.31h0M445.09 139.98h0M443.8 157.36h0M441.1 121.18h0M442.81 136.86h0M442.86 137.07h0M444.3 158.09h0M442.87 99.62h0M446.36 104.95h0M443.34 131.97h0M461.58 96.35h0M442.5 136.5h0M447.45 159.2h0M444.93 158.37h0M441.87 119.46h0M441.93 164.79h0M448.15 98.31h0M446.61 118.41h0M441.26 168.73h0M440.85 155.37h0M447.17 121.9h0M443.01 99.82h0M449.01 114.81h0M450.6 102.34h0M443.93 155.52h0M451.2 113.14h0M444.19 136.04h0M443.3 139.49h0M447.5 162.15h0M447.11 148.54h0M444.81 120.61h0M457.53 136h0M452.95 130.94h0M442.76 146.49h0M448.92 156.74h0M446.26 151.27h0M442.02 100.74h0M439.68 168.99h0M445.92 136.02h0M446.08 131.18h0M443.86 102.52h0M445.06 125.5h0M452.7 116.87h0M443.24 146.73h0M459.61 120.74h0M449.43 99.56h0M449.9 125.59h0M448.27 119.53h0M443.49 136.22h0M446.93 119.56h0M442.31 96.53h0M439.53 102.08h0M444.63 149.41h0M450.11 125.36h0M441.45 139.07h0M441.83 148.29h0M441.95 163.36h0M442.7 124.36h0M445.45 151.6h0M444.12 168.04h0M445.6 161.86h0M443.74 117.68h0M442.66 108.77h0M448.08 138.37h0M441.46 157.19h0M447.14 148.04h0M443.78 169.44h0M443.68 125.77h0M444.59 159.9h0M443.13 148h0M445.45 118.49h0M443.55 152.38h0M442.67 158.92h0M441.59 140.56h0M443.24 97.94h0M443.4 170.78h0M442.96 159.32h0M451.64 125.31h0M444.88 137.75h0M446.49 151.58h0M441.81 159.76h0M441.66 153.77h0M444.94 142.82h0M442.37 161.83h0M440.59 99.89h0M445.17 142.18h0M454.9 143.48h0M454.82 130.64h0M448.87 135.13h0M440.93 171.41h0M442.53 159.13h0M457.04 119.43h0M445.55 161.13h0M445.14 141.08h0M443.87 135.76h0M442.35 167.25h0M442.36 109.43h0M441.63 163.68h0M442.94 154.73h0M453.63 147.47h0M446.84 102.6h0M440.46 128.39h0M451.6 102.22h0M443.59 164.44h0M442.86 146.44h0M442.06 153.73h0M444.31 139.36h0M444.82 148.4h0M440.31 166.31h0M447.42 115.4h0M456.6 105.63h0M448.34 108.85h0M446.14 119.18h0M447.63 145.93h0M447.87 125.74h0M439.96 137.55h0M441.66 163.22h0M442.25 121.79h0M440.39 165.08h0M446.08 136.88h0M448.83 107.32h0M449.25 115.84h0M442.77 150.78h0M444.79 168.85h0M442.47 140.66h0M438.63 171.11h0M448.64 137.11h0M454.72 120.27h0M445.37 96.1h0M446.7 104.89h0M444.05 125.07h0M450.29 156.62h0M456.89 116.81h0M445.34 135.69h0M447.2 105.87h0M443.04 159.24h0M441.37 155.39h0M447.75 96.15h0M441.63 123.33h0M444.8 133.03h0M452.89 144.41h0M446.83 159.61h0M447.95 143.77h0M446.79 160.95h0M445.85 150.04h0M450.48 102.08h0M444.65 112.57h0M443.58 129.78h0M446.14 100.25h0M443.56 163.96h0M444.15 141.05h0M440.82 145h0M441.79 121.63h0M443.43 142.22h0M442.77 167.71h0M442.07 157.54h0M444.05 136.79h0M447.12 152.94h0M457.23 124.61h0M444.04 128.4h0M444.79 130.42h0M451.5 121.95h0M455.91 116.18h0M443.16 161.8h0M440.81 113.61h0M444.93 118.68h0M456.03 125.49h0M441.22 166.26h0M444.64 130.83h0M449.2 102.74h0M443.15 152.36h0M441.28 96.42h0M444.01 155.33h0M450.27 105.97h0M445.96 122.41h0M455.55 106.29h0M456.15 102.56h0M443.98 146.51h0M450.65 130.4h0M444.16 148.88h0M446.1 96.09h0M442.5 158.72h0M444.41 137.2h0M441.34 168.19h0M449.81 112.39h0M448.92 138.99h0M447.55 161.23h0M444.13 138.59h0M444.67 144.72h0M441.47 116.85h0M442.21 165.15h0M444.01 168.06h0M449.45 106.54h0M442.7 152.87h0M446.59 107.84h0M445.94 121.24h0M448.07 133.23h0M446.8 114.69h0M440.99 126.14h0M443.33 166.02h0M441.74 122.28h0M441.99 99.94h0M441.49 162.86h0M445.45 142.13h0M456.27 103.64h0M449.75 134.79h0M443.3 139.22h0M445.99 102.45h0M447.4 121.71h0M444.28 103.91h0M441.68 153.82h0M450.01 104.39h0M441.57 106.32h0M449.44 126.06h0M439.89 113.77h0M445.41 101.2h0M443.49 100.46h0M442.03 144.07h0M440.28 110.81h0M465.19 108.41h0M448.2 133.4h0M448.09 123.85h0M444.08 135.7h0M440.75 168.68h0M442.54 163.39h0M442.76 133.27h0M451.52 96.75h0M453.88 107.89h0M442.24 153.77h0M444.47 151.36h0M442.21 164.4h0M448.56 118.44h0M442.64 117.45h0M442.23 114.8h0M443.53 134.32h0M441.1 137.1h0M452.61 101.66h0M454.25 107.15h0M445.82 127.92h0M452.26 111h0M452.59 97.55h0M443.26 149.78h0M454.59 145.63h0M441.93 116.72h0M445.79 152.53h0M449.39 110.82h0M446.17 140.07h0M444.63 117.05h0M441.91 111.09h0M441.85 167.29h0M444.37 116.45h0M444.76 117.87h0M456.7 111.89h0M444.06 149.25h0M440.9 151.92h0M441.47 126.41h0M441.57 122.68h0M446.34 121.14h0M443.78 103.43h0M442.87 135.77h0M445.1 166.61h0M445.51 107.14h0M441.9 160.37h0M457.26 126.23h0M450.62 144.39h0M443.73 116.56h0M449.68 152.84h0M444.44 170.99h0M441.41 124.74h0M452.6 98.75h0M449.51 124.13h0M445.24 165.11h0M437.03 92.34h0M438.53 105.08h0M440.38 88.49h0M434.45 97.38h0M438.24 96.11h0M432.45 101.3h0M439.32 94.09h0M441.13 93.75h0M436.86 99.08h0M445.95 105.8h0M439.79 88.08h0M443.96 96.48h0M435.64 97.85h0M435.77 102.49h0M432.2 103.02h0M434.16 99.31h0M432.2 102.77h0M442.26 89.93h0M437.03 92.34h0M438.02 96.58h0M437.15 93.1h0M447 101.59h0M439.91 91.12h0M438.97 97.6h0M443.08 95.51h0M450.08 93.29h0M432.77 89.07h0M446.56 95.09h0M437.36 100.71h0M433.87 99.97h0M458.13 104.41h0M436.99 91.41h0M439.43 105.24h0M437.93 98.93h0M431.88 103.38h0M433.96 97.15h0M438.49 99.36h0M437.92 91.6h0M450.92 92.23h0M445.3 103.2h0M444.35 101.41h0M434.83 100.17h0M435.32 98.93h0M431.88 98.16h0M435.3 89.93h0M439.87 104.49h0M432.83 92.88h0M441.84 94.68h0M431.9 98.81h0M452.42 90.81h0M446.89 103.3h0M442.4 101.75h0M432.53 92.14h0M446.12 99.65h0M441.05 100.86h0M433.41 98.95h0M435.47 98.68h0M447.47 100.42h0M434.82 98.66h0M433.8 94.89h0M432.13 101.21h0M436.52 102.45h0M432.51 101.38h0M433.98 97.8h0M440.88 104.2h0M444.56 94.34h0M432.32 96.27h0M436.02 93.06h0M433.41 97.47h0M445.31 94.58h0M439.47 99.99h0M442.77 105.77h0M441.21 91h0M439.34 88.66h0M435.24 103.16h0M446.63 105.64h0M434.03 97.15h0M436.19 88.57h0M437.06 94.83h0M445.4 100.03h0M432.32 100.28h0M439.14 94.32h0M432.2 97.14h0M432.46 91.73h0M435.04 94.56h0M438.1 95.12h0M441.53 102.97h0M434.55 93.26h0M437.22 90.25h0M443.01 98.52h0M446.4 98.57h0M433.71 102.21h0M439.41 102.08h0M436.5 90.82h0M434.11 101.28h0M431.93 101.32h0M437.2 95.88h0M434.47 96.2h0M446.33 102.39h0M437.66 100.24h0M439.25 175.47h0M439.95 173.03h0M439.96 174.38h0M437.29 176.07h0M438.11 174.95h0M436.75 175.79h0M437.93 175.23h0M437.81 176.31h0M415.83 174.73h0M413.64 175.24h0M424.84 179.46h0M438.3 174.63h0M427.79 179.01h0M432.79 177.85h0M438.57 175.75h0M440.09 173.91h0M416.54 176.86h0M416.37 176.5h0M432.78 178.59h0M414.22 173.79h0M431.63 179.09h0M440.91 173.7h0M428.53 178.85h0M418.64 177.23h0M418.82 177.71h0M413.14 172.48h0M420.88 177.78h0M439.45 173.04h0M418.2 177.94h0M415.53 174.64h0M427.4 179.04h0M438.31 176.14h0M438.25 174.53h0M416.86 175.26h0M423.58 179.02h0M420.45 177.73h0M417.55 176.72h0M412.85 172.43h0M440.1 173.45h0M414.31 175.2h0M412.19 172.65h0M439.24 175.97h0M418.86 178.17h0M424.33 178.8h0M439.61 172.11h0M420.26 178.28h0M431.3 178.68h0M434.91 176.66h0M418.95 177.65h0M423.86 179.14h0M422.3 179.14h0M427.36 179.44h0M435.58 177.53h0M438.08 176.14h0" stroke="#bebebe" stroke-opacity="0.72" stroke-width="2.4" stroke-linecap="round" fill="none"/>
<path d="M403.98 79.63h0M388.82 92.22h0M403.85 78.89h0M384.63 93.84h0M390.02 81.9h0M419.03 75.22h0M398.62 79.68h0M390.87 84.6h0M416.37 75.54h0M395.39 92.57h0M400.06 72.88h0M396.32 93.2h0M404.63 94.29h0M386.28 74.94h0M415.12 76.92h0M392.41 82.23h0M408.61 72.51h0M397.65 79.11h0M402.59 91.61h0M392.81 72.55h0M390.6 91.74h0M400.06 77.11h0M442.04 87.04h0M439.37 83.4h0M437.53 87.6h0M448.2 73.78h0M437.78 80.16h0M433.33 84.87h0M435.98 74.02h0M448.23 67.45h0M442.86 79.92h0M439.06 87.72h0M434.69 86.19h0M438.2 87.6h0M434.95 86.13h0M436.57 77.93h0M440.1 60.43h0M440.2 76.1h0M454.16 85.95h0M450.51 88h0M435.39 79.87h0M443.91 84.73h0M435.21 78.03h0M447.05 66.24h0M443.51 86.1h0M437.68 62.18h0M437.85 65.94h0M444.75 75.36h0M446.12 84.33h0M433.49 83.65h0M459.27 74.56h0M442.04 85.07h0M440.88 85.99h0M442.38 77.26h0M441.37 76.21h0M438.72 75.74h0M438.53 74.56h0M438.02 83.24h0M440.46 77.38h0M439.37 82.4h0M445.44 82.49h0M446.77 87.82h0M446.26 72.66h0M434.12 78.86h0M439.95 74.66h0M437.19 77.47h0M442.68 80.5h0M433.75 79.41h0M451.38 72.86h0M443.4 78.3h0M441.67 58.6h0M441.51 61.68h0M438.5 72.32h0M444.11 68.26h0M436.12 68.44h0M439.62 67.19h0M434.06 84.39h0M442.4 73.8h0M434.78 75.46h0M437.4 59.89h0M444.29 62.36h0M435.83 84.42h0M457.36 40.36h0M443.39 47.22h0M467.66 57.17h0M444.15 51.64h0M467.66 39.52h0M446.26 56.63h0M449.36 33.73h0M446.15 40.41h0M460.33 40.33h0M451.75 32.46h0M450 57.03h0M445.34 29.22h0" stroke="#c4c4c4" stroke-opacity="0.5" stroke-width="2.4" stroke-linecap="round" fill="none"/>
<line x1="346" y1="172.3" x2="513" y2="172.3" stroke="#e8a0a0" stroke-width="0.6" stroke-dasharray="1,1"/>
<path d="M453.7 28.9L486.9 28.9M461.5 42.6L486.9 42.6M446.2 72.8L487 64.5M451 76.1L487 70.6M460.4 78L487 76.5M446.7 81L487 81.8M467 86.1L487 87.2M441.9 89.6L487 92M443.6 97L481.8 97M456 121L486.6 120M444.6 125.2L486.6 125.6M437 139.4L486.6 139M440 153.7L486.6 153.1M436.1 160.8L486.6 158.5M434.3 165.3L486.6 164.1M432.9 169.7L486.6 169.5M431.1 173.8L486.6 175.5" stroke="#b8b8b8" stroke-width="0.45" fill="none"/>
<circle cx="452.2" cy="28.9" r="1.85" fill="#db6a68" fill-opacity="0.88"/>
<circle cx="460" cy="42.6" r="1.85" fill="#db6a68" fill-opacity="0.88"/>
<circle cx="444.7" cy="72.8" r="1.85" fill="#db6a68" fill-opacity="0.88"/>
<circle cx="449.5" cy="76.1" r="1.85" fill="#db6a68" fill-opacity="0.88"/>
<circle cx="458.9" cy="78" r="1.85" fill="#db6a68" fill-opacity="0.88"/>
<circle cx="445.2" cy="81" r="1.85" fill="#db6a68" fill-opacity="0.88"/>
<circle cx="465.5" cy="86.1" r="1.85" fill="#db6a68" fill-opacity="0.88"/>
<circle cx="440.4" cy="89.6" r="1.85" fill="#db6a68" fill-opacity="0.88"/>
<circle cx="442.1" cy="97" r="1.85" fill="#db6a68" fill-opacity="0.88"/>
<circle cx="454.5" cy="121" r="1.85" fill="#db6a68" fill-opacity="0.88"/>
<circle cx="443.1" cy="125.2" r="1.85" fill="#db6a68" fill-opacity="0.88"/>
<circle cx="435.5" cy="139.4" r="1.85" fill="#db6a68" fill-opacity="0.88"/>
<circle cx="438.5" cy="153.7" r="1.85" fill="#db6a68" fill-opacity="0.88"/>
<circle cx="434.6" cy="160.8" r="1.85" fill="#db6a68" fill-opacity="0.88"/>
<circle cx="432.8" cy="165.3" r="1.85" fill="#db6a68" fill-opacity="0.88"/>
<circle cx="431.4" cy="169.7" r="1.85" fill="#db6a68" fill-opacity="0.88"/>
<circle cx="429.6" cy="173.8" r="1.85" fill="#db6a68" fill-opacity="0.88"/>
<text x="488.4" y="30.8" font-size="5.3" fill="#222">CPXM1</text>
<text x="488.4" y="44.5" font-size="5.3" fill="#222">NYNRIN</text>
<text x="488.5" y="66.4" font-size="5.3" fill="#222">DNMT3B</text>
<text x="488.5" y="72.5" font-size="5.3" fill="#222">FAM30A</text>
<text x="488.5" y="78.4" font-size="5.3" fill="#222">MMRN1</text>
<text x="488.5" y="83.7" font-size="5.3" fill="#222">LAPTM4B</text>
<text x="488.5" y="89.1" font-size="5.3" fill="#222">CD34</text>
<text x="488.5" y="93.9" font-size="5.3" fill="#222">CDK6</text>
<text x="483.3" y="98.9" font-size="5.3" fill="#222">ARHGAP22</text>
<text x="488.1" y="121.9" font-size="5.3" fill="#222">DPYSL3</text>
<text x="488.1" y="127.5" font-size="5.3" fill="#222">ZBTB46</text>
<text x="488.1" y="140.9" font-size="5.3" fill="#222">BEX3</text>
<text x="488.1" y="155" font-size="5.3" fill="#222">EMP1</text>
<text x="488.1" y="160.4" font-size="5.3" fill="#222">SMIM24</text>
<text x="488.1" y="166" font-size="5.3" fill="#222">SOCS2</text>
<text x="488.1" y="171.4" font-size="5.3" fill="#222">AKR1C3</text>
<text x="488.1" y="177.4" font-size="5.3" fill="#222">ADGRG1</text>
<rect x="345.3" y="22.1" width="168.5" height="163.7" fill="none" stroke="#222" stroke-width="1"/>
<line x1="342.6" y1="177.6" x2="345.3" y2="177.6" stroke="#222" stroke-width="0.8"/>
<text x="339.7" y="179.6" font-size="6.3" text-anchor="end" fill="#333">0</text>
<line x1="342.6" y1="134.6" x2="345.3" y2="134.6" stroke="#222" stroke-width="0.8"/>
<text x="339.7" y="136.6" font-size="6.3" text-anchor="end" fill="#333">10</text>
<line x1="342.6" y1="91.6" x2="345.3" y2="91.6" stroke="#222" stroke-width="0.8"/>
<text x="339.7" y="93.6" font-size="6.3" text-anchor="end" fill="#333">20</text>
<line x1="342.6" y1="48.6" x2="345.3" y2="48.6" stroke="#222" stroke-width="0.8"/>
<text x="339.7" y="50.6" font-size="6.3" text-anchor="end" fill="#333">30</text>
<line x1="352.7" y1="185.8" x2="352.7" y2="188.6" stroke="#222" stroke-width="0.8"/>
<text x="352.7" y="196.6" font-size="6.3" text-anchor="middle" fill="#333">−5.0</text>
<line x1="389.7" y1="185.8" x2="389.7" y2="188.6" stroke="#222" stroke-width="0.8"/>
<text x="389.7" y="196.6" font-size="6.3" text-anchor="middle" fill="#333">−2.5</text>
<line x1="426.7" y1="185.8" x2="426.7" y2="188.6" stroke="#222" stroke-width="0.8"/>
<text x="426.7" y="196.6" font-size="6.3" text-anchor="middle" fill="#333">0.0</text>
<line x1="463.7" y1="185.8" x2="463.7" y2="188.6" stroke="#222" stroke-width="0.8"/>
<text x="463.7" y="196.6" font-size="6.3" text-anchor="middle" fill="#333">2.5</text>
<line x1="500.7" y1="185.8" x2="500.7" y2="188.6" stroke="#222" stroke-width="0.8"/>
<text x="500.7" y="196.6" font-size="6.3" text-anchor="middle" fill="#333">5.0</text>
<text x="429" y="208.2" font-size="8.3" text-anchor="middle" textLength="44.3" lengthAdjust="spacingAndGlyphs" fill="#222">log2(fold change)</text>
<text transform="translate(325.7,103.7) rotate(-90)" x="0" y="0" font-size="8.2" text-anchor="middle" textLength="32" lengthAdjust="spacingAndGlyphs" fill="#222">−log10(FDR)</text>
<path d="M345.5 340.5L346.2 310L346.8 292L347.4 282L348.2 278.5L349.2 279L350.7 275.4L353 272.5L356 270L358.5 268.5L361.4 267.1L364 268.3L366.7 269.4L369 270.5L373.4 272.8L386.8 280.8L400 288.8L420 300L440 311.2L460 322.4L480 333.6L486.8 337.2L490 337.8L493 336.8L496 337.6L500 340.8L502 341.6L507 340.5" stroke="#3bb8b0" stroke-width="0.9" fill="none" stroke-linejoin="round"/>
<path d="M345.5 340.5L346.3 320L347 300L347.6 292L348.2 289L348.8 281L349.4 276L349.8 272L350.2 266L350.6 267.5L351 260L351.7 255L352.3 252L353 249.4L354 250.2L356.4 252L358.5 253.3L360.4 254L361.4 254.7L363.5 254L366.7 254.7L368.5 255.5L370.7 256L380 261.4L393.5 269.4L400 273.4L410 278.2L425 285.8L440 294.4L460 306.8L480 319.4L500 332.2L507 340.5" stroke="#e8836f" stroke-width="0.9" fill="none" stroke-linejoin="round"/>
<path d="M345.5 340.5L346.2 305L346.8 290L347.4 278L348 268L348.7 258L349.6 254L350.7 250.7L352 249L353.4 247.4L356 246.2L360 245.4L363 246.2L366.7 247.4L373 251.2L380 255.4L393.5 264L400 268.2L420 280.6L440 293.2L460 306L480 318.8L500 331.6L507 340.5" stroke="#4a78c4" stroke-width="0.9" fill="none" stroke-linejoin="round"/>
<path d="M346.44 351V362M347.37 351V362M347.48 351V362M347.75 351V362M348.66 351V362M350.11 351V362M352.14 351V362M352.87 351V362M353.61 351V362M354.4 351V362M354.76 351V362M357.08 351V362M357.21 351V362M357.26 351V362M357.74 351V362M359.13 351V362M359.47 351V362M359.68 351V362M360.23 351V362M362.49 351V362M362.76 351V362M363.62 351V362M367.28 351V362M367.3 351V362M368.15 351V362M369.19 351V362M370.17 351V362M371.65 351V362M371.71 351V362M372.56 351V362M372.77 351V362M373.47 351V362M373.93 351V362M375.21 351V362M375.91 351V362M376.04 351V362M377.21 351V362M377.72 351V362M378.12 351V362M378.12 351V362M379.41 351V362M380.32 351V362M380.67 351V362M381.24 351V362M381.74 351V362M382.3 351V362M382.41 351V362M383.41 351V362M383.58 351V362M385.46 351V362M386.26 351V362M386.43 351V362M386.44 351V362M387.1 351V362M387.12 351V362M388.13 351V362M389.19 351V362M389.26 351V362M389.89 351V362M389.91 351V362M390.81 351V362M393.86 351V362M395.34 351V362M395.96 351V362M395.99 351V362M396.54 351V362M396.66 351V362M396.84 351V362M398.86 351V362M399.02 351V362M400.26 351V362M400.52 351V362M401.33 351V362M401.48 351V362M401.86 351V362M402.41 351V362M402.43 351V362M402.7 351V362M402.96 351V362M403.88 351V362M404.78 351V362M405.29 351V362M405.34 351V362M411.11 351V362M411.5 351V362M412.76 351V362M412.76 351V362M413.11 351V362M414.58 351V362M416.81 351V362M417.08 351V362M418.74 351V362M419.95 351V362M422.34 351V362M424.4 351V362M425.06 351V362M426.65 351V362M430.71 351V362M431.14 351V362M433.15 351V362M436.72 351V362M437.27 351V362M440.57 351V362M444.04 351V362M446.03 351V362M447.15 351V362M447.68 351V362M447.8 351V362M447.98 351V362M447.99 351V362M448.76 351V362M452.65 351V362M453.95 351V362M455.6 351V362M455.97 351V362M456.87 351V362M457.26 351V362M457.73 351V362M458.05 351V362M458.35 351V362M459.85 351V362M462.83 351V362M464.56 351V362M466.33 351V362M469.81 351V362M471.08 351V362M473.03 351V362M474.4 351V362M475.08 351V362M475.26 351V362M475.43 351V362M481.99 351V362M483.23 351V362M484.14 351V362M484.58 351V362M486.74 351V362M488.15 351V362M492.38 351V362M492.72 351V362M493.04 351V362M494.06 351V362M494.9 351V362M497.88 351V362M499.58 351V362M504.9 351V362" stroke="#2bb5a8" stroke-opacity="0.5" stroke-width="0.6" fill="none"/>
<path d="M347.77 362.5V372.5M349.12 362.5V372.5M349.41 362.5V372.5M352.49 362.5V372.5M352.55 362.5V372.5M354.16 362.5V372.5M362.73 362.5V372.5M363.55 362.5V372.5M365.62 362.5V372.5M366.78 362.5V372.5M367.72 362.5V372.5M371.75 362.5V372.5M377.24 362.5V372.5M378.04 362.5V372.5M378.27 362.5V372.5M378.69 362.5V372.5M380.35 362.5V372.5M383.04 362.5V372.5M384.48 362.5V372.5M384.49 362.5V372.5M385.89 362.5V372.5M389 362.5V372.5M390.43 362.5V372.5M391.82 362.5V372.5M392.88 362.5V372.5M395.81 362.5V372.5M395.85 362.5V372.5M401.91 362.5V372.5M404.24 362.5V372.5M407.71 362.5V372.5M409.3 362.5V372.5M411.26 362.5V372.5M411.32 362.5V372.5M411.72 362.5V372.5M411.79 362.5V372.5M422.01 362.5V372.5M423.8 362.5V372.5M428.34 362.5V372.5M433.19 362.5V372.5M433.84 362.5V372.5M436 362.5V372.5M440.57 362.5V372.5M446.64 362.5V372.5M450.36 362.5V372.5M450.37 362.5V372.5M452.4 362.5V372.5M453.62 362.5V372.5M462.67 362.5V372.5M466.41 362.5V372.5M467.38 362.5V372.5" stroke="#f0907c" stroke-opacity="0.5" stroke-width="0.6" fill="none"/>
<defs><linearGradient id="bg" x1="0" y1="0" x2="1" y2="0"><stop offset="0" stop-color="#2c5fb3"/><stop offset="0.7" stop-color="#3f70c0"/><stop offset="1" stop-color="#6f95d2"/></linearGradient></defs>
<rect x="345.8" y="374" width="50" height="11.4" fill="url(#bg)"/>
<path d="M396.05 374V385.4M397.6 374V385.4M398.72 374V385.4M399.35 374V385.4M399.94 374V385.4M400.1 374V385.4M400.35 374V385.4M400.73 374V385.4M404.3 374V385.4M407.62 374V385.4M410.37 374V385.4M411.47 374V385.4M411.73 374V385.4M412.65 374V385.4" stroke="#5a86cc" stroke-opacity="0.7" stroke-width="0.6" fill="none"/>
<path d="M420.01 374V385.4M423.05 374V385.4M425.57 374V385.4M429.29 374V385.4M429.43 374V385.4M430.77 374V385.4M432.45 374V385.4M434.93 374V385.4M438.37 374V385.4M443.63 374V385.4M443.66 374V385.4M443.88 374V385.4M443.94 374V385.4M444.93 374V385.4M447.51 374V385.4M449.32 374V385.4M451.93 374V385.4M457.11 374V385.4M458.53 374V385.4M459.78 374V385.4M459.87 374V385.4M460.22 374V385.4M462.1 374V385.4M462.79 374V385.4M462.93 374V385.4M463.43 374V385.4M468.17 374V385.4M469.68 374V385.4M470.02 374V385.4M471.81 374V385.4M473 374V385.4M474.4 374V385.4M480.12 374V385.4M480.62 374V385.4M487.81 374V385.4M491.59 374V385.4M493.64 374V385.4M494.24 374V385.4M496.27 374V385.4M498.07 374V385.4" stroke="#4a78c4" stroke-opacity="0.6" stroke-width="0.6" fill="none"/>
<path d="M383.54 374V385.4M389.2 374V385.4M392.03 374V385.4M385.13 374V385.4M380.21 374V385.4M368.22 374V385.4M357.55 374V385.4M356.67 374V385.4M369.28 374V385.4" stroke="#ffffff" stroke-opacity="0.4" stroke-width="0.6" fill="none"/>
<rect x="345.3" y="240.6" width="167.7" height="145" fill="none" stroke="#222" stroke-width="1"/>
<line x1="342.6" y1="340.5" x2="345.3" y2="340.5" stroke="#222" stroke-width="0.8"/>
<text x="339.7" y="342.5" font-size="6.3" text-anchor="end" fill="#333">0.00</text>
<line x1="342.6" y1="313.7" x2="345.3" y2="313.7" stroke="#222" stroke-width="0.8"/>
<text x="339.7" y="315.7" font-size="6.3" text-anchor="end" fill="#333">0.25</text>
<line x1="342.6" y1="286.9" x2="345.3" y2="286.9" stroke="#222" stroke-width="0.8"/>
<text x="339.7" y="288.9" font-size="6.3" text-anchor="end" fill="#333">0.50</text>
<line x1="342.6" y1="260.1" x2="345.3" y2="260.1" stroke="#222" stroke-width="0.8"/>
<text x="339.7" y="262.1" font-size="6.3" text-anchor="end" fill="#333">0.75</text>
<line x1="402.7" y1="385.6" x2="402.7" y2="388.4" stroke="#222" stroke-width="0.8"/>
<text x="402.7" y="397.7" font-size="6.3" text-anchor="middle" fill="#333">5000</text>
<line x1="459.9" y1="385.6" x2="459.9" y2="388.4" stroke="#222" stroke-width="0.8"/>
<text x="459.9" y="397.7" font-size="6.3" text-anchor="middle" fill="#333">10000</text>
<text x="428.9" y="409.0" font-size="8.2" text-anchor="middle" textLength="59.5" lengthAdjust="spacingAndGlyphs" fill="#222">Rank in ordered dataset</text>
<text transform="translate(322.6,312.6) rotate(-90)" x="0" y="0" font-size="8.2" text-anchor="middle" textLength="67.6" lengthAdjust="spacingAndGlyphs" fill="#222">Running enrichment score</text>
<line x1="359.2" y1="419.2" x2="364.3" y2="419.2" stroke="#e8836f" stroke-width="0.9"/>
<text x="367.2" y="421.5" font-size="6.5" textLength="42.7" lengthAdjust="spacingAndGlyphs" fill="#333" style="stroke-width:0.05px">EPPERT_LSC_R</text>
<line x1="359.2" y1="428.8" x2="364.3" y2="428.8" stroke="#3bb8b0" stroke-width="0.9"/>
<text x="367.2" y="431.1" font-size="6.5" textLength="132.1" lengthAdjust="spacingAndGlyphs" fill="#333" style="stroke-width:0.05px">IVANOVA_HEMATOPOIESIS_SC_LONG_TERM</text>
<line x1="359.2" y1="438.4" x2="364.3" y2="438.4" stroke="#4a78c4" stroke-width="0.9"/>
<text x="367.2" y="440.7" font-size="6.5" textLength="104.6" lengthAdjust="spacingAndGlyphs" fill="#333" style="stroke-width:0.05px">JAATINEN_HEMATOPOIETIC_SC_UP</text>
<rect x="0.5" y="0.5" width="519" height="448" fill="none" stroke="#505050" stroke-width="1.2"/>
</svg></body></html>
